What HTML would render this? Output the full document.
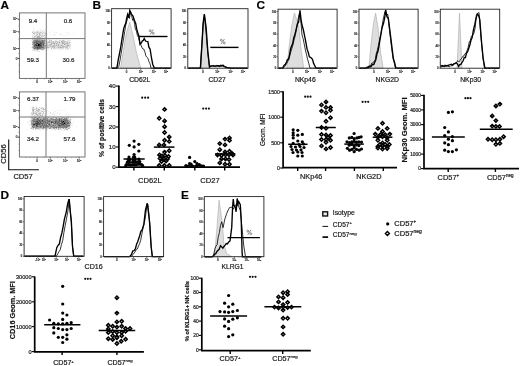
<!DOCTYPE html>
<html><head><meta charset="utf-8"><style>
html,body{margin:0;padding:0;background:#fff;width:520px;height:366px;overflow:hidden}
svg{display:block;font-family:"Liberation Sans", sans-serif;will-change:transform}
text{stroke:#1a1a1a;stroke-width:.2px}
</style></head><body>
<svg width="520" height="366" viewBox="0 0 520 366">
<rect width="520" height="366" fill="#fff"/>
<text x="0.4" y="8.9" font-size="11.8" text-anchor="start" font-weight="bold" fill="#000">A</text>
<text x="92.4" y="8.9" font-size="11.8" text-anchor="start" font-weight="bold" fill="#000">B</text>
<text x="256.6" y="8.9" font-size="11.8" text-anchor="start" font-weight="bold" fill="#000">C</text>
<text x="0.5" y="198.8" font-size="11.8" text-anchor="start" font-weight="bold" fill="#000">D</text>
<text x="181.0" y="198.8" font-size="11.8" text-anchor="start" font-weight="bold" fill="#000">E</text>
<path d="M37 37h.5v.5h-.5zM39 35.5h.5v.5h-.5zM40.5 37h.5v.5h-.5zM36.5 35.5h.5v.5h-.5zM35 35.5h.5v.5h-.5zM37.5 38.5h.5v.5h-.5zM39.5 35h.5v.5h-.5zM40.5 37.5h.5v.5h-.5zM38.5 35.5h.5v.5h-.5zM40 37.5h.5v.5h-.5zM39 39h.5v.5h-.5zM61 44h.5v.5h-.5zM65.5 41h.5v.5h-.5zM67 46h.5v.5h-.5zM44.5 44.5h.5v.5h-.5zM60 45h.5v.5h-.5zM63.5 48h.5v.5h-.5zM47.5 39.5h.5v.5h-.5zM68 43h.5v.5h-.5zM66 44h.5v.5h-.5zM66 44.5h.5v.5h-.5zM49 48h.5v.5h-.5zM60 48.5h.5v.5h-.5zM47 47h.5v.5h-.5zM64 43.5h.5v.5h-.5zM62.5 45.5h.5v.5h-.5zM70.5 47.5h.5v.5h-.5zM66.5 48h.5v.5h-.5zM46 47h.5v.5h-.5zM50.5 47.5h.5v.5h-.5zM59.5 41.5h.5v.5h-.5zM60 40.5h.5v.5h-.5zM63.5 47h.5v.5h-.5zM70 46.5h.5v.5h-.5zM62.5 42.5h.5v.5h-.5zM63 48.5h.5v.5h-.5zM66.5 45h.5v.5h-.5zM58 46.5h.5v.5h-.5zM63.5 44.5h.5v.5h-.5zM64.5 41.5h.5v.5h-.5zM48 44.5h.5v.5h-.5zM53.5 47h.5v.5h-.5zM55.5 41h.5v.5h-.5zM66.5 44h.5v.5h-.5zM56.5 42.5h.5v.5h-.5zM66.5 48.5h.5v.5h-.5zM69.5 42h.5v.5h-.5zM53 40h.5v.5h-.5zM57.5 42.5h.5v.5h-.5zM52 44h.5v.5h-.5zM52 47.5h.5v.5h-.5zM68.5 48h.5v.5h-.5zM47 41.5h.5v.5h-.5zM48.5 39h.5v.5h-.5zM65.5 41.5h.5v.5h-.5zM65.5 48h.5v.5h-.5zM52 40h.5v.5h-.5zM51.5 40h.5v.5h-.5zM68.5 49h.5v.5h-.5zM55.5 41.5h.5v.5h-.5zM56.5 45.5h.5v.5h-.5zM64.5 41h.5v.5h-.5zM59.5 44h.5v.5h-.5zM69 44.5h.5v.5h-.5zM66 45.5h.5v.5h-.5zM56 47h.5v.5h-.5zM56 45.5h.5v.5h-.5zM59 46h.5v.5h-.5zM51.5 40.5h.5v.5h-.5zM47.5 40h.5v.5h-.5zM50.5 48.5h.5v.5h-.5zM65 44h.5v.5h-.5zM45 44.5h.5v.5h-.5zM69.5 46.5h.5v.5h-.5zM63.5 40h.5v.5h-.5zM52.5 48.5h.5v.5h-.5zM68 49.5h.5v.5h-.5zM48.5 45h.5v.5h-.5zM45.5 43h.5v.5h-.5zM56.5 44.5h.5v.5h-.5zM46 48h.5v.5h-.5zM66 42.5h.5v.5h-.5zM61.5 48.5h.5v.5h-.5zM58.5 44.5h.5v.5h-.5zM52 38.5h.5v.5h-.5zM63 45h.5v.5h-.5zM52.5 39.5h.5v.5h-.5zM62 47.5h.5v.5h-.5zM62 48.5h.5v.5h-.5zM63 47h.5v.5h-.5zM57.5 39.5h.5v.5h-.5zM53 43.5h.5v.5h-.5zM57 41h.5v.5h-.5zM66 41.5h.5v.5h-.5zM54.5 46.5h.5v.5h-.5zM51.5 47.5h.5v.5h-.5zM56 48.5h.5v.5h-.5zM47.5 43h.5v.5h-.5zM48 46.5h.5v.5h-.5zM63.5 39.5h.5v.5h-.5zM54 41h.5v.5h-.5zM52.5 41.5h.5v.5h-.5zM69 43h.5v.5h-.5zM67 41h.5v.5h-.5zM58.5 42h.5v.5h-.5zM61.5 40.5h.5v.5h-.5zM66 46.5h.5v.5h-.5zM65 45h.5v.5h-.5zM53.5 48h.5v.5h-.5zM60.5 48.5h.5v.5h-.5zM54 42.5h.5v.5h-.5zM65.5 44.5h.5v.5h-.5zM46.5 43.5h.5v.5h-.5zM49 41.5h.5v.5h-.5zM46.5 45h.5v.5h-.5zM68.5 44h.5v.5h-.5zM68 42.5h.5v.5h-.5zM57 49h.5v.5h-.5zM68 42h.5v.5h-.5zM45.5 40.5h.5v.5h-.5zM57 46h.5v.5h-.5zM57.5 40.5h.5v.5h-.5zM64.5 46h.5v.5h-.5zM67.5 49h.5v.5h-.5zM57 47.5h.5v.5h-.5zM67 47h.5v.5h-.5zM45 44h.5v.5h-.5zM49 47h.5v.5h-.5zM51 48h.5v.5h-.5zM70.5 40.5h.5v.5h-.5zM50 40h.5v.5h-.5zM69 48h.5v.5h-.5zM54.5 42h.5v.5h-.5zM69 46h.5v.5h-.5zM64 41.5h.5v.5h-.5zM51.5 38.5h.5v.5h-.5zM50.5 41h.5v.5h-.5zM66.5 47h.5v.5h-.5zM70.5 42h.5v.5h-.5zM64 45h.5v.5h-.5zM64.5 40.5h.5v.5h-.5zM63.5 40.5h.5v.5h-.5zM57 46.5h.5v.5h-.5zM70 44.5h.5v.5h-.5zM49 40h.5v.5h-.5zM69.5 43h.5v.5h-.5zM52 41h.5v.5h-.5zM54.5 45h.5v.5h-.5zM51 44.5h.5v.5h-.5zM69 44h.5v.5h-.5zM67.5 43h.5v.5h-.5zM61.5 46.5h.5v.5h-.5zM67 43.5h.5v.5h-.5zM65 40.5h.5v.5h-.5zM59.5 39h.5v.5h-.5zM64.5 44h.5v.5h-.5zM54.5 41.5h.5v.5h-.5zM58.5 41h.5v.5h-.5zM69 40h.5v.5h-.5zM61 43h.5v.5h-.5zM66 42h.5v.5h-.5zM56 46.5h.5v.5h-.5zM59.5 43h.5v.5h-.5zM69.5 44.5h.5v.5h-.5zM46 41.5h.5v.5h-.5zM60 46.5h.5v.5h-.5zM59.5 47h.5v.5h-.5zM61 42.5h.5v.5h-.5zM69.5 47h.5v.5h-.5zM66 48.5h.5v.5h-.5zM59.5 46.5h.5v.5h-.5zM50 42.5h.5v.5h-.5zM53.5 42h.5v.5h-.5zM63 43h.5v.5h-.5zM47.5 44.5h.5v.5h-.5zM51 46h.5v.5h-.5zM66 45h.5v.5h-.5zM52 49h.5v.5h-.5zM47.5 46.5h.5v.5h-.5zM60.5 40.5h.5v.5h-.5zM68.5 48.5h.5v.5h-.5zM64 40h.5v.5h-.5zM49 46h.5v.5h-.5zM68 41.5h.5v.5h-.5zM59 48h.5v.5h-.5zM46 44h.5v.5h-.5zM70 46h.5v.5h-.5zM65 49h.5v.5h-.5zM68.5 45h.5v.5h-.5zM52 45.5h.5v.5h-.5zM55 46h.5v.5h-.5zM55.5 46h.5v.5h-.5zM51 45h.5v.5h-.5zM59.5 41h.5v.5h-.5zM57 43.5h.5v.5h-.5zM61 40h.5v.5h-.5zM55.5 47.5h.5v.5h-.5zM52 50h.5v.5h-.5zM70.5 45h.5v.5h-.5zM68 43.5h.5v.5h-.5zM55 47h.5v.5h-.5zM56.5 39.5h.5v.5h-.5zM61 43.5h.5v.5h-.5zM54 47h.5v.5h-.5zM68.5 42.5h.5v.5h-.5zM61.5 44.5h.5v.5h-.5zM60.5 43h.5v.5h-.5zM47 49h.5v.5h-.5zM52.5 47.5h.5v.5h-.5zM56 42h.5v.5h-.5zM49 45h.5v.5h-.5zM63.5 41.5h.5v.5h-.5zM70 44h.5v.5h-.5zM61.5 45.5h.5v.5h-.5zM58 42h.5v.5h-.5zM63 49.5h.5v.5h-.5zM65 47h.5v.5h-.5zM69 46.5h.5v.5h-.5zM65.5 42h.5v.5h-.5zM70.5 43.5h.5v.5h-.5zM60 45.5h.5v.5h-.5zM68.5 46h.5v.5h-.5zM55 40.5h.5v.5h-.5zM55.5 42h.5v.5h-.5zM47 48.5h.5v.5h-.5zM54.5 49h.5v.5h-.5zM47.5 49h.5v.5h-.5zM71 41.5h.5v.5h-.5zM49.5 43.5h.5v.5h-.5zM48 45h.5v.5h-.5zM65.5 39.5h.5v.5h-.5zM49.5 46.5h.5v.5h-.5zM62.5 49h.5v.5h-.5zM45 42h.5v.5h-.5zM60.5 42h.5v.5h-.5zM54 39.5h.5v.5h-.5zM60.5 40h.5v.5h-.5zM62 44.5h.5v.5h-.5zM55 48h.5v.5h-.5zM56.5 43h.5v.5h-.5zM68 46h.5v.5h-.5zM60 44h.5v.5h-.5zM49 43.5h.5v.5h-.5zM55 47.5h.5v.5h-.5zM65 47.5h.5v.5h-.5zM46.5 42h.5v.5h-.5zM51 42h.5v.5h-.5zM69.5 47.5h.5v.5h-.5zM51.5 43h.5v.5h-.5zM65 41.5h.5v.5h-.5zM58.5 41.5h.5v.5h-.5zM65.5 49h.5v.5h-.5zM66 39.5h.5v.5h-.5zM47.5 38.5h.5v.5h-.5zM50 44h.5v.5h-.5zM57.5 44h.5v.5h-.5zM64 40.5h.5v.5h-.5zM58.5 43.5h.5v.5h-.5zM68 40h.5v.5h-.5zM57 44h.5v.5h-.5zM64 48h.5v.5h-.5zM68.5 40.5h.5v.5h-.5zM57.5 45.5h.5v.5h-.5zM57 42h.5v.5h-.5zM46.5 44h.5v.5h-.5zM61.5 46h.5v.5h-.5zM68 47.5h.5v.5h-.5zM50 46h.5v.5h-.5zM51 42.5h.5v.5h-.5zM66 48h.5v.5h-.5zM49.5 43h.5v.5h-.5zM58 46h.5v.5h-.5zM54 49h.5v.5h-.5zM63 41.5h.5v.5h-.5zM60 40h.5v.5h-.5zM60 42h.5v.5h-.5zM65 48h.5v.5h-.5zM61 46.5h.5v.5h-.5zM68 48.5h.5v.5h-.5zM69.5 46h.5v.5h-.5zM47 43h.5v.5h-.5zM65 48.5h.5v.5h-.5zM65 46h.5v.5h-.5zM55 42h.5v.5h-.5zM60.5 49.5h.5v.5h-.5zM58 49h.5v.5h-.5zM47.5 46h.5v.5h-.5zM55.5 49h.5v.5h-.5zM69.5 41h.5v.5h-.5zM53 45.5h.5v.5h-.5zM56 44.5h.5v.5h-.5zM65.5 46h.5v.5h-.5zM49 40.5h.5v.5h-.5zM66.5 42.5h.5v.5h-.5zM66.5 44.5h.5v.5h-.5zM69 47h.5v.5h-.5zM59.5 43.5h.5v.5h-.5zM54 44.5h.5v.5h-.5zM50.5 43h.5v.5h-.5zM69.5 45.5h.5v.5h-.5zM49.5 47h.5v.5h-.5zM48.5 43.5h.5v.5h-.5zM55 43h.5v.5h-.5zM50 39.5h.5v.5h-.5zM64.5 45.5h.5v.5h-.5zM55.5 45.5h.5v.5h-.5zM62 49h.5v.5h-.5zM59.5 40.5h.5v.5h-.5zM59.5 44.5h.5v.5h-.5zM54.5 41h.5v.5h-.5zM66.5 47.5h.5v.5h-.5zM50 45h.5v.5h-.5zM67.5 49.5h.5v.5h-.5zM68.5 42h.5v.5h-.5zM46.5 48.5h.5v.5h-.5zM56.5 42h.5v.5h-.5zM50 46.5h.5v.5h-.5zM52.5 45h.5v.5h-.5zM57 44.5h.5v.5h-.5zM45 42.5h.5v.5h-.5zM55.5 45h.5v.5h-.5zM66.5 45.5h.5v.5h-.5zM60.5 42.5h.5v.5h-.5zM60 49h.5v.5h-.5zM53 48h.5v.5h-.5zM56 49h.5v.5h-.5zM51 48.5h.5v.5h-.5zM53 42h.5v.5h-.5zM49.5 41h.5v.5h-.5zM57.5 49.5h.5v.5h-.5zM70 45h.5v.5h-.5zM50 40.5h.5v.5h-.5zM63 42h.5v.5h-.5zM56.5 48.5h.5v.5h-.5zM57 43h.5v.5h-.5zM69 45h.5v.5h-.5zM61 46h.5v.5h-.5zM64 47.5h.5v.5h-.5zM64 42h.5v.5h-.5zM64 38.5h.5v.5h-.5zM69.5 41.5h.5v.5h-.5zM57 48.5h.5v.5h-.5zM61.5 42h.5v.5h-.5zM59 43h.5v.5h-.5zM49 44h.5v.5h-.5zM60 46h.5v.5h-.5zM49 49h.5v.5h-.5zM47 40h.5v.5h-.5zM61 42h.5v.5h-.5zM39 31.5h.5v.5h-.5zM45.5 39h.5v.5h-.5zM41.5 32h.5v.5h-.5zM42.5 31h.5v.5h-.5zM40 36h.5v.5h-.5zM34.5 38h.5v.5h-.5zM36 34h.5v.5h-.5zM40 31.5h.5v.5h-.5zM42.5 32h.5v.5h-.5zM40 30.5h.5v.5h-.5zM40.5 29.5h.5v.5h-.5zM37 30.5h.5v.5h-.5zM45.5 34h.5v.5h-.5zM39 32h.5v.5h-.5zM34 31.5h.5v.5h-.5zM45 37.5h.5v.5h-.5zM45.5 30.5h.5v.5h-.5zM41.5 39.5h.5v.5h-.5zM40.5 30h.5v.5h-.5zM41 30.5h.5v.5h-.5zM34 33h.5v.5h-.5zM43 35h.5v.5h-.5zM32.5 33h.5v.5h-.5zM42.5 35h.5v.5h-.5zM43.5 30.5h.5v.5h-.5zM35 32.5h.5v.5h-.5zM33 31.5h.5v.5h-.5zM37 35.5h.5v.5h-.5zM44.5 30h.5v.5h-.5zM35.5 32h.5v.5h-.5zM33.5 31h.5v.5h-.5zM45 36.5h.5v.5h-.5zM43.5 31.5h.5v.5h-.5zM33.5 32.5h.5v.5h-.5zM41 37h.5v.5h-.5zM42 37h.5v.5h-.5zM36 38h.5v.5h-.5zM44 34h.5v.5h-.5zM43.5 33.5h.5v.5h-.5zM38 32.5h.5v.5h-.5zM44.5 36h.5v.5h-.5zM34 34.5h.5v.5h-.5zM39.5 32.5h.5v.5h-.5zM36 31h.5v.5h-.5zM40 33h.5v.5h-.5zM41 32h.5v.5h-.5zM41.5 35h.5v.5h-.5zM34 38h.5v.5h-.5zM35 36.5h.5v.5h-.5zM40 35.5h.5v.5h-.5zM30.5 31.5h.5v.5h-.5zM45.5 35h.5v.5h-.5zM45.5 34.5h.5v.5h-.5zM36 39h.5v.5h-.5zM34 39h.5v.5h-.5zM38 35h.5v.5h-.5zM40.5 38.5h.5v.5h-.5zM46 31h.5v.5h-.5zM46.5 31h.5v.5h-.5zM32 36.5h.5v.5h-.5zM32.5 30.5h.5v.5h-.5zM46 33h.5v.5h-.5zM46.5 32h.5v.5h-.5zM42 38.5h.5v.5h-.5zM37.5 31.5h.5v.5h-.5zM33.5 35h.5v.5h-.5zM43.5 37.5h.5v.5h-.5zM43 30.5h.5v.5h-.5zM33.5 37.5h.5v.5h-.5zM35 31.5h.5v.5h-.5zM37.5 31h.5v.5h-.5zM31 32.5h.5v.5h-.5zM37 32.5h.5v.5h-.5zM39.5 37h.5v.5h-.5zM35 36h.5v.5h-.5zM33 32h.5v.5h-.5zM41 35.5h.5v.5h-.5zM35 31h.5v.5h-.5zM42 31.5h.5v.5h-.5zM33 39h.5v.5h-.5zM36 37h.5v.5h-.5zM42 31h.5v.5h-.5zM34 29h.5v.5h-.5zM44.5 34h.5v.5h-.5zM45.5 32.5h.5v.5h-.5zM41 34.5h.5v.5h-.5zM33.5 32h.5v.5h-.5zM38 36h.5v.5h-.5zM32 34h.5v.5h-.5zM37.5 35h.5v.5h-.5zM32.5 36h.5v.5h-.5zM34.5 36h.5v.5h-.5zM40 32h.5v.5h-.5zM33 28h.5v.5h-.5zM38 33h.5v.5h-.5zM46.5 35.5h.5v.5h-.5zM43 33.5h.5v.5h-.5zM45 34.5h.5v.5h-.5zM39 38.5h.5v.5h-.5zM41.5 29h.5v.5h-.5zM33 36h.5v.5h-.5zM42.5 32.5h.5v.5h-.5zM40.5 30.5h.5v.5h-.5zM43 36h.5v.5h-.5zM43 34.5h.5v.5h-.5zM35.5 35h.5v.5h-.5zM33 32.5h.5v.5h-.5zM33 35h.5v.5h-.5zM44 32h.5v.5h-.5zM36 33.5h.5v.5h-.5zM36.5 38.5h.5v.5h-.5zM44.5 33.5h.5v.5h-.5zM45.5 37h.5v.5h-.5zM41 36h.5v.5h-.5zM44.5 35h.5v.5h-.5zM36.5 30h.5v.5h-.5zM32 31h.5v.5h-.5zM41.5 32.5h.5v.5h-.5zM39.5 35.5h.5v.5h-.5zM40 33.5h.5v.5h-.5zM45 33.5h.5v.5h-.5zM40 34.5h.5v.5h-.5zM39 32.5h.5v.5h-.5zM34 32.5h.5v.5h-.5zM36.5 39h.5v.5h-.5zM45.5 29.5h.5v.5h-.5zM38.5 32.5h.5v.5h-.5zM40.5 36h.5v.5h-.5zM43 29h.5v.5h-.5zM38.5 33h.5v.5h-.5zM44.5 36.5h.5v.5h-.5zM39.5 34h.5v.5h-.5zM42 36.5h.5v.5h-.5zM35 37h.5v.5h-.5zM33 37.5h.5v.5h-.5zM33 33.5h.5v.5h-.5zM36 37.5h.5v.5h-.5zM38.5 29h.5v.5h-.5zM42.5 39h.5v.5h-.5zM34.5 32h.5v.5h-.5zM38 31h.5v.5h-.5zM40.5 35h.5v.5h-.5zM45 30.5h.5v.5h-.5zM37 32h.5v.5h-.5zM40.5 34.5h.5v.5h-.5zM44 37.5h.5v.5h-.5zM39 29h.5v.5h-.5zM46.5 31.5h.5v.5h-.5zM45 37h.5v.5h-.5zM40.5 33h.5v.5h-.5zM40 31h.5v.5h-.5zM32 38.5h.5v.5h-.5zM36.5 33.5h.5v.5h-.5zM33 36.5h.5v.5h-.5zM42.5 38.5h.5v.5h-.5zM42 30.5h.5v.5h-.5zM34 36h.5v.5h-.5zM32.5 37.5h.5v.5h-.5zM45.5 33h.5v.5h-.5zM42.5 28h.5v.5h-.5zM45.5 36.5h.5v.5h-.5zM44.5 31h.5v.5h-.5zM34 35.5h.5v.5h-.5zM38.5 35h.5v.5h-.5zM37.5 30.5h.5v.5h-.5zM44 31.5h.5v.5h-.5zM34.5 38.5h.5v.5h-.5zM39.5 31h.5v.5h-.5zM36 32.5h.5v.5h-.5zM43 37.5h.5v.5h-.5zM59 33.5h.5v.5h-.5zM62.5 33h.5v.5h-.5zM61.5 34h.5v.5h-.5zM56.5 32h.5v.5h-.5zM73 32.5h.5v.5h-.5zM53.5 34.5h.5v.5h-.5zM49 34.5h.5v.5h-.5zM68 33h.5v.5h-.5zM63 35.5h.5v.5h-.5zM55 34.5h.5v.5h-.5zM54 34.5h.5v.5h-.5zM69.5 34h.5v.5h-.5zM54.5 32.5h.5v.5h-.5zM65.5 34h.5v.5h-.5zM46.5 33.5h.5v.5h-.5zM50 32.5h.5v.5h-.5zM69.5 32.5h.5v.5h-.5zM67 34h.5v.5h-.5zM66 35h.5v.5h-.5zM56.5 32.5h.5v.5h-.5zM50.5 35.5h.5v.5h-.5zM63 35h.5v.5h-.5zM65.5 35.5h.5v.5h-.5zM59.5 34.5h.5v.5h-.5zM53 32.5h.5v.5h-.5zM73 33.5h.5v.5h-.5zM51 31.5h.5v.5h-.5zM66.5 31.5h.5v.5h-.5zM67.5 34.5h.5v.5h-.5zM64 32.5h.5v.5h-.5zM52 35.5h.5v.5h-.5zM53 31h.5v.5h-.5zM67.5 32h.5v.5h-.5zM47.5 34h.5v.5h-.5zM70.5 34h.5v.5h-.5zM55.5 32.5h.5v.5h-.5zM68.5 32.5h.5v.5h-.5zM49.5 36h.5v.5h-.5zM54.5 34.5h.5v.5h-.5zM60 34h.5v.5h-.5zM54 35.5h.5v.5h-.5zM66.5 32.5h.5v.5h-.5zM61 34h.5v.5h-.5zM61 34.5h.5v.5h-.5zM57.5 33h.5v.5h-.5zM55.5 35h.5v.5h-.5zM60.5 32h.5v.5h-.5zM73 35h.5v.5h-.5zM49 32.5h.5v.5h-.5zM60.5 34.5h.5v.5h-.5zM47.5 33.5h.5v.5h-.5zM51 34.5h.5v.5h-.5z" fill="#000" fill-opacity="0.14"/>
<path d="M46 43h.5v.5h-.5zM38 39h.5v.5h-.5zM38.5 50h.5v.5h-.5zM37 50.5h.5v.5h-.5zM33.5 39h.5v.5h-.5zM39 51h.5v.5h-.5zM45 38.5h.5v.5h-.5zM43.5 39h.5v.5h-.5zM32 49h.5v.5h-.5zM38.5 38.5h.5v.5h-.5zM42 41.5h.5v.5h-.5zM41.5 38h.5v.5h-.5zM33.5 48.5h.5v.5h-.5zM33 48.5h.5v.5h-.5zM40.5 38h.5v.5h-.5zM33.5 42h.5v.5h-.5zM45 40h.5v.5h-.5zM39 40h.5v.5h-.5zM32 39.5h.5v.5h-.5zM45 50h.5v.5h-.5zM32.5 42h.5v.5h-.5zM31 40.5h.5v.5h-.5zM42.5 48.5h.5v.5h-.5zM32 47h.5v.5h-.5zM38 49.5h.5v.5h-.5zM39 49h.5v.5h-.5zM33 45.5h.5v.5h-.5zM32.5 46.5h.5v.5h-.5zM45 46h.5v.5h-.5zM32.5 47h.5v.5h-.5zM42 39h.5v.5h-.5zM32.5 39h.5v.5h-.5zM33 46h.5v.5h-.5zM43 46.5h.5v.5h-.5zM44.5 44h.5v.5h-.5zM45 39h.5v.5h-.5zM35 49.5h.5v.5h-.5zM43.5 38.5h.5v.5h-.5zM41.5 39h.5v.5h-.5zM35 48.5h.5v.5h-.5zM44 47h.5v.5h-.5zM42 49.5h.5v.5h-.5zM43 39.5h.5v.5h-.5zM41.5 37.5h.5v.5h-.5zM32.5 39.5h.5v.5h-.5zM37 49.5h.5v.5h-.5zM43 46h.5v.5h-.5zM34.5 50h.5v.5h-.5zM33.5 45h.5v.5h-.5zM35.5 49.5h.5v.5h-.5zM43.5 50.5h.5v.5h-.5zM43 38h.5v.5h-.5zM44 39h.5v.5h-.5zM33.5 44.5h.5v.5h-.5zM36 49.5h.5v.5h-.5zM32.5 43h.5v.5h-.5zM40 39h.5v.5h-.5zM33.5 38.5h.5v.5h-.5zM36 39.5h.5v.5h-.5zM42.5 46h.5v.5h-.5zM38.5 49h.5v.5h-.5zM45 43h.5v.5h-.5zM43 38.5h.5v.5h-.5zM33.5 39.5h.5v.5h-.5zM44 44.5h.5v.5h-.5zM33 40h.5v.5h-.5zM33.5 50h.5v.5h-.5zM32 46h.5v.5h-.5zM37 39h.5v.5h-.5zM34 39.5h.5v.5h-.5zM36 50h.5v.5h-.5zM40.5 40h.5v.5h-.5zM44 49.5h.5v.5h-.5zM35.5 41h.5v.5h-.5zM43.5 40.5h.5v.5h-.5zM45.5 44.5h.5v.5h-.5zM36.5 49h.5v.5h-.5zM35.5 41.5h.5v.5h-.5zM42 43h.5v.5h-.5zM36 41h.5v.5h-.5zM44.5 47.5h.5v.5h-.5zM36.5 51.5h.5v.5h-.5zM32.5 41.5h.5v.5h-.5zM38.5 40.5h.5v.5h-.5zM42 48h.5v.5h-.5zM42 48.5h.5v.5h-.5zM36.5 49.5h.5v.5h-.5zM31 47h.5v.5h-.5zM43.5 49h.5v.5h-.5zM38.5 47.5h.5v.5h-.5zM39.5 40h.5v.5h-.5zM42.5 49h.5v.5h-.5zM42 47.5h.5v.5h-.5zM41.5 49h.5v.5h-.5zM35.5 38.5h.5v.5h-.5zM46.5 46.5h.5v.5h-.5zM42.5 48h.5v.5h-.5zM42 50h.5v.5h-.5zM33.5 49.5h.5v.5h-.5zM37.5 51h.5v.5h-.5zM32.5 48.5h.5v.5h-.5zM40.5 39h.5v.5h-.5zM37.5 44h.5v.5h-.5zM34.5 39h.5v.5h-.5zM42 46h.5v.5h-.5zM43 49.5h.5v.5h-.5zM34 49h.5v.5h-.5zM32 45.5h.5v.5h-.5zM46 47.5h.5v.5h-.5zM33.5 41h.5v.5h-.5zM39.5 39h.5v.5h-.5zM42 39.5h.5v.5h-.5zM45 47.5h.5v.5h-.5zM42 44h.5v.5h-.5zM42.5 45h.5v.5h-.5zM35 50.5h.5v.5h-.5zM34.5 44.5h.5v.5h-.5zM36 47.5h.5v.5h-.5zM32.5 50h.5v.5h-.5zM32 47.5h.5v.5h-.5zM38 48.5h.5v.5h-.5zM45 45h.5v.5h-.5zM32.5 45h.5v.5h-.5zM39.5 38h.5v.5h-.5zM39 37.5h.5v.5h-.5zM36 36.5h.5v.5h-.5zM40 38h.5v.5h-.5zM36.5 38h.5v.5h-.5zM36 36h.5v.5h-.5zM49 45.5h.5v.5h-.5zM69 45.5h.5v.5h-.5zM46 43.5h.5v.5h-.5zM49.5 39.5h.5v.5h-.5zM54 41.5h.5v.5h-.5zM48 47h.5v.5h-.5zM52.5 42.5h.5v.5h-.5zM52.5 46.5h.5v.5h-.5zM65.5 45.5h.5v.5h-.5zM63 47.5h.5v.5h-.5zM58 44h.5v.5h-.5zM49.5 46h.5v.5h-.5zM60 41.5h.5v.5h-.5zM57.5 42h.5v.5h-.5zM60.5 49h.5v.5h-.5zM55 45.5h.5v.5h-.5zM61.5 47.5h.5v.5h-.5zM62 46.5h.5v.5h-.5zM63.5 43.5h.5v.5h-.5zM46.5 48h.5v.5h-.5zM55.5 42.5h.5v.5h-.5zM54.5 48h.5v.5h-.5zM48.5 42h.5v.5h-.5zM60.5 44h.5v.5h-.5zM46 45h.5v.5h-.5zM62 48h.5v.5h-.5zM51.5 45.5h.5v.5h-.5zM49 46.5h.5v.5h-.5zM67.5 44.5h.5v.5h-.5zM65 45.5h.5v.5h-.5zM60.5 44.5h.5v.5h-.5zM60.5 48h.5v.5h-.5zM52 47h.5v.5h-.5zM51.5 42.5h.5v.5h-.5zM67 45.5h.5v.5h-.5zM46.5 41h.5v.5h-.5zM67 41.5h.5v.5h-.5zM62.5 43.5h.5v.5h-.5zM46.5 40.5h.5v.5h-.5zM67 49h.5v.5h-.5zM48 42h.5v.5h-.5zM57.5 43.5h.5v.5h-.5zM68.5 43h.5v.5h-.5zM64.5 46.5h.5v.5h-.5zM48 47.5h.5v.5h-.5zM69 47.5h.5v.5h-.5zM67 47.5h.5v.5h-.5zM69 42.5h.5v.5h-.5zM62 43h.5v.5h-.5zM65.5 44h.5v.5h-.5zM48 43.5h.5v.5h-.5zM59 41h.5v.5h-.5zM69.5 45h.5v.5h-.5zM49 42h.5v.5h-.5zM50 44.5h.5v.5h-.5zM62 47h.5v.5h-.5zM49.5 45h.5v.5h-.5zM47.5 48h.5v.5h-.5zM47.5 42h.5v.5h-.5zM63 42.5h.5v.5h-.5zM61 47h.5v.5h-.5zM66.5 46.5h.5v.5h-.5zM58.5 44h.5v.5h-.5zM53 43h.5v.5h-.5zM61 45h.5v.5h-.5zM59 47.5h.5v.5h-.5zM57.5 46h.5v.5h-.5zM69 41h.5v.5h-.5zM55 44.5h.5v.5h-.5zM57.5 44.5h.5v.5h-.5zM46 45.5h.5v.5h-.5zM47.5 41.5h.5v.5h-.5zM55 41h.5v.5h-.5zM65 46.5h.5v.5h-.5zM62 45h.5v.5h-.5zM55 46.5h.5v.5h-.5zM59 42h.5v.5h-.5zM47 42h.5v.5h-.5zM48.5 46.5h.5v.5h-.5zM48.5 48h.5v.5h-.5zM50.5 46h.5v.5h-.5zM64.5 43h.5v.5h-.5zM61.5 42.5h.5v.5h-.5zM58.5 48h.5v.5h-.5zM68 45h.5v.5h-.5zM59 46.5h.5v.5h-.5zM63.5 45h.5v.5h-.5zM70 45.5h.5v.5h-.5zM47 46h.5v.5h-.5zM49.5 47.5h.5v.5h-.5zM51.5 44h.5v.5h-.5zM53.5 45h.5v.5h-.5zM54 46h.5v.5h-.5zM56.5 44h.5v.5h-.5zM57.5 48h.5v.5h-.5zM48.5 44.5h.5v.5h-.5zM68.5 39.5h.5v.5h-.5zM60 42.5h.5v.5h-.5zM46.5 47.5h.5v.5h-.5zM46.5 49h.5v.5h-.5zM54 43.5h.5v.5h-.5zM57.5 47h.5v.5h-.5zM46.5 46h.5v.5h-.5zM58 41h.5v.5h-.5zM62 41.5h.5v.5h-.5zM48.5 47.5h.5v.5h-.5zM69.5 43.5h.5v.5h-.5zM46.5 42.5h.5v.5h-.5zM63 48h.5v.5h-.5zM58 43h.5v.5h-.5zM56 40h.5v.5h-.5zM67 40.5h.5v.5h-.5zM61 47.5h.5v.5h-.5zM55 42.5h.5v.5h-.5zM59 45.5h.5v.5h-.5zM53.5 45.5h.5v.5h-.5zM59 44h.5v.5h-.5zM61.5 48h.5v.5h-.5zM47.5 47h.5v.5h-.5zM63 46h.5v.5h-.5zM53 46.5h.5v.5h-.5zM47 44.5h.5v.5h-.5zM65.5 42.5h.5v.5h-.5zM60.5 46h.5v.5h-.5zM47.5 44h.5v.5h-.5zM65 44.5h.5v.5h-.5zM64 44.5h.5v.5h-.5zM63 40h.5v.5h-.5zM67.5 48h.5v.5h-.5zM67.5 41h.5v.5h-.5zM64.5 47.5h.5v.5h-.5zM50 43.5h.5v.5h-.5zM54 46.5h.5v.5h-.5zM58 45.5h.5v.5h-.5zM50.5 42h.5v.5h-.5zM69.5 42.5h.5v.5h-.5zM56.5 46.5h.5v.5h-.5zM56 41.5h.5v.5h-.5zM55.5 44.5h.5v.5h-.5zM64 46h.5v.5h-.5zM61.5 47h.5v.5h-.5zM65 43h.5v.5h-.5zM52.5 47h.5v.5h-.5zM48 42.5h.5v.5h-.5zM49.5 45.5h.5v.5h-.5zM62.5 42h.5v.5h-.5zM62.5 43h.5v.5h-.5zM45.5 46h.5v.5h-.5zM53 47h.5v.5h-.5zM50.5 47h.5v.5h-.5zM60.5 46.5h.5v.5h-.5zM62.5 45h.5v.5h-.5zM65.5 47.5h.5v.5h-.5zM51.5 48h.5v.5h-.5zM61 41.5h.5v.5h-.5zM60.5 45h.5v.5h-.5zM49.5 40h.5v.5h-.5zM56.5 45h.5v.5h-.5zM68.5 44.5h.5v.5h-.5zM67.5 45h.5v.5h-.5zM53 41h.5v.5h-.5zM56.5 41.5h.5v.5h-.5zM68.5 40h.5v.5h-.5zM63.5 45.5h.5v.5h-.5zM57.5 45h.5v.5h-.5zM55 41.5h.5v.5h-.5zM49 42.5h.5v.5h-.5zM62 46h.5v.5h-.5zM58 48h.5v.5h-.5zM65 43.5h.5v.5h-.5zM63.5 41h.5v.5h-.5zM61.5 41h.5v.5h-.5zM66.5 42h.5v.5h-.5zM51.5 44.5h.5v.5h-.5zM52 43.5h.5v.5h-.5zM54.5 42.5h.5v.5h-.5zM45.5 42h.5v.5h-.5zM66 46h.5v.5h-.5zM48 39h.5v.5h-.5zM53.5 44.5h.5v.5h-.5zM69 40.5h.5v.5h-.5zM54 48.5h.5v.5h-.5zM61.5 43h.5v.5h-.5zM66 47h.5v.5h-.5zM46 42.5h.5v.5h-.5zM54.5 46h.5v.5h-.5zM59.5 48h.5v.5h-.5zM45 33h.5v.5h-.5zM35 35h.5v.5h-.5zM41 35h.5v.5h-.5zM33.5 33h.5v.5h-.5zM42 33.5h.5v.5h-.5zM36 34.5h.5v.5h-.5zM39 34h.5v.5h-.5zM37.5 32h.5v.5h-.5zM42 36h.5v.5h-.5zM44.5 32h.5v.5h-.5zM39.5 33.5h.5v.5h-.5zM40.5 32.5h.5v.5h-.5zM43 35.5h.5v.5h-.5zM40 34h.5v.5h-.5zM41 33h.5v.5h-.5zM37.5 37.5h.5v.5h-.5zM32.5 37h.5v.5h-.5zM37.5 34h.5v.5h-.5zM41 36.5h.5v.5h-.5zM34 36.5h.5v.5h-.5zM42 37.5h.5v.5h-.5zM41.5 37h.5v.5h-.5zM42.5 36h.5v.5h-.5zM41 32.5h.5v.5h-.5zM34 33.5h.5v.5h-.5zM37 34.5h.5v.5h-.5zM37.5 34.5h.5v.5h-.5zM45 32h.5v.5h-.5zM44 37h.5v.5h-.5zM42.5 31.5h.5v.5h-.5zM34.5 36.5h.5v.5h-.5zM44.5 33h.5v.5h-.5zM37.5 33.5h.5v.5h-.5zM40.5 35.5h.5v.5h-.5zM33.5 31.5h.5v.5h-.5zM35 32h.5v.5h-.5zM46 35h.5v.5h-.5zM38.5 36.5h.5v.5h-.5zM33 33h.5v.5h-.5zM37 34h.5v.5h-.5zM36.5 32.5h.5v.5h-.5zM46.5 36.5h.5v.5h-.5zM44 38h.5v.5h-.5zM40.5 32h.5v.5h-.5zM38.5 32h.5v.5h-.5zM42 34h.5v.5h-.5zM43.5 32h.5v.5h-.5zM33 35.5h.5v.5h-.5zM44.5 37h.5v.5h-.5zM45.5 33.5h.5v.5h-.5zM33.5 30.5h.5v.5h-.5zM36.5 34.5h.5v.5h-.5zM33 37h.5v.5h-.5zM35.5 37h.5v.5h-.5zM38 32h.5v.5h-.5zM35 33.5h.5v.5h-.5zM38.5 34h.5v.5h-.5zM38.5 31.5h.5v.5h-.5zM36 31.5h.5v.5h-.5zM39.5 36h.5v.5h-.5zM32.5 35h.5v.5h-.5zM37 31h.5v.5h-.5zM42.5 35.5h.5v.5h-.5zM35 33h.5v.5h-.5zM42.5 33h.5v.5h-.5zM38.5 33.5h.5v.5h-.5zM34.5 34.5h.5v.5h-.5zM32.5 36.5h.5v.5h-.5zM37 33h.5v.5h-.5zM45.5 37.5h.5v.5h-.5zM34.5 32.5h.5v.5h-.5z" fill="#000" fill-opacity="0.29"/>
<path d="M33 48h.5v.5h-.5zM43 43h.5v.5h-.5zM39.5 43.5h.5v.5h-.5zM41.5 49.5h.5v.5h-.5zM36 49h.5v.5h-.5zM33 45h.5v.5h-.5zM36 48h.5v.5h-.5zM33 46.5h.5v.5h-.5zM43.5 48h.5v.5h-.5zM34 40h.5v.5h-.5zM41 47.5h.5v.5h-.5zM34 40.5h.5v.5h-.5zM45 47h.5v.5h-.5zM35 43.5h.5v.5h-.5zM39.5 38.5h.5v.5h-.5zM33.5 47.5h.5v.5h-.5zM32.5 40.5h.5v.5h-.5zM32 42.5h.5v.5h-.5zM37 42h.5v.5h-.5zM36 40h.5v.5h-.5zM37 39.5h.5v.5h-.5zM45.5 43.5h.5v.5h-.5zM44 48h.5v.5h-.5zM32.5 44h.5v.5h-.5zM42.5 39.5h.5v.5h-.5zM44.5 46h.5v.5h-.5zM32.5 42.5h.5v.5h-.5zM43.5 41.5h.5v.5h-.5zM34.5 49.5h.5v.5h-.5zM32.5 41h.5v.5h-.5zM43 49h.5v.5h-.5zM37.5 40.5h.5v.5h-.5zM37 40.5h.5v.5h-.5zM44 41.5h.5v.5h-.5zM32.5 47.5h.5v.5h-.5zM44.5 42.5h.5v.5h-.5zM34 50h.5v.5h-.5zM40.5 45.5h.5v.5h-.5zM45 41h.5v.5h-.5zM41.5 40.5h.5v.5h-.5zM35 43h.5v.5h-.5zM44.5 42h.5v.5h-.5zM41 44h.5v.5h-.5zM33 47h.5v.5h-.5zM43.5 47h.5v.5h-.5zM43.5 46.5h.5v.5h-.5zM42.5 45.5h.5v.5h-.5zM39.5 49h.5v.5h-.5zM41.5 44.5h.5v.5h-.5zM41.5 41h.5v.5h-.5zM41.5 42h.5v.5h-.5zM35.5 40.5h.5v.5h-.5zM40 47.5h.5v.5h-.5zM39.5 51h.5v.5h-.5zM39 41.5h.5v.5h-.5zM35.5 40h.5v.5h-.5zM41.5 40h.5v.5h-.5zM40 41h.5v.5h-.5zM32 44.5h.5v.5h-.5zM40 48h.5v.5h-.5zM44.5 43h.5v.5h-.5zM32.5 44.5h.5v.5h-.5zM44 39.5h.5v.5h-.5zM44.5 39.5h.5v.5h-.5zM43 48.5h.5v.5h-.5zM43.5 44h.5v.5h-.5zM38 42.5h.5v.5h-.5zM41 42h.5v.5h-.5zM38.5 40h.5v.5h-.5zM45.5 45h.5v.5h-.5zM34 45h.5v.5h-.5zM44 48.5h.5v.5h-.5zM45.5 47h.5v.5h-.5zM42.5 40h.5v.5h-.5zM39.5 39.5h.5v.5h-.5zM44.5 47h.5v.5h-.5zM38.5 39.5h.5v.5h-.5zM34.5 40h.5v.5h-.5zM43.5 40h.5v.5h-.5zM34 41h.5v.5h-.5zM46 44.5h.5v.5h-.5zM44.5 48h.5v.5h-.5zM44 45.5h.5v.5h-.5zM45.5 48.5h.5v.5h-.5zM38.5 42h.5v.5h-.5zM38.5 49.5h.5v.5h-.5zM45 40.5h.5v.5h-.5zM45 41.5h.5v.5h-.5zM33.5 49h.5v.5h-.5zM44 46.5h.5v.5h-.5zM39.5 42.5h.5v.5h-.5zM33.5 41.5h.5v.5h-.5zM44 47.5h.5v.5h-.5zM43 41.5h.5v.5h-.5zM43.5 41h.5v.5h-.5zM32 42h.5v.5h-.5zM33.5 40h.5v.5h-.5zM40 49.5h.5v.5h-.5zM42 49h.5v.5h-.5zM33 41.5h.5v.5h-.5zM43.5 43.5h.5v.5h-.5zM41 40h.5v.5h-.5zM41.5 38.5h.5v.5h-.5zM45.5 45.5h.5v.5h-.5zM35.5 43.5h.5v.5h-.5zM44.5 41h.5v.5h-.5zM44.5 40h.5v.5h-.5zM33 43h.5v.5h-.5zM37 50h.5v.5h-.5zM37 46h.5v.5h-.5zM36.5 48h.5v.5h-.5zM33 44.5h.5v.5h-.5zM34.5 43.5h.5v.5h-.5zM37.5 49.5h.5v.5h-.5zM38.5 37.5h.5v.5h-.5zM39.5 36.5h.5v.5h-.5zM37 36h.5v.5h-.5zM37.5 37h.5v.5h-.5zM37.5 38h.5v.5h-.5zM38 36.5h.5v.5h-.5zM37.5 36.5h.5v.5h-.5zM36.5 37.5h.5v.5h-.5zM39.5 37.5h.5v.5h-.5zM39 36h.5v.5h-.5zM38 38.5h.5v.5h-.5zM38.5 38h.5v.5h-.5zM35.5 36.5h.5v.5h-.5zM55.5 46.5h.5v.5h-.5zM67.5 42.5h.5v.5h-.5zM58.5 42.5h.5v.5h-.5zM51 43h.5v.5h-.5zM48 41h.5v.5h-.5zM53.5 47.5h.5v.5h-.5zM64 46.5h.5v.5h-.5zM51 41.5h.5v.5h-.5zM69 42h.5v.5h-.5zM55 48.5h.5v.5h-.5zM58.5 47h.5v.5h-.5zM52 42h.5v.5h-.5zM52.5 45.5h.5v.5h-.5zM51 41h.5v.5h-.5zM47 43.5h.5v.5h-.5zM46 42h.5v.5h-.5zM50.5 44h.5v.5h-.5zM62.5 40h.5v.5h-.5zM51.5 46h.5v.5h-.5zM52 46.5h.5v.5h-.5zM62 44h.5v.5h-.5zM59.5 45.5h.5v.5h-.5zM53.5 48.5h.5v.5h-.5zM59 43.5h.5v.5h-.5zM68 44.5h.5v.5h-.5zM55.5 43.5h.5v.5h-.5zM63 41h.5v.5h-.5zM49.5 42.5h.5v.5h-.5zM62.5 47.5h.5v.5h-.5zM61.5 45h.5v.5h-.5zM46.5 44.5h.5v.5h-.5zM67 48h.5v.5h-.5zM64.5 42h.5v.5h-.5zM67.5 46.5h.5v.5h-.5zM58 47.5h.5v.5h-.5zM51.5 46.5h.5v.5h-.5zM51 43.5h.5v.5h-.5zM50 41.5h.5v.5h-.5zM48 41.5h.5v.5h-.5zM58 44.5h.5v.5h-.5zM57 42.5h.5v.5h-.5zM63.5 47.5h.5v.5h-.5zM70 42h.5v.5h-.5zM64 42.5h.5v.5h-.5zM67.5 45.5h.5v.5h-.5zM47 46.5h.5v.5h-.5zM62.5 41h.5v.5h-.5zM47 42.5h.5v.5h-.5zM65 41h.5v.5h-.5zM57.5 43h.5v.5h-.5zM51 49h.5v.5h-.5zM67 43h.5v.5h-.5zM63 40.5h.5v.5h-.5zM51.5 47h.5v.5h-.5zM64 43h.5v.5h-.5zM54.5 47.5h.5v.5h-.5zM58.5 47.5h.5v.5h-.5zM63.5 43h.5v.5h-.5zM62.5 41.5h.5v.5h-.5zM60.5 47h.5v.5h-.5zM51.5 48.5h.5v.5h-.5zM53 42.5h.5v.5h-.5zM47 47.5h.5v.5h-.5zM52.5 46h.5v.5h-.5zM47.5 45.5h.5v.5h-.5zM58.5 46.5h.5v.5h-.5zM63.5 46.5h.5v.5h-.5zM49 41h.5v.5h-.5zM52 41.5h.5v.5h-.5zM54 44h.5v.5h-.5zM60.5 47.5h.5v.5h-.5zM66 43.5h.5v.5h-.5zM68 45.5h.5v.5h-.5zM50.5 42.5h.5v.5h-.5zM48.5 47h.5v.5h-.5zM70 48h.5v.5h-.5zM55.5 40h.5v.5h-.5zM53.5 43.5h.5v.5h-.5zM68.5 45.5h.5v.5h-.5zM54.5 45.5h.5v.5h-.5zM50.5 44.5h.5v.5h-.5zM56 43.5h.5v.5h-.5zM52.5 44.5h.5v.5h-.5zM54 45h.5v.5h-.5zM50.5 40.5h.5v.5h-.5zM66.5 46h.5v.5h-.5zM53.5 46.5h.5v.5h-.5zM56 44h.5v.5h-.5zM66 47.5h.5v.5h-.5zM46.5 45.5h.5v.5h-.5zM47.5 47.5h.5v.5h-.5zM62 42h.5v.5h-.5zM44.5 35.5h.5v.5h-.5zM42 35.5h.5v.5h-.5zM43.5 34.5h.5v.5h-.5zM39 34.5h.5v.5h-.5zM32.5 32.5h.5v.5h-.5zM39 35h.5v.5h-.5zM34.5 33h.5v.5h-.5zM39 33h.5v.5h-.5zM44 35.5h.5v.5h-.5zM41.5 36.5h.5v.5h-.5zM37.5 36h.5v.5h-.5zM40.5 34h.5v.5h-.5zM33.5 33.5h.5v.5h-.5zM36 35.5h.5v.5h-.5zM45 35.5h.5v.5h-.5zM39.5 34.5h.5v.5h-.5zM32.5 32h.5v.5h-.5zM42.5 33.5h.5v.5h-.5zM43 36.5h.5v.5h-.5zM34.5 37.5h.5v.5h-.5zM36 32h.5v.5h-.5zM43.5 32.5h.5v.5h-.5zM34.5 37h.5v.5h-.5zM40 32.5h.5v.5h-.5zM34.5 34h.5v.5h-.5zM37.5 32.5h.5v.5h-.5z" fill="#000" fill-opacity="0.43"/>
<path d="M33.5 40.5h.5v.5h-.5zM33 43.5h.5v.5h-.5zM38 49h.5v.5h-.5zM37.5 43.5h.5v.5h-.5zM35.5 47h.5v.5h-.5zM39 39.5h.5v.5h-.5zM34.5 41.5h.5v.5h-.5zM34 48h.5v.5h-.5zM34.5 40.5h.5v.5h-.5zM40.5 49h.5v.5h-.5zM33.5 46.5h.5v.5h-.5zM39.5 40.5h.5v.5h-.5zM35.5 46h.5v.5h-.5zM34 42h.5v.5h-.5zM34.5 39.5h.5v.5h-.5zM34 43.5h.5v.5h-.5zM34.5 47h.5v.5h-.5zM33 41h.5v.5h-.5zM43 48h.5v.5h-.5zM43.5 42h.5v.5h-.5zM43 40.5h.5v.5h-.5zM42.5 44.5h.5v.5h-.5zM41 39.5h.5v.5h-.5zM33 42h.5v.5h-.5zM35.5 43h.5v.5h-.5zM33 40.5h.5v.5h-.5zM36 46h.5v.5h-.5zM43 42h.5v.5h-.5zM37 41.5h.5v.5h-.5zM34.5 45.5h.5v.5h-.5zM40.5 48.5h.5v.5h-.5zM44.5 45.5h.5v.5h-.5zM34 47.5h.5v.5h-.5zM42.5 41h.5v.5h-.5zM36.5 42.5h.5v.5h-.5zM37 40h.5v.5h-.5zM44 46h.5v.5h-.5zM41 48h.5v.5h-.5zM41 49h.5v.5h-.5zM38 46h.5v.5h-.5zM35 49h.5v.5h-.5zM38 40h.5v.5h-.5zM39.5 42h.5v.5h-.5zM39.5 48h.5v.5h-.5zM35 48h.5v.5h-.5zM41.5 48.5h.5v.5h-.5zM37.5 42h.5v.5h-.5zM34.5 42.5h.5v.5h-.5zM41 41.5h.5v.5h-.5zM37.5 39h.5v.5h-.5zM33.5 42.5h.5v.5h-.5zM38.5 41.5h.5v.5h-.5zM34.5 43h.5v.5h-.5zM42.5 43.5h.5v.5h-.5zM43.5 47.5h.5v.5h-.5zM45.5 46.5h.5v.5h-.5zM40 44h.5v.5h-.5zM35 39.5h.5v.5h-.5zM43.5 48.5h.5v.5h-.5zM44.5 48.5h.5v.5h-.5zM36.5 44h.5v.5h-.5zM39 47.5h.5v.5h-.5zM44 42h.5v.5h-.5zM36 47h.5v.5h-.5zM44 42.5h.5v.5h-.5zM40 40.5h.5v.5h-.5zM42.5 49.5h.5v.5h-.5zM32.5 43.5h.5v.5h-.5zM41 46h.5v.5h-.5zM45 45.5h.5v.5h-.5zM40 40h.5v.5h-.5zM42 45h.5v.5h-.5zM41.5 41.5h.5v.5h-.5zM36.5 40h.5v.5h-.5zM33.5 48h.5v.5h-.5zM33 47.5h.5v.5h-.5zM33.5 47h.5v.5h-.5zM40.5 42h.5v.5h-.5zM38 39.5h.5v.5h-.5zM40.5 47h.5v.5h-.5zM33.5 43h.5v.5h-.5zM33.5 46h.5v.5h-.5zM37 49h.5v.5h-.5zM44.5 40.5h.5v.5h-.5zM37 37.5h.5v.5h-.5zM36 35h.5v.5h-.5zM40 38.5h.5v.5h-.5zM40 37h.5v.5h-.5zM39 37h.5v.5h-.5zM38 37h.5v.5h-.5zM67.5 43.5h.5v.5h-.5zM56.5 41h.5v.5h-.5zM54.5 43h.5v.5h-.5zM48 45.5h.5v.5h-.5zM66.5 43.5h.5v.5h-.5zM67.5 46h.5v.5h-.5zM58 45h.5v.5h-.5zM59.5 47.5h.5v.5h-.5zM53.5 43h.5v.5h-.5zM65.5 43h.5v.5h-.5zM49.5 42h.5v.5h-.5zM51.5 42h.5v.5h-.5zM67 44h.5v.5h-.5zM54.5 47h.5v.5h-.5zM54.5 44.5h.5v.5h-.5zM53.5 46h.5v.5h-.5zM59.5 42.5h.5v.5h-.5zM67 45h.5v.5h-.5zM63 43.5h.5v.5h-.5zM65.5 47h.5v.5h-.5zM62 42.5h.5v.5h-.5zM62.5 44h.5v.5h-.5zM64 44h.5v.5h-.5zM52.5 43.5h.5v.5h-.5zM57 41.5h.5v.5h-.5zM67.5 47h.5v.5h-.5zM66.5 41h.5v.5h-.5zM53 45h.5v.5h-.5zM57.5 46.5h.5v.5h-.5zM53.5 42.5h.5v.5h-.5zM62.5 46.5h.5v.5h-.5zM64.5 44.5h.5v.5h-.5zM58.5 45h.5v.5h-.5zM54 43h.5v.5h-.5zM53.5 41.5h.5v.5h-.5zM49.5 40.5h.5v.5h-.5zM63 46.5h.5v.5h-.5zM56.5 47h.5v.5h-.5zM59 42.5h.5v.5h-.5zM50.5 46.5h.5v.5h-.5zM63.5 42.5h.5v.5h-.5zM62.5 40.5h.5v.5h-.5zM64 41h.5v.5h-.5zM39.5 33h.5v.5h-.5z" fill="#000" fill-opacity="0.57"/>
<path d="M37.5 41.5h.5v.5h-.5zM41.5 43h.5v.5h-.5zM42.5 46.5h.5v.5h-.5zM38.5 46h.5v.5h-.5zM34.5 48.5h.5v.5h-.5zM37 41h.5v.5h-.5zM35 40h.5v.5h-.5zM39 41h.5v.5h-.5zM36.5 39.5h.5v.5h-.5zM43 47h.5v.5h-.5zM36 45.5h.5v.5h-.5zM40 41.5h.5v.5h-.5zM33.5 43.5h.5v.5h-.5zM42.5 40.5h.5v.5h-.5zM39.5 48.5h.5v.5h-.5zM42.5 42h.5v.5h-.5zM37.5 49h.5v.5h-.5zM36 48.5h.5v.5h-.5zM42 42.5h.5v.5h-.5zM41 41h.5v.5h-.5zM44 44h.5v.5h-.5zM44 43.5h.5v.5h-.5zM40 44.5h.5v.5h-.5zM35.5 48.5h.5v.5h-.5zM37 42.5h.5v.5h-.5zM40.5 48h.5v.5h-.5zM38 42h.5v.5h-.5zM34 41.5h.5v.5h-.5zM35.5 39.5h.5v.5h-.5zM44 40.5h.5v.5h-.5zM34.5 46.5h.5v.5h-.5zM39 42h.5v.5h-.5zM35 40.5h.5v.5h-.5zM43.5 43h.5v.5h-.5zM43.5 45.5h.5v.5h-.5zM41.5 47.5h.5v.5h-.5zM42.5 44h.5v.5h-.5zM33 42.5h.5v.5h-.5zM43 42.5h.5v.5h-.5zM34.5 41h.5v.5h-.5zM38 47h.5v.5h-.5zM36.5 47.5h.5v.5h-.5zM42 45.5h.5v.5h-.5zM37.5 48h.5v.5h-.5zM40.5 41.5h.5v.5h-.5zM40 46.5h.5v.5h-.5zM34 44h.5v.5h-.5zM40.5 46.5h.5v.5h-.5zM41 45.5h.5v.5h-.5zM35 46h.5v.5h-.5zM37.5 39.5h.5v.5h-.5zM44.5 41.5h.5v.5h-.5zM43 40h.5v.5h-.5zM42 40h.5v.5h-.5zM36 40.5h.5v.5h-.5zM38.5 48.5h.5v.5h-.5zM36.5 43.5h.5v.5h-.5zM33.5 45.5h.5v.5h-.5zM40 39.5h.5v.5h-.5zM39.5 43h.5v.5h-.5zM34.5 46h.5v.5h-.5zM37.5 44.5h.5v.5h-.5zM41.5 46h.5v.5h-.5zM37.5 46.5h.5v.5h-.5zM34 44.5h.5v.5h-.5zM40 42.5h.5v.5h-.5zM38.5 43.5h.5v.5h-.5zM43 45h.5v.5h-.5zM43 47.5h.5v.5h-.5zM44 43h.5v.5h-.5zM41.5 46.5h.5v.5h-.5zM38.5 43h.5v.5h-.5zM36.5 48.5h.5v.5h-.5zM38.5 36h.5v.5h-.5zM39 38h.5v.5h-.5zM49.5 44.5h.5v.5h-.5zM56.5 43.5h.5v.5h-.5zM51 40.5h.5v.5h-.5zM50.5 45h.5v.5h-.5zM51 44h.5v.5h-.5zM61 45.5h.5v.5h-.5zM59 40.5h.5v.5h-.5zM47.5 45h.5v.5h-.5zM56 45h.5v.5h-.5zM62 43.5h.5v.5h-.5zM61.5 41.5h.5v.5h-.5zM67 42h.5v.5h-.5zM60 47h.5v.5h-.5z" fill="#000" fill-opacity="0.71"/>
<path d="M38 41.5h.5v.5h-.5zM34 42.5h.5v.5h-.5zM35 47h.5v.5h-.5zM35.5 45h.5v.5h-.5zM38 40.5h.5v.5h-.5zM42.5 42.5h.5v.5h-.5zM35.5 45.5h.5v.5h-.5zM43.5 44.5h.5v.5h-.5zM43.5 42.5h.5v.5h-.5zM41 47h.5v.5h-.5zM37.5 41h.5v.5h-.5zM36 43h.5v.5h-.5zM35.5 48h.5v.5h-.5zM39.5 44.5h.5v.5h-.5zM39 46h.5v.5h-.5zM37 48h.5v.5h-.5zM41 40.5h.5v.5h-.5zM34.5 47.5h.5v.5h-.5zM39.5 41h.5v.5h-.5zM35.5 46.5h.5v.5h-.5zM34.5 42h.5v.5h-.5zM36 44h.5v.5h-.5zM39 40.5h.5v.5h-.5zM37.5 45h.5v.5h-.5zM36.5 44.5h.5v.5h-.5zM33.5 44h.5v.5h-.5zM41.5 44h.5v.5h-.5zM35 44.5h.5v.5h-.5zM42 43.5h.5v.5h-.5zM34 43h.5v.5h-.5zM40 43h.5v.5h-.5zM34.5 48h.5v.5h-.5zM36.5 40.5h.5v.5h-.5zM39.5 46.5h.5v.5h-.5zM44 40h.5v.5h-.5zM38 46.5h.5v.5h-.5zM42 40.5h.5v.5h-.5zM43 43.5h.5v.5h-.5zM41 43h.5v.5h-.5zM43 45.5h.5v.5h-.5zM36.5 46.5h.5v.5h-.5zM42.5 41.5h.5v.5h-.5zM35.5 42h.5v.5h-.5zM42 44.5h.5v.5h-.5zM41.5 42.5h.5v.5h-.5zM42 47h.5v.5h-.5zM41.5 48h.5v.5h-.5zM42 46.5h.5v.5h-.5zM34.5 44h.5v.5h-.5zM41.5 45.5h.5v.5h-.5zM39 48.5h.5v.5h-.5zM35 41.5h.5v.5h-.5zM34.5 45h.5v.5h-.5zM42 41h.5v.5h-.5zM39.5 47h.5v.5h-.5zM38 41h.5v.5h-.5zM42.5 47.5h.5v.5h-.5zM36.5 42h.5v.5h-.5zM36 41.5h.5v.5h-.5zM40.5 43h.5v.5h-.5zM41.5 43.5h.5v.5h-.5zM35 41h.5v.5h-.5zM36.5 46h.5v.5h-.5zM40.5 46h.5v.5h-.5zM40 47h.5v.5h-.5zM35 44h.5v.5h-.5zM39.5 47.5h.5v.5h-.5zM40.5 47.5h.5v.5h-.5zM37 48.5h.5v.5h-.5zM38.5 42.5h.5v.5h-.5zM41 44.5h.5v.5h-.5zM34 45.5h.5v.5h-.5zM37 44.5h.5v.5h-.5zM44.5 45h.5v.5h-.5zM35 42h.5v.5h-.5zM38 48h.5v.5h-.5zM34 46.5h.5v.5h-.5zM43.5 46h.5v.5h-.5zM40 48.5h.5v.5h-.5zM39 45h.5v.5h-.5zM40 42h.5v.5h-.5zM38 43h.5v.5h-.5zM39 43.5h.5v.5h-.5zM37 45h.5v.5h-.5zM37.5 46h.5v.5h-.5zM41.5 45h.5v.5h-.5zM36.5 41.5h.5v.5h-.5zM41 43.5h.5v.5h-.5zM37 47.5h.5v.5h-.5z" fill="#000" fill-opacity="0.86"/>
<path d="M39 44.5h.5v.5h-.5zM35.5 47.5h.5v.5h-.5zM39.5 41.5h.5v.5h-.5zM40 45.5h.5v.5h-.5zM37.5 47.5h.5v.5h-.5zM40.5 43.5h.5v.5h-.5zM38 43.5h.5v.5h-.5zM42 42h.5v.5h-.5zM35 45h.5v.5h-.5zM43.5 45h.5v.5h-.5zM37 45.5h.5v.5h-.5zM37 43h.5v.5h-.5zM39 44h.5v.5h-.5zM40.5 44h.5v.5h-.5zM39 43h.5v.5h-.5zM35.5 44h.5v.5h-.5zM38 44h.5v.5h-.5zM34 48.5h.5v.5h-.5zM36.5 43h.5v.5h-.5zM38 44.5h.5v.5h-.5zM38 45.5h.5v.5h-.5zM39.5 45.5h.5v.5h-.5zM41 45h.5v.5h-.5zM42.5 43h.5v.5h-.5zM41 42.5h.5v.5h-.5zM40.5 45h.5v.5h-.5zM36 45h.5v.5h-.5zM40 46h.5v.5h-.5zM35 47.5h.5v.5h-.5zM36 42.5h.5v.5h-.5zM38.5 41h.5v.5h-.5zM37.5 42.5h.5v.5h-.5zM37.5 40h.5v.5h-.5zM34 46h.5v.5h-.5zM35.5 42.5h.5v.5h-.5zM40 43.5h.5v.5h-.5zM37.5 45.5h.5v.5h-.5zM36 42h.5v.5h-.5zM39.5 46h.5v.5h-.5zM37 46.5h.5v.5h-.5zM35 45.5h.5v.5h-.5zM41 46.5h.5v.5h-.5zM38.5 47h.5v.5h-.5zM38.5 45h.5v.5h-.5zM39.5 44h.5v.5h-.5zM43 41h.5v.5h-.5zM37.5 43h.5v.5h-.5zM41.5 47h.5v.5h-.5zM36 44.5h.5v.5h-.5zM37.5 47h.5v.5h-.5zM40.5 41h.5v.5h-.5zM40 45h.5v.5h-.5zM38.5 45.5h.5v.5h-.5zM37 47h.5v.5h-.5zM36.5 45.5h.5v.5h-.5zM40.5 44.5h.5v.5h-.5zM36.5 45h.5v.5h-.5zM39 46.5h.5v.5h-.5zM39 42.5h.5v.5h-.5zM36.5 47h.5v.5h-.5zM42.5 47h.5v.5h-.5zM38 47.5h.5v.5h-.5zM35.5 44.5h.5v.5h-.5zM40.5 42.5h.5v.5h-.5zM43 44h.5v.5h-.5zM39 45.5h.5v.5h-.5zM37 43.5h.5v.5h-.5zM38.5 44h.5v.5h-.5zM38 45h.5v.5h-.5zM39.5 45h.5v.5h-.5zM37.5 48.5h.5v.5h-.5zM43 44.5h.5v.5h-.5zM38.5 48h.5v.5h-.5zM37 44h.5v.5h-.5zM36.5 41h.5v.5h-.5zM36 43.5h.5v.5h-.5zM39 47h.5v.5h-.5zM36 46.5h.5v.5h-.5zM39 48h.5v.5h-.5zM38.5 44.5h.5v.5h-.5zM38.5 46.5h.5v.5h-.5z" fill="#000" fill-opacity="1.00"/>
<rect x="19.4" y="12.9" width="65.6" height="65.5" fill="none" stroke="#666" stroke-width="0.9"/>
<line x1="46.3" y1="12.9" x2="46.3" y2="78.4" stroke="#777" stroke-width="1.0"/>
<line x1="19.4" y1="38.6" x2="85" y2="38.6" stroke="#777" stroke-width="1.0"/>
<text x="33" y="22.7" font-size="6.2" text-anchor="middle" font-weight="normal" fill="#2a2a2a">9.4</text>
<text x="68" y="22.7" font-size="6.2" text-anchor="middle" font-weight="normal" fill="#2a2a2a">0.6</text>
<text x="33" y="62" font-size="6.2" text-anchor="middle" font-weight="normal" fill="#2a2a2a">59.3</text>
<text x="68.5" y="62" font-size="6.2" text-anchor="middle" font-weight="normal" fill="#2a2a2a">30.6</text>
<line x1="17.9" y1="19.253500000000003" x2="19.4" y2="19.253500000000003" stroke="#222" stroke-width="0.9"/>
<text x="17.4" y="20.353500000000004" font-size="3" text-anchor="end" font-weight="normal" fill="#777">10<tspan font-size="2" dy="-1">5</tspan></text>
<line x1="17.9" y1="31.894999999999996" x2="19.4" y2="31.894999999999996" stroke="#222" stroke-width="0.9"/>
<text x="17.4" y="32.995" font-size="3" text-anchor="end" font-weight="normal" fill="#777">10<tspan font-size="2" dy="-1">4</tspan></text>
<line x1="17.9" y1="48.597500000000004" x2="19.4" y2="48.597500000000004" stroke="#222" stroke-width="0.9"/>
<text x="17.4" y="49.697500000000005" font-size="3" text-anchor="end" font-weight="normal" fill="#777">10<tspan font-size="2" dy="-1">3</tspan></text>
<line x1="17.9" y1="58.42249999999999" x2="19.4" y2="58.42249999999999" stroke="#222" stroke-width="0.9"/>
<text x="17.4" y="59.522499999999994" font-size="3" text-anchor="end" font-weight="normal" fill="#777">0</text>
<line x1="18.4" y1="26.0" x2="19.4" y2="26.0" stroke="#666" stroke-width="0.5"/>
<line x1="18.4" y1="39.1" x2="19.4" y2="39.1" stroke="#666" stroke-width="0.5"/>
<line x1="18.4" y1="53.51" x2="19.4" y2="53.51" stroke="#666" stroke-width="0.5"/>
<line x1="18.4" y1="65.30000000000001" x2="19.4" y2="65.30000000000001" stroke="#666" stroke-width="0.5"/>
<line x1="18.4" y1="71.85000000000001" x2="19.4" y2="71.85000000000001" stroke="#666" stroke-width="0.5"/>
<line x1="37.111999999999995" y1="78.4" x2="37.111999999999995" y2="79.9" stroke="#333" stroke-width="0.8"/>
<text x="37.111999999999995" y="83.4" font-size="3" text-anchor="middle" font-weight="normal" fill="#666">0</text>
<line x1="50.232" y1="78.4" x2="50.232" y2="79.9" stroke="#333" stroke-width="0.8"/>
<text x="50.232" y="83.4" font-size="3" text-anchor="middle" font-weight="normal" fill="#666">10<tspan font-size="2" dy="-1">3</tspan></text>
<line x1="65.32" y1="78.4" x2="65.32" y2="79.9" stroke="#333" stroke-width="0.8"/>
<text x="65.32" y="83.4" font-size="3" text-anchor="middle" font-weight="normal" fill="#666">10<tspan font-size="2" dy="-1">4</tspan></text>
<line x1="79.096" y1="78.4" x2="79.096" y2="79.9" stroke="#333" stroke-width="0.8"/>
<text x="79.096" y="83.4" font-size="3" text-anchor="middle" font-weight="normal" fill="#666">10<tspan font-size="2" dy="-1">5</tspan></text>
<line x1="25.959999999999997" y1="78.4" x2="25.959999999999997" y2="79.4" stroke="#666" stroke-width="0.5"/>
<line x1="30.552" y1="78.4" x2="30.552" y2="79.4" stroke="#666" stroke-width="0.5"/>
<line x1="33.831999999999994" y1="78.4" x2="33.831999999999994" y2="79.4" stroke="#666" stroke-width="0.5"/>
<line x1="44.327999999999996" y1="78.4" x2="44.327999999999996" y2="79.4" stroke="#666" stroke-width="0.5"/>
<line x1="57.44799999999999" y1="78.4" x2="57.44799999999999" y2="79.4" stroke="#666" stroke-width="0.5"/>
<line x1="61.38399999999999" y1="78.4" x2="61.38399999999999" y2="79.4" stroke="#666" stroke-width="0.5"/>
<line x1="71.88" y1="78.4" x2="71.88" y2="79.4" stroke="#666" stroke-width="0.5"/>
<line x1="75.816" y1="78.4" x2="75.816" y2="79.4" stroke="#666" stroke-width="0.5"/>
<path d="M30 108.5h.5v.5h-.5zM33.5 117h.5v.5h-.5zM33.5 115h.5v.5h-.5zM35.5 109h.5v.5h-.5zM37 110h.5v.5h-.5zM43.5 111.5h.5v.5h-.5zM41.5 115.5h.5v.5h-.5zM40 116.5h.5v.5h-.5zM43 115.5h.5v.5h-.5zM37 113.5h.5v.5h-.5zM44 116.5h.5v.5h-.5zM31 113h.5v.5h-.5zM32 107.5h.5v.5h-.5zM40 107h.5v.5h-.5zM37.5 109.5h.5v.5h-.5zM41 114h.5v.5h-.5zM33 112h.5v.5h-.5zM43 113.5h.5v.5h-.5zM42.5 113.5h.5v.5h-.5zM36.5 113.5h.5v.5h-.5zM38.5 117.5h.5v.5h-.5zM37.5 115.5h.5v.5h-.5zM30.5 113.5h.5v.5h-.5zM40 112.5h.5v.5h-.5zM31.5 115h.5v.5h-.5zM31.5 116.5h.5v.5h-.5zM32 105.5h.5v.5h-.5zM31 112.5h.5v.5h-.5zM38 115.5h.5v.5h-.5zM36.5 114h.5v.5h-.5zM40.5 112h.5v.5h-.5zM44 111h.5v.5h-.5zM45 116h.5v.5h-.5zM33 114h.5v.5h-.5zM39 109.5h.5v.5h-.5zM43.5 112h.5v.5h-.5zM42.5 113h.5v.5h-.5zM37 116h.5v.5h-.5zM31.5 107h.5v.5h-.5zM40 111h.5v.5h-.5zM39 110.5h.5v.5h-.5zM44.5 115h.5v.5h-.5zM36.5 115.5h.5v.5h-.5zM42.5 110h.5v.5h-.5zM42.5 117h.5v.5h-.5zM39.5 112h.5v.5h-.5zM38.5 106.5h.5v.5h-.5zM41 115.5h.5v.5h-.5zM34 109h.5v.5h-.5zM37 109.5h.5v.5h-.5zM31.5 115.5h.5v.5h-.5zM42 111h.5v.5h-.5zM39.5 113h.5v.5h-.5zM39.5 114.5h.5v.5h-.5zM32 107h.5v.5h-.5zM39.5 108.5h.5v.5h-.5zM38.5 117h.5v.5h-.5zM40 116h.5v.5h-.5zM43 117h.5v.5h-.5zM40.5 114h.5v.5h-.5zM43 107.5h.5v.5h-.5zM32.5 115.5h.5v.5h-.5zM35 110.5h.5v.5h-.5zM38 116.5h.5v.5h-.5zM39 111h.5v.5h-.5zM32.5 108.5h.5v.5h-.5zM29.5 115h.5v.5h-.5zM40 115h.5v.5h-.5zM35 105h.5v.5h-.5zM33.5 114.5h.5v.5h-.5zM38.5 110h.5v.5h-.5zM36.5 107.5h.5v.5h-.5zM32.5 109.5h.5v.5h-.5zM32.5 111.5h.5v.5h-.5zM36 114.5h.5v.5h-.5zM37.5 110h.5v.5h-.5zM40.5 108h.5v.5h-.5zM41 108h.5v.5h-.5zM31 107.5h.5v.5h-.5zM41.5 111.5h.5v.5h-.5zM38.5 108.5h.5v.5h-.5zM36 115.5h.5v.5h-.5zM39.5 111h.5v.5h-.5zM41.5 109.5h.5v.5h-.5zM40.5 110.5h.5v.5h-.5zM38 107.5h.5v.5h-.5zM42.5 114.5h.5v.5h-.5zM36 109.5h.5v.5h-.5zM35.5 114.5h.5v.5h-.5zM44 114h.5v.5h-.5zM39 110h.5v.5h-.5zM33.5 114h.5v.5h-.5zM33.5 110h.5v.5h-.5zM41.5 115h.5v.5h-.5zM37.5 107h.5v.5h-.5zM44.5 114h.5v.5h-.5zM41.5 117.5h.5v.5h-.5zM39.5 109.5h.5v.5h-.5zM36.5 112h.5v.5h-.5zM42 113h.5v.5h-.5zM43 115h.5v.5h-.5zM44.5 113h.5v.5h-.5zM43.5 114.5h.5v.5h-.5zM36.5 108.5h.5v.5h-.5zM35.5 111.5h.5v.5h-.5zM41.5 107h.5v.5h-.5zM35 111.5h.5v.5h-.5zM34.5 115.5h.5v.5h-.5zM30.5 110h.5v.5h-.5zM37 116.5h.5v.5h-.5zM38 108h.5v.5h-.5zM35.5 112.5h.5v.5h-.5zM33 109h.5v.5h-.5zM40 117h.5v.5h-.5zM30.5 108.5h.5v.5h-.5zM35 113.5h.5v.5h-.5zM34.5 108h.5v.5h-.5zM37.5 113.5h.5v.5h-.5zM36 111h.5v.5h-.5zM44 114.5h.5v.5h-.5zM40.5 114.5h.5v.5h-.5zM35 109.5h.5v.5h-.5zM38 115h.5v.5h-.5zM40 108h.5v.5h-.5zM40.5 116h.5v.5h-.5zM40 109h.5v.5h-.5zM45.5 109h.5v.5h-.5zM39 115h.5v.5h-.5zM35.5 108h.5v.5h-.5zM29.5 116.5h.5v.5h-.5zM45 110h.5v.5h-.5zM39.5 115.5h.5v.5h-.5zM38.5 112.5h.5v.5h-.5zM34.5 113h.5v.5h-.5zM32 108.5h.5v.5h-.5zM38.5 108h.5v.5h-.5zM31 117h.5v.5h-.5zM44 115.5h.5v.5h-.5zM37.5 115h.5v.5h-.5zM44.5 108h.5v.5h-.5zM31 116h.5v.5h-.5zM33 113.5h.5v.5h-.5zM38.5 114.5h.5v.5h-.5zM37 117.5h.5v.5h-.5zM39 109h.5v.5h-.5zM33.5 106.5h.5v.5h-.5zM45.5 115.5h.5v.5h-.5zM42.5 111h.5v.5h-.5zM40 114.5h.5v.5h-.5zM34.5 114h.5v.5h-.5zM34.5 115h.5v.5h-.5zM42 109.5h.5v.5h-.5zM41 107h.5v.5h-.5zM33.5 108.5h.5v.5h-.5zM33 108.5h.5v.5h-.5zM40.5 111h.5v.5h-.5zM34.5 111.5h.5v.5h-.5zM31 117.5h.5v.5h-.5zM36.5 109.5h.5v.5h-.5zM41 115h.5v.5h-.5zM34 109.5h.5v.5h-.5zM41.5 116h.5v.5h-.5zM43 111.5h.5v.5h-.5zM40.5 115.5h.5v.5h-.5zM38 113h.5v.5h-.5zM43 107h.5v.5h-.5zM34.5 110h.5v.5h-.5zM34.5 113.5h.5v.5h-.5zM42.5 114h.5v.5h-.5zM41.5 117h.5v.5h-.5zM35 111h.5v.5h-.5zM34.5 117h.5v.5h-.5zM31.5 118.5h.5v.5h-.5zM42 115h.5v.5h-.5zM32 106h.5v.5h-.5zM35 118h.5v.5h-.5zM41.5 108h.5v.5h-.5zM34.5 114.5h.5v.5h-.5zM38.5 116.5h.5v.5h-.5zM40.5 109h.5v.5h-.5zM41 117h.5v.5h-.5zM39.5 107.5h.5v.5h-.5zM35 106h.5v.5h-.5zM30.5 115h.5v.5h-.5zM34 112h.5v.5h-.5zM39 111.5h.5v.5h-.5zM38.5 111.5h.5v.5h-.5zM40.5 113.5h.5v.5h-.5zM37.5 114.5h.5v.5h-.5zM41 113.5h.5v.5h-.5zM32.5 112h.5v.5h-.5zM34.5 108.5h.5v.5h-.5zM43.5 113.5h.5v.5h-.5zM39 115.5h.5v.5h-.5zM37.5 112h.5v.5h-.5zM39.5 117h.5v.5h-.5zM38 110.5h.5v.5h-.5zM42 115.5h.5v.5h-.5zM38.5 115.5h.5v.5h-.5zM45 113h.5v.5h-.5zM32 108h.5v.5h-.5zM42.5 108.5h.5v.5h-.5zM36.5 112.5h.5v.5h-.5zM42.5 115.5h.5v.5h-.5zM44.5 110h.5v.5h-.5zM34.5 110.5h.5v.5h-.5zM42.5 108h.5v.5h-.5zM40.5 107h.5v.5h-.5zM43.5 107h.5v.5h-.5zM35 115.5h.5v.5h-.5zM43 111h.5v.5h-.5zM36 117h.5v.5h-.5zM30.5 116.5h.5v.5h-.5zM36 105h.5v.5h-.5zM41.5 111h.5v.5h-.5zM61 110.5h.5v.5h-.5zM47 116h.5v.5h-.5zM66 113h.5v.5h-.5zM60.5 113h.5v.5h-.5zM67 114.5h.5v.5h-.5zM69 114h.5v.5h-.5zM67 112.5h.5v.5h-.5zM66 112.5h.5v.5h-.5zM64.5 109.5h.5v.5h-.5zM57 110h.5v.5h-.5zM59.5 110h.5v.5h-.5zM68.5 116.5h.5v.5h-.5zM49.5 113.5h.5v.5h-.5zM52.5 113.5h.5v.5h-.5zM49.5 115.5h.5v.5h-.5zM48.5 111.5h.5v.5h-.5zM54 108.5h.5v.5h-.5zM49.5 112h.5v.5h-.5zM53 113h.5v.5h-.5zM52.5 114.5h.5v.5h-.5zM62.5 111.5h.5v.5h-.5zM66.5 115.5h.5v.5h-.5zM49.5 111.5h.5v.5h-.5zM49.5 115h.5v.5h-.5zM47.5 113h.5v.5h-.5zM67.5 115h.5v.5h-.5zM54 112.5h.5v.5h-.5zM59 110.5h.5v.5h-.5zM58.5 113h.5v.5h-.5zM55.5 114.5h.5v.5h-.5zM51.5 115h.5v.5h-.5zM53.5 110.5h.5v.5h-.5zM66.5 111h.5v.5h-.5zM69.5 114h.5v.5h-.5zM54 114.5h.5v.5h-.5zM67.5 117h.5v.5h-.5zM52.5 114h.5v.5h-.5zM64.5 114h.5v.5h-.5zM50 112h.5v.5h-.5zM52 115.5h.5v.5h-.5zM51 110.5h.5v.5h-.5zM59.5 110.5h.5v.5h-.5zM50 112.5h.5v.5h-.5zM46.5 111.5h.5v.5h-.5zM57.5 112.5h.5v.5h-.5zM53 112.5h.5v.5h-.5zM59.5 113.5h.5v.5h-.5zM58 112h.5v.5h-.5zM53.5 112h.5v.5h-.5zM46 117h.5v.5h-.5zM54 115.5h.5v.5h-.5zM61.5 114.5h.5v.5h-.5zM56 110.5h.5v.5h-.5zM54.5 114h.5v.5h-.5zM52 114.5h.5v.5h-.5zM47.5 110.5h.5v.5h-.5zM57.5 113.5h.5v.5h-.5zM55 113h.5v.5h-.5zM66 114h.5v.5h-.5zM52.5 113h.5v.5h-.5zM50.5 112.5h.5v.5h-.5zM60.5 112h.5v.5h-.5zM50.5 113h.5v.5h-.5zM52 116.5h.5v.5h-.5zM53.5 114.5h.5v.5h-.5zM48 115h.5v.5h-.5zM64.5 111.5h.5v.5h-.5zM47 110.5h.5v.5h-.5zM56.5 115.5h.5v.5h-.5z" fill="#000" fill-opacity="0.14"/>
<path d="M65 115.5h.5v.5h-.5zM52 123.5h.5v.5h-.5zM44 128h.5v.5h-.5zM44 122h.5v.5h-.5zM57 126.5h.5v.5h-.5zM53 117.5h.5v.5h-.5zM54.5 124.5h.5v.5h-.5zM57 117h.5v.5h-.5zM41.5 127.5h.5v.5h-.5zM38.5 127.5h.5v.5h-.5zM48 120.5h.5v.5h-.5zM48.5 125h.5v.5h-.5zM62 125h.5v.5h-.5zM67 130.5h.5v.5h-.5zM41.5 122h.5v.5h-.5zM63.5 118.5h.5v.5h-.5zM48.5 119h.5v.5h-.5zM36.5 128.5h.5v.5h-.5zM39.5 129h.5v.5h-.5zM35.5 128.5h.5v.5h-.5zM47.5 128h.5v.5h-.5zM56 120h.5v.5h-.5zM39.5 125.5h.5v.5h-.5zM31.5 119.5h.5v.5h-.5zM52.5 128h.5v.5h-.5zM58 124.5h.5v.5h-.5zM36.5 117h.5v.5h-.5zM40.5 128h.5v.5h-.5zM37 127h.5v.5h-.5zM46.5 119.5h.5v.5h-.5zM57 121.5h.5v.5h-.5zM38.5 129h.5v.5h-.5zM57 120.5h.5v.5h-.5zM67 117.5h.5v.5h-.5zM67 117h.5v.5h-.5zM67.5 129.5h.5v.5h-.5zM47 128.5h.5v.5h-.5zM54 128h.5v.5h-.5zM35.5 129h.5v.5h-.5zM50 122.5h.5v.5h-.5zM31 127h.5v.5h-.5zM41.5 126.5h.5v.5h-.5zM50 121h.5v.5h-.5zM54 119.5h.5v.5h-.5zM51.5 125h.5v.5h-.5zM34 123h.5v.5h-.5zM39 127.5h.5v.5h-.5zM52 126.5h.5v.5h-.5zM56.5 129.5h.5v.5h-.5zM65.5 129h.5v.5h-.5zM50 119.5h.5v.5h-.5zM48 119.5h.5v.5h-.5zM61.5 124.5h.5v.5h-.5zM57.5 128.5h.5v.5h-.5zM46.5 120h.5v.5h-.5zM61 122h.5v.5h-.5zM31 124h.5v.5h-.5zM42.5 127.5h.5v.5h-.5zM53 120.5h.5v.5h-.5zM55.5 117h.5v.5h-.5zM42.5 122.5h.5v.5h-.5zM44 119.5h.5v.5h-.5zM60.5 129.5h.5v.5h-.5zM50 128.5h.5v.5h-.5zM59.5 128h.5v.5h-.5zM41 124h.5v.5h-.5zM49.5 123.5h.5v.5h-.5zM66 119.5h.5v.5h-.5zM70.5 127h.5v.5h-.5zM37.5 129.5h.5v.5h-.5zM70 125h.5v.5h-.5zM63 116.5h.5v.5h-.5zM58 116.5h.5v.5h-.5zM60.5 127.5h.5v.5h-.5zM44.5 124h.5v.5h-.5zM63 126.5h.5v.5h-.5zM34.5 127.5h.5v.5h-.5zM70 126h.5v.5h-.5zM47.5 124h.5v.5h-.5zM44.5 118.5h.5v.5h-.5zM42.5 124.5h.5v.5h-.5zM65 128.5h.5v.5h-.5zM50 118h.5v.5h-.5zM69 119.5h.5v.5h-.5zM68.5 120h.5v.5h-.5zM36 118h.5v.5h-.5zM65 126h.5v.5h-.5zM46.5 130h.5v.5h-.5zM66.5 128h.5v.5h-.5zM67.5 116.5h.5v.5h-.5zM33.5 119h.5v.5h-.5zM45 120h.5v.5h-.5zM43 119h.5v.5h-.5zM61 116.5h.5v.5h-.5zM46 120.5h.5v.5h-.5zM57.5 122h.5v.5h-.5zM34 116.5h.5v.5h-.5zM53.5 126.5h.5v.5h-.5zM49.5 119h.5v.5h-.5zM30.5 128.5h.5v.5h-.5zM41.5 120h.5v.5h-.5zM42 117.5h.5v.5h-.5zM52.5 117.5h.5v.5h-.5zM38 128h.5v.5h-.5zM57.5 119.5h.5v.5h-.5zM57.5 118.5h.5v.5h-.5zM56 117.5h.5v.5h-.5zM37 127.5h.5v.5h-.5zM53 129h.5v.5h-.5zM70.5 127.5h.5v.5h-.5zM53 119.5h.5v.5h-.5zM67.5 118.5h.5v.5h-.5zM52.5 129.5h.5v.5h-.5zM31 121h.5v.5h-.5zM34.5 118.5h.5v.5h-.5zM46.5 122.5h.5v.5h-.5zM34 125h.5v.5h-.5zM65.5 127.5h.5v.5h-.5zM32 129h.5v.5h-.5zM55.5 118h.5v.5h-.5zM43.5 128.5h.5v.5h-.5zM39.5 126h.5v.5h-.5zM43 120.5h.5v.5h-.5zM31.5 125.5h.5v.5h-.5zM65.5 118.5h.5v.5h-.5zM53.5 124.5h.5v.5h-.5zM66 125.5h.5v.5h-.5zM46.5 127h.5v.5h-.5zM33 118.5h.5v.5h-.5zM69 120h.5v.5h-.5zM49.5 126.5h.5v.5h-.5zM44 128.5h.5v.5h-.5zM48 117.5h.5v.5h-.5zM69.5 121.5h.5v.5h-.5zM36.5 116.5h.5v.5h-.5zM62.5 126.5h.5v.5h-.5zM52.5 119h.5v.5h-.5zM50 123.5h.5v.5h-.5zM66 126h.5v.5h-.5zM60 124.5h.5v.5h-.5zM70 124h.5v.5h-.5zM50 121.5h.5v.5h-.5zM55.5 129.5h.5v.5h-.5zM50.5 125h.5v.5h-.5zM56.5 126.5h.5v.5h-.5zM36.5 120h.5v.5h-.5zM31 122h.5v.5h-.5zM34 118h.5v.5h-.5zM68 126h.5v.5h-.5zM34 122.5h.5v.5h-.5zM47.5 129h.5v.5h-.5zM58 117h.5v.5h-.5zM69.5 116h.5v.5h-.5zM53 124h.5v.5h-.5zM62 120h.5v.5h-.5zM45.5 117h.5v.5h-.5zM62.5 128h.5v.5h-.5zM64 128.5h.5v.5h-.5zM56.5 122.5h.5v.5h-.5zM52.5 126h.5v.5h-.5zM50.5 118h.5v.5h-.5zM52 125.5h.5v.5h-.5zM54 122.5h.5v.5h-.5zM47.5 121.5h.5v.5h-.5zM64 130h.5v.5h-.5zM50.5 117h.5v.5h-.5zM43 116.5h.5v.5h-.5zM61.5 127.5h.5v.5h-.5zM66 129h.5v.5h-.5zM41.5 119.5h.5v.5h-.5zM51 125h.5v.5h-.5zM68 127h.5v.5h-.5zM60 129h.5v.5h-.5zM47 116.5h.5v.5h-.5zM49 127.5h.5v.5h-.5zM31.5 118h.5v.5h-.5zM58 129.5h.5v.5h-.5zM42.5 128h.5v.5h-.5zM60 127.5h.5v.5h-.5zM32 122.5h.5v.5h-.5zM67.5 125h.5v.5h-.5zM68 128h.5v.5h-.5zM33.5 129.5h.5v.5h-.5zM67 118.5h.5v.5h-.5zM70.5 120.5h.5v.5h-.5zM44 129h.5v.5h-.5zM51.5 129h.5v.5h-.5zM67.5 118h.5v.5h-.5zM67.5 127h.5v.5h-.5zM51.5 119.5h.5v.5h-.5zM36.5 118h.5v.5h-.5zM37.5 127h.5v.5h-.5zM53 126h.5v.5h-.5zM54 129.5h.5v.5h-.5zM52.5 122h.5v.5h-.5zM67 128h.5v.5h-.5zM68.5 121.5h.5v.5h-.5zM70 121h.5v.5h-.5zM50 124h.5v.5h-.5zM67.5 121h.5v.5h-.5zM58 128.5h.5v.5h-.5zM41.5 121.5h.5v.5h-.5zM62.5 119h.5v.5h-.5zM59.5 131h.5v.5h-.5zM31.5 121h.5v.5h-.5zM39 127h.5v.5h-.5zM41.5 116.5h.5v.5h-.5zM32.5 121h.5v.5h-.5zM45.5 118.5h.5v.5h-.5zM50 122h.5v.5h-.5zM58.5 123h.5v.5h-.5zM39 128.5h.5v.5h-.5zM61.5 127h.5v.5h-.5zM64 117.5h.5v.5h-.5zM59 118.5h.5v.5h-.5zM37 128.5h.5v.5h-.5zM32 128h.5v.5h-.5zM54 116.5h.5v.5h-.5zM70.5 121.5h.5v.5h-.5zM68.5 126.5h.5v.5h-.5zM31.5 117h.5v.5h-.5zM40.5 117.5h.5v.5h-.5zM64 129h.5v.5h-.5zM48.5 126.5h.5v.5h-.5zM32 127h.5v.5h-.5zM36.5 127.5h.5v.5h-.5zM53 118h.5v.5h-.5zM66 129.5h.5v.5h-.5zM32.5 124h.5v.5h-.5zM39.5 122.5h.5v.5h-.5zM55.5 125.5h.5v.5h-.5zM46.5 121.5h.5v.5h-.5zM58 119.5h.5v.5h-.5zM40 127.5h.5v.5h-.5zM44.5 121.5h.5v.5h-.5zM31 125.5h.5v.5h-.5zM61 130h.5v.5h-.5zM59.5 126h.5v.5h-.5zM45 119h.5v.5h-.5zM34 128.5h.5v.5h-.5zM38 128.5h.5v.5h-.5zM39 128h.5v.5h-.5zM44.5 120h.5v.5h-.5zM55.5 123h.5v.5h-.5zM51 124.5h.5v.5h-.5zM31.5 123h.5v.5h-.5zM52 124.5h.5v.5h-.5zM43 126.5h.5v.5h-.5zM57 124.5h.5v.5h-.5zM31 120.5h.5v.5h-.5zM49.5 122.5h.5v.5h-.5zM40.5 129h.5v.5h-.5zM38.5 119h.5v.5h-.5zM67.5 123.5h.5v.5h-.5zM45.5 122.5h.5v.5h-.5zM44.5 127h.5v.5h-.5zM41 118.5h.5v.5h-.5zM35.5 129.5h.5v.5h-.5zM33 126h.5v.5h-.5zM31.5 127h.5v.5h-.5zM42.5 118.5h.5v.5h-.5zM34 126.5h.5v.5h-.5zM65.5 119.5h.5v.5h-.5zM47 129.5h.5v.5h-.5zM49 128.5h.5v.5h-.5zM66 123h.5v.5h-.5zM34 127h.5v.5h-.5zM61 129.5h.5v.5h-.5zM51 119.5h.5v.5h-.5zM54.5 119h.5v.5h-.5zM46 122.5h.5v.5h-.5zM52 118h.5v.5h-.5zM51 118.5h.5v.5h-.5zM34 117h.5v.5h-.5zM51 123h.5v.5h-.5zM35 128h.5v.5h-.5zM61.5 123.5h.5v.5h-.5zM64.5 119.5h.5v.5h-.5zM56 125.5h.5v.5h-.5zM32 117.5h.5v.5h-.5zM55.5 124h.5v.5h-.5zM57.5 127h.5v.5h-.5zM48.5 125.5h.5v.5h-.5zM53 119h.5v.5h-.5zM51 127.5h.5v.5h-.5zM46.5 118.5h.5v.5h-.5zM69 128.5h.5v.5h-.5zM59.5 129h.5v.5h-.5zM51.5 125.5h.5v.5h-.5zM43 125h.5v.5h-.5zM47.5 117.5h.5v.5h-.5zM50.5 124.5h.5v.5h-.5zM58.5 129.5h.5v.5h-.5zM32 123.5h.5v.5h-.5zM68.5 124h.5v.5h-.5zM48 125h.5v.5h-.5zM39 118h.5v.5h-.5zM42.5 126.5h.5v.5h-.5zM49.5 122h.5v.5h-.5zM61 119h.5v.5h-.5zM56 126.5h.5v.5h-.5zM50 117.5h.5v.5h-.5zM35 128.5h.5v.5h-.5zM64.5 127.5h.5v.5h-.5zM46.5 127.5h.5v.5h-.5zM49.5 119.5h.5v.5h-.5zM47 126.5h.5v.5h-.5zM45 116.5h.5v.5h-.5zM39.5 128.5h.5v.5h-.5zM70 118.5h.5v.5h-.5zM35.5 124.5h.5v.5h-.5zM42.5 126h.5v.5h-.5zM60.5 128h.5v.5h-.5zM52 121h.5v.5h-.5zM52.5 118h.5v.5h-.5zM67.5 124h.5v.5h-.5zM32 121.5h.5v.5h-.5zM32.5 128.5h.5v.5h-.5zM53 126.5h.5v.5h-.5zM46 128h.5v.5h-.5zM47 118h.5v.5h-.5zM50 123h.5v.5h-.5zM66 117.5h.5v.5h-.5zM64 127h.5v.5h-.5zM47.5 127.5h.5v.5h-.5zM53.5 117.5h.5v.5h-.5zM39 129h.5v.5h-.5zM70.5 122h.5v.5h-.5zM43.5 128h.5v.5h-.5zM48.5 127.5h.5v.5h-.5zM46.5 128.5h.5v.5h-.5zM55.5 126.5h.5v.5h-.5zM44.5 117h.5v.5h-.5zM54 117h.5v.5h-.5zM64 129.5h.5v.5h-.5zM54.5 126h.5v.5h-.5zM55 120h.5v.5h-.5zM35.5 122h.5v.5h-.5zM32 122h.5v.5h-.5zM50 120h.5v.5h-.5zM50.5 123h.5v.5h-.5zM61 129h.5v.5h-.5zM46.5 128h.5v.5h-.5zM41.5 118h.5v.5h-.5zM50 118.5h.5v.5h-.5zM45.5 126.5h.5v.5h-.5zM59.5 123h.5v.5h-.5zM45.5 127.5h.5v.5h-.5zM69 121h.5v.5h-.5zM46 121h.5v.5h-.5zM64.5 129h.5v.5h-.5zM62.5 127h.5v.5h-.5zM67 129h.5v.5h-.5zM53 121.5h.5v.5h-.5zM48.5 120.5h.5v.5h-.5zM46.5 129h.5v.5h-.5zM42 126h.5v.5h-.5zM68 119h.5v.5h-.5zM46 123.5h.5v.5h-.5zM51.5 123.5h.5v.5h-.5zM54 117.5h.5v.5h-.5zM59.5 116h.5v.5h-.5zM34 125.5h.5v.5h-.5zM33 125h.5v.5h-.5zM44 127.5h.5v.5h-.5zM33.5 128.5h.5v.5h-.5zM43.5 129h.5v.5h-.5zM48.5 119.5h.5v.5h-.5zM31 121.5h.5v.5h-.5zM54 122h.5v.5h-.5zM50.5 123.5h.5v.5h-.5zM38 118h.5v.5h-.5zM63 120.5h.5v.5h-.5zM32.5 119h.5v.5h-.5zM41 125.5h.5v.5h-.5zM53.5 117h.5v.5h-.5zM60 116.5h.5v.5h-.5zM67.5 122.5h.5v.5h-.5zM50 126.5h.5v.5h-.5zM49 121.5h.5v.5h-.5zM64 117h.5v.5h-.5zM60.5 118h.5v.5h-.5zM34 120h.5v.5h-.5zM31.5 124h.5v.5h-.5zM68.5 127.5h.5v.5h-.5zM43.5 117.5h.5v.5h-.5zM53.5 120h.5v.5h-.5zM58.5 121.5h.5v.5h-.5zM67.5 128h.5v.5h-.5zM66 120.5h.5v.5h-.5zM43.5 120.5h.5v.5h-.5zM36 126h.5v.5h-.5zM35 119.5h.5v.5h-.5zM31 124.5h.5v.5h-.5zM67 127h.5v.5h-.5zM60 118h.5v.5h-.5zM49 123.5h.5v.5h-.5zM50 126h.5v.5h-.5zM58.5 118.5h.5v.5h-.5zM38 117.5h.5v.5h-.5zM36 117.5h.5v.5h-.5zM58 118h.5v.5h-.5zM61.5 128h.5v.5h-.5zM51 126h.5v.5h-.5zM55.5 129h.5v.5h-.5zM31 118.5h.5v.5h-.5zM49.5 126h.5v.5h-.5zM54 118.5h.5v.5h-.5zM56 119h.5v.5h-.5zM63 128.5h.5v.5h-.5zM47 118.5h.5v.5h-.5zM70 117.5h.5v.5h-.5zM66.5 122.5h.5v.5h-.5zM49 119h.5v.5h-.5zM39 119.5h.5v.5h-.5zM66.5 117h.5v.5h-.5zM68.5 119h.5v.5h-.5zM63.5 127h.5v.5h-.5zM58.5 124h.5v.5h-.5zM53.5 124h.5v.5h-.5zM49.5 127.5h.5v.5h-.5zM36 119h.5v.5h-.5zM45.5 117.5h.5v.5h-.5zM31 125h.5v.5h-.5zM55.5 118.5h.5v.5h-.5zM55 127h.5v.5h-.5zM47 117h.5v.5h-.5zM53 118.5h.5v.5h-.5zM52.5 127.5h.5v.5h-.5zM52 128h.5v.5h-.5zM60.5 116.5h.5v.5h-.5zM50.5 119h.5v.5h-.5zM33 117.5h.5v.5h-.5zM39.5 121.5h.5v.5h-.5zM42 122h.5v.5h-.5zM45 122.5h.5v.5h-.5zM41.5 124h.5v.5h-.5zM30 119h.5v.5h-.5zM29 126h.5v.5h-.5zM39.5 118.5h.5v.5h-.5zM31.5 127.5h.5v.5h-.5zM34 120.5h.5v.5h-.5zM39 126h.5v.5h-.5zM38.5 120h.5v.5h-.5zM40.5 124h.5v.5h-.5zM33.5 120.5h.5v.5h-.5zM42 125.5h.5v.5h-.5zM31.5 120.5h.5v.5h-.5zM33.5 118h.5v.5h-.5zM34.5 123h.5v.5h-.5zM43 123.5h.5v.5h-.5zM32.5 120.5h.5v.5h-.5zM30.5 123h.5v.5h-.5zM38 126h.5v.5h-.5zM32 119.5h.5v.5h-.5zM42 120h.5v.5h-.5zM38.5 124h.5v.5h-.5zM26.5 129.5h.5v.5h-.5zM32 121h.5v.5h-.5zM44 125h.5v.5h-.5zM30 125h.5v.5h-.5zM27.5 122h.5v.5h-.5zM31 119h.5v.5h-.5zM42 119h.5v.5h-.5zM41 128.5h.5v.5h-.5zM30.5 114.5h.5v.5h-.5zM30.5 124h.5v.5h-.5zM45 120.5h.5v.5h-.5zM30.5 120.5h.5v.5h-.5zM28.5 122.5h.5v.5h-.5zM39.5 116.5h.5v.5h-.5zM30 121.5h.5v.5h-.5zM36.5 129h.5v.5h-.5zM30 120.5h.5v.5h-.5zM29.5 124h.5v.5h-.5zM40.5 130.5h.5v.5h-.5zM41 118h.5v.5h-.5zM45.5 123.5h.5v.5h-.5zM34 121h.5v.5h-.5zM30.5 118h.5v.5h-.5zM33 116.5h.5v.5h-.5zM43 124h.5v.5h-.5zM29 122.5h.5v.5h-.5zM61 117h.5v.5h-.5zM68 121.5h.5v.5h-.5zM69 121.5h.5v.5h-.5zM60 126.5h.5v.5h-.5zM63.5 125.5h.5v.5h-.5zM71 125h.5v.5h-.5zM61 118h.5v.5h-.5zM61.5 118h.5v.5h-.5zM55 124.5h.5v.5h-.5zM67 119h.5v.5h-.5zM62.5 116.5h.5v.5h-.5zM55.5 130h.5v.5h-.5zM60.5 121.5h.5v.5h-.5zM70 119h.5v.5h-.5zM58.5 128.5h.5v.5h-.5zM65.5 117.5h.5v.5h-.5zM59 114.5h.5v.5h-.5zM61.5 117h.5v.5h-.5zM64.5 124h.5v.5h-.5zM71.5 119h.5v.5h-.5zM62.5 117.5h.5v.5h-.5zM70 116.5h.5v.5h-.5zM76.5 126.5h.5v.5h-.5zM68 120.5h.5v.5h-.5zM73 118h.5v.5h-.5zM64 122.5h.5v.5h-.5zM63.5 130h.5v.5h-.5zM70.5 130h.5v.5h-.5zM69.5 123h.5v.5h-.5zM70 123.5h.5v.5h-.5zM72 123.5h.5v.5h-.5zM65 127h.5v.5h-.5zM70 125.5h.5v.5h-.5zM60 128h.5v.5h-.5zM70 118h.5v.5h-.5zM69 120.5h.5v.5h-.5zM73.5 121.5h.5v.5h-.5zM67 118h.5v.5h-.5zM72.5 125.5h.5v.5h-.5zM68 114.5h.5v.5h-.5zM55 111h.5v.5h-.5zM50 113.5h.5v.5h-.5zM54.5 111h.5v.5h-.5z" fill="#000" fill-opacity="0.29"/>
<path d="M68 117h.5v.5h-.5zM68 116h.5v.5h-.5zM39 107h.5v.5h-.5zM44 109h.5v.5h-.5zM39.5 114h.5v.5h-.5zM40 113.5h.5v.5h-.5zM40 112h.5v.5h-.5zM32 112.5h.5v.5h-.5zM33 107.5h.5v.5h-.5zM32 114.5h.5v.5h-.5zM42 114h.5v.5h-.5zM43 113h.5v.5h-.5zM33.5 116h.5v.5h-.5zM35.5 111h.5v.5h-.5zM36 109h.5v.5h-.5zM37.5 116.5h.5v.5h-.5zM34 112.5h.5v.5h-.5zM41 108.5h.5v.5h-.5zM37 114.5h.5v.5h-.5zM33.5 113h.5v.5h-.5zM36.5 115h.5v.5h-.5zM32.5 110.5h.5v.5h-.5zM42 116.5h.5v.5h-.5zM31.5 113h.5v.5h-.5zM32 109.5h.5v.5h-.5zM45 115.5h.5v.5h-.5zM36 107h.5v.5h-.5zM39.5 110.5h.5v.5h-.5zM32 113h.5v.5h-.5zM33.5 110.5h.5v.5h-.5zM36.5 110.5h.5v.5h-.5zM36 112.5h.5v.5h-.5zM42 107.5h.5v.5h-.5zM35 109h.5v.5h-.5zM36.5 107h.5v.5h-.5zM38.5 109h.5v.5h-.5zM33 113h.5v.5h-.5zM36.5 114.5h.5v.5h-.5zM44.5 109.5h.5v.5h-.5zM43.5 112.5h.5v.5h-.5zM43 110h.5v.5h-.5zM37.5 112.5h.5v.5h-.5zM37 110.5h.5v.5h-.5zM44 111.5h.5v.5h-.5zM34.5 116h.5v.5h-.5zM38 114.5h.5v.5h-.5zM33 107h.5v.5h-.5zM34.5 109.5h.5v.5h-.5zM38 110h.5v.5h-.5zM33 110h.5v.5h-.5zM35 113h.5v.5h-.5zM34 115h.5v.5h-.5zM39 114h.5v.5h-.5zM42.5 109.5h.5v.5h-.5zM36 108h.5v.5h-.5zM36.5 111h.5v.5h-.5zM33.5 111h.5v.5h-.5zM43 112h.5v.5h-.5zM42.5 115h.5v.5h-.5zM43.5 108h.5v.5h-.5zM35 112.5h.5v.5h-.5zM36 114h.5v.5h-.5zM36 113.5h.5v.5h-.5zM33 110.5h.5v.5h-.5zM36.5 108h.5v.5h-.5zM33 108h.5v.5h-.5zM38.5 109.5h.5v.5h-.5zM40 113h.5v.5h-.5zM42 114.5h.5v.5h-.5zM41.5 110.5h.5v.5h-.5zM37.5 110.5h.5v.5h-.5zM41 112.5h.5v.5h-.5zM37 114h.5v.5h-.5zM39.5 116h.5v.5h-.5zM35.5 113.5h.5v.5h-.5zM34 107.5h.5v.5h-.5zM37 108h.5v.5h-.5zM31 114h.5v.5h-.5zM32 115h.5v.5h-.5zM34 113.5h.5v.5h-.5zM41.5 113h.5v.5h-.5zM31.5 112h.5v.5h-.5zM38.5 113h.5v.5h-.5zM35 114.5h.5v.5h-.5zM32 110.5h.5v.5h-.5zM38 117h.5v.5h-.5z" fill="#000" fill-opacity="0.43"/>
<path d="M35.5 126h.5v.5h-.5zM52.5 125.5h.5v.5h-.5zM51.5 126h.5v.5h-.5zM65.5 128h.5v.5h-.5zM56.5 118.5h.5v.5h-.5zM36 122h.5v.5h-.5zM64 124.5h.5v.5h-.5zM41 123h.5v.5h-.5zM62 119.5h.5v.5h-.5zM64.5 124.5h.5v.5h-.5zM64 121.5h.5v.5h-.5zM54 125h.5v.5h-.5zM33 120.5h.5v.5h-.5zM44.5 122.5h.5v.5h-.5zM62 125.5h.5v.5h-.5zM62.5 125h.5v.5h-.5zM53 123.5h.5v.5h-.5zM43.5 119h.5v.5h-.5zM64 120.5h.5v.5h-.5zM46.5 118h.5v.5h-.5zM31.5 124.5h.5v.5h-.5zM55 126h.5v.5h-.5zM47 122.5h.5v.5h-.5zM35 125.5h.5v.5h-.5zM35.5 127h.5v.5h-.5zM36 128.5h.5v.5h-.5zM46 125h.5v.5h-.5zM46.5 126.5h.5v.5h-.5zM60 118.5h.5v.5h-.5zM67.5 126h.5v.5h-.5zM48 126.5h.5v.5h-.5zM38 125.5h.5v.5h-.5zM46 124h.5v.5h-.5zM36 127h.5v.5h-.5zM64.5 125.5h.5v.5h-.5zM36 125.5h.5v.5h-.5zM38 121h.5v.5h-.5zM54 127.5h.5v.5h-.5zM61.5 126.5h.5v.5h-.5zM69.5 125.5h.5v.5h-.5zM47.5 122h.5v.5h-.5zM67.5 127.5h.5v.5h-.5zM55.5 120.5h.5v.5h-.5zM48.5 127h.5v.5h-.5zM33 122h.5v.5h-.5zM69.5 123.5h.5v.5h-.5zM51 123.5h.5v.5h-.5zM44 124h.5v.5h-.5zM39.5 118h.5v.5h-.5zM43.5 125.5h.5v.5h-.5zM44 120h.5v.5h-.5zM37.5 118.5h.5v.5h-.5zM48 122.5h.5v.5h-.5zM42.5 123h.5v.5h-.5zM49.5 128.5h.5v.5h-.5zM65 128h.5v.5h-.5zM59 118h.5v.5h-.5zM53 120h.5v.5h-.5zM44.5 120.5h.5v.5h-.5zM58.5 127.5h.5v.5h-.5zM64.5 126h.5v.5h-.5zM45.5 119.5h.5v.5h-.5zM62.5 127.5h.5v.5h-.5zM60 125h.5v.5h-.5zM43 119.5h.5v.5h-.5zM40.5 121h.5v.5h-.5zM53.5 125.5h.5v.5h-.5zM59.5 122.5h.5v.5h-.5zM63 122.5h.5v.5h-.5zM56 122h.5v.5h-.5zM54.5 126.5h.5v.5h-.5zM43.5 124h.5v.5h-.5zM53.5 128h.5v.5h-.5zM48.5 118.5h.5v.5h-.5zM50 125h.5v.5h-.5zM70 122.5h.5v.5h-.5zM63 127.5h.5v.5h-.5zM39 119h.5v.5h-.5zM50.5 121.5h.5v.5h-.5zM51 125.5h.5v.5h-.5zM31.5 121.5h.5v.5h-.5zM48.5 124h.5v.5h-.5zM41 124.5h.5v.5h-.5zM47.5 118h.5v.5h-.5zM54 120.5h.5v.5h-.5zM59.5 118.5h.5v.5h-.5zM35 119h.5v.5h-.5zM68 123h.5v.5h-.5zM66 128h.5v.5h-.5zM43.5 123h.5v.5h-.5zM66 120h.5v.5h-.5zM57.5 119h.5v.5h-.5zM32 126.5h.5v.5h-.5zM43 117.5h.5v.5h-.5zM43.5 121h.5v.5h-.5zM45 127.5h.5v.5h-.5zM51.5 120h.5v.5h-.5zM60.5 121h.5v.5h-.5zM56.5 121.5h.5v.5h-.5zM55 125.5h.5v.5h-.5zM41 117.5h.5v.5h-.5zM56.5 117.5h.5v.5h-.5zM52 126h.5v.5h-.5zM67.5 129h.5v.5h-.5zM33 121.5h.5v.5h-.5zM43 122h.5v.5h-.5zM48 128h.5v.5h-.5zM34 127.5h.5v.5h-.5zM70 120.5h.5v.5h-.5zM66.5 125h.5v.5h-.5zM57.5 123h.5v.5h-.5zM63.5 128h.5v.5h-.5zM66.5 120.5h.5v.5h-.5zM65.5 126h.5v.5h-.5zM36 118.5h.5v.5h-.5zM57.5 120.5h.5v.5h-.5zM66 126.5h.5v.5h-.5zM34.5 122h.5v.5h-.5zM56 118.5h.5v.5h-.5zM69 122.5h.5v.5h-.5zM55 118.5h.5v.5h-.5zM69 128h.5v.5h-.5zM59 122h.5v.5h-.5zM39.5 127.5h.5v.5h-.5zM52 124h.5v.5h-.5zM68 128.5h.5v.5h-.5zM62 127.5h.5v.5h-.5zM56 118h.5v.5h-.5zM37 126.5h.5v.5h-.5zM57.5 125h.5v.5h-.5zM38 123h.5v.5h-.5zM32.5 123.5h.5v.5h-.5zM46 126.5h.5v.5h-.5zM36.5 126h.5v.5h-.5zM54.5 124h.5v.5h-.5zM61 126.5h.5v.5h-.5zM47 125.5h.5v.5h-.5zM50.5 120h.5v.5h-.5zM50.5 128h.5v.5h-.5zM57 126h.5v.5h-.5zM45 128h.5v.5h-.5zM50.5 126h.5v.5h-.5zM33.5 122.5h.5v.5h-.5zM41 126h.5v.5h-.5zM59.5 121h.5v.5h-.5zM71 123.5h.5v.5h-.5zM55.5 128h.5v.5h-.5zM49.5 120h.5v.5h-.5zM50.5 122.5h.5v.5h-.5zM59 127.5h.5v.5h-.5zM65.5 121.5h.5v.5h-.5zM60 126h.5v.5h-.5zM66.5 126.5h.5v.5h-.5zM38.5 125h.5v.5h-.5zM60.5 118.5h.5v.5h-.5zM57 127h.5v.5h-.5zM70 124.5h.5v.5h-.5zM64 127.5h.5v.5h-.5zM34.5 125.5h.5v.5h-.5zM33.5 118.5h.5v.5h-.5zM35.5 128h.5v.5h-.5zM53 125.5h.5v.5h-.5zM57.5 129h.5v.5h-.5zM53.5 118.5h.5v.5h-.5zM64 118h.5v.5h-.5zM47.5 126h.5v.5h-.5zM40.5 124.5h.5v.5h-.5zM66.5 118h.5v.5h-.5zM58.5 129h.5v.5h-.5zM63.5 128.5h.5v.5h-.5zM69.5 120.5h.5v.5h-.5zM31 128h.5v.5h-.5zM68.5 128h.5v.5h-.5zM68 120h.5v.5h-.5zM61.5 126h.5v.5h-.5zM62.5 128.5h.5v.5h-.5zM45.5 123h.5v.5h-.5zM54.5 127h.5v.5h-.5zM53 122.5h.5v.5h-.5zM47 127h.5v.5h-.5zM33 126.5h.5v.5h-.5zM33 120h.5v.5h-.5zM43 124.5h.5v.5h-.5zM67 126.5h.5v.5h-.5zM50 127h.5v.5h-.5zM58.5 123.5h.5v.5h-.5zM45 118.5h.5v.5h-.5zM34.5 118h.5v.5h-.5zM32.5 127.5h.5v.5h-.5zM43 123h.5v.5h-.5zM43 128h.5v.5h-.5zM63.5 120h.5v.5h-.5zM33.5 121.5h.5v.5h-.5zM65 119h.5v.5h-.5zM45.5 119h.5v.5h-.5zM39 125.5h.5v.5h-.5zM44.5 126.5h.5v.5h-.5zM53 121h.5v.5h-.5zM57.5 125.5h.5v.5h-.5zM70.5 123h.5v.5h-.5zM56.5 127.5h.5v.5h-.5zM32 123h.5v.5h-.5zM44 124.5h.5v.5h-.5zM70 121.5h.5v.5h-.5zM32 124.5h.5v.5h-.5zM66.5 119h.5v.5h-.5zM63.5 126.5h.5v.5h-.5zM58 119h.5v.5h-.5zM32 126h.5v.5h-.5zM42 124.5h.5v.5h-.5zM66.5 117.5h.5v.5h-.5zM45.5 127h.5v.5h-.5zM33 122.5h.5v.5h-.5zM61 124.5h.5v.5h-.5zM64 118.5h.5v.5h-.5zM56.5 119h.5v.5h-.5zM40.5 119h.5v.5h-.5zM33 119h.5v.5h-.5zM35 126.5h.5v.5h-.5zM66 118.5h.5v.5h-.5zM55 117.5h.5v.5h-.5zM53.5 126h.5v.5h-.5zM58 121h.5v.5h-.5zM66.5 127h.5v.5h-.5zM38.5 126.5h.5v.5h-.5zM50 119h.5v.5h-.5zM50 128h.5v.5h-.5zM36.5 126.5h.5v.5h-.5zM34.5 127h.5v.5h-.5zM48 121h.5v.5h-.5zM64.5 121h.5v.5h-.5zM52.5 124.5h.5v.5h-.5zM62 120.5h.5v.5h-.5zM64.5 120h.5v.5h-.5zM46.5 123.5h.5v.5h-.5zM42.5 125.5h.5v.5h-.5zM70 122h.5v.5h-.5zM36 119.5h.5v.5h-.5zM65 121.5h.5v.5h-.5zM59.5 123.5h.5v.5h-.5zM62.5 117h.5v.5h-.5zM45.5 125h.5v.5h-.5zM55.5 127.5h.5v.5h-.5zM32 118h.5v.5h-.5zM48.5 124.5h.5v.5h-.5zM66.5 121h.5v.5h-.5zM60.5 125.5h.5v.5h-.5zM47.5 118.5h.5v.5h-.5zM67.5 120.5h.5v.5h-.5zM40 128h.5v.5h-.5zM45.5 121h.5v.5h-.5zM37 128h.5v.5h-.5zM60.5 119.5h.5v.5h-.5zM48.5 117.5h.5v.5h-.5zM60.5 124h.5v.5h-.5zM68 124.5h.5v.5h-.5zM60 125.5h.5v.5h-.5zM45 125.5h.5v.5h-.5zM31.5 122h.5v.5h-.5zM58.5 119.5h.5v.5h-.5zM64 126h.5v.5h-.5zM43 118.5h.5v.5h-.5zM43 120h.5v.5h-.5zM49 122.5h.5v.5h-.5zM36 120.5h.5v.5h-.5zM52 123h.5v.5h-.5zM46 124.5h.5v.5h-.5zM44 117h.5v.5h-.5zM35.5 117h.5v.5h-.5zM54 123h.5v.5h-.5zM47.5 126.5h.5v.5h-.5zM48 123.5h.5v.5h-.5zM69.5 124.5h.5v.5h-.5zM58 127.5h.5v.5h-.5zM48 120h.5v.5h-.5zM34 117.5h.5v.5h-.5zM35.5 125.5h.5v.5h-.5zM49 120h.5v.5h-.5zM35 126h.5v.5h-.5zM59.5 118h.5v.5h-.5zM56.5 124h.5v.5h-.5zM44.5 122h.5v.5h-.5zM43.5 118.5h.5v.5h-.5zM64.5 119h.5v.5h-.5zM59 128.5h.5v.5h-.5zM50 127.5h.5v.5h-.5zM47.5 123.5h.5v.5h-.5zM40.5 127.5h.5v.5h-.5zM65 125.5h.5v.5h-.5zM54 124.5h.5v.5h-.5zM42 128h.5v.5h-.5zM41.5 126h.5v.5h-.5zM47 121.5h.5v.5h-.5zM35.5 120.5h.5v.5h-.5zM36 122.5h.5v.5h-.5zM69.5 125h.5v.5h-.5zM37.5 128.5h.5v.5h-.5zM61 127h.5v.5h-.5zM42 122.5h.5v.5h-.5zM65.5 123h.5v.5h-.5zM65.5 123.5h.5v.5h-.5zM46 126h.5v.5h-.5zM44.5 119h.5v.5h-.5zM48 123h.5v.5h-.5zM47 124h.5v.5h-.5zM52 127.5h.5v.5h-.5zM65 118.5h.5v.5h-.5zM42 118h.5v.5h-.5zM57 119h.5v.5h-.5zM49 125.5h.5v.5h-.5zM41 128h.5v.5h-.5zM49.5 120.5h.5v.5h-.5zM49.5 128h.5v.5h-.5zM49.5 125.5h.5v.5h-.5zM68.5 123h.5v.5h-.5zM56.5 121h.5v.5h-.5zM40 124.5h.5v.5h-.5zM65.5 120.5h.5v.5h-.5zM43 127.5h.5v.5h-.5zM35 121.5h.5v.5h-.5zM57 118.5h.5v.5h-.5zM63 120h.5v.5h-.5zM55.5 119.5h.5v.5h-.5zM69.5 122h.5v.5h-.5zM69.5 126h.5v.5h-.5zM40.5 125.5h.5v.5h-.5zM65 124.5h.5v.5h-.5zM50.5 126.5h.5v.5h-.5zM48 117h.5v.5h-.5zM40 126.5h.5v.5h-.5zM50 120.5h.5v.5h-.5zM62.5 119.5h.5v.5h-.5zM41 120h.5v.5h-.5zM40 118h.5v.5h-.5zM56 122.5h.5v.5h-.5zM58.5 126.5h.5v.5h-.5zM70.5 122.5h.5v.5h-.5zM66.5 122h.5v.5h-.5zM58 120h.5v.5h-.5zM55 124h.5v.5h-.5zM32.5 117.5h.5v.5h-.5zM44.5 123.5h.5v.5h-.5zM42 126.5h.5v.5h-.5zM64.5 126.5h.5v.5h-.5zM31.5 117.5h.5v.5h-.5zM34.5 119.5h.5v.5h-.5zM33 129h.5v.5h-.5zM52 119.5h.5v.5h-.5zM45 126.5h.5v.5h-.5zM32.5 118h.5v.5h-.5zM43.5 125h.5v.5h-.5zM42.5 122h.5v.5h-.5zM64 125.5h.5v.5h-.5zM46 122h.5v.5h-.5zM67 120.5h.5v.5h-.5zM65.5 122h.5v.5h-.5zM38 127.5h.5v.5h-.5zM38.5 126h.5v.5h-.5zM51 127h.5v.5h-.5zM68 126.5h.5v.5h-.5zM49 119.5h.5v.5h-.5zM46 125.5h.5v.5h-.5zM60 128.5h.5v.5h-.5zM62 117.5h.5v.5h-.5zM42 129h.5v.5h-.5zM44 122.5h.5v.5h-.5zM48 126h.5v.5h-.5zM54.5 125.5h.5v.5h-.5zM36 128h.5v.5h-.5zM42.5 128.5h.5v.5h-.5zM39 117.5h.5v.5h-.5zM34.5 121.5h.5v.5h-.5zM36 120h.5v.5h-.5zM63 118h.5v.5h-.5zM34.5 117.5h.5v.5h-.5zM57 121h.5v.5h-.5zM47.5 122.5h.5v.5h-.5zM32.5 123h.5v.5h-.5zM42 121h.5v.5h-.5zM62 126h.5v.5h-.5zM54.5 121h.5v.5h-.5zM67.5 125.5h.5v.5h-.5zM46 123h.5v.5h-.5zM51.5 119h.5v.5h-.5zM41.5 124.5h.5v.5h-.5zM61 125h.5v.5h-.5zM41 119.5h.5v.5h-.5zM35.5 124h.5v.5h-.5zM57.5 121h.5v.5h-.5zM68.5 120.5h.5v.5h-.5zM58 118.5h.5v.5h-.5zM66.5 124.5h.5v.5h-.5zM64.5 118.5h.5v.5h-.5zM40.5 122h.5v.5h-.5zM31.5 126h.5v.5h-.5zM59.5 120h.5v.5h-.5zM54.5 122h.5v.5h-.5zM64.5 117.5h.5v.5h-.5zM56.5 123.5h.5v.5h-.5zM32 124h.5v.5h-.5zM62 118h.5v.5h-.5zM58.5 119h.5v.5h-.5zM32.5 127h.5v.5h-.5zM53.5 120.5h.5v.5h-.5zM67 119.5h.5v.5h-.5zM47 120.5h.5v.5h-.5zM62 123.5h.5v.5h-.5zM35 117.5h.5v.5h-.5zM41.5 118.5h.5v.5h-.5zM42 127h.5v.5h-.5zM40.5 118h.5v.5h-.5zM34.5 126h.5v.5h-.5zM63.5 126h.5v.5h-.5zM35.5 119.5h.5v.5h-.5zM60 123.5h.5v.5h-.5zM35 122.5h.5v.5h-.5zM40.5 127h.5v.5h-.5zM37.5 119.5h.5v.5h-.5zM39 125h.5v.5h-.5zM30.5 121h.5v.5h-.5zM32.5 114.5h.5v.5h-.5zM31 120h.5v.5h-.5zM39 117h.5v.5h-.5zM56 121h.5v.5h-.5zM70.5 119h.5v.5h-.5zM69 123h.5v.5h-.5zM66 123.5h.5v.5h-.5zM60 122.5h.5v.5h-.5zM63 123.5h.5v.5h-.5zM56.5 126h.5v.5h-.5zM65.5 125h.5v.5h-.5zM61.5 120h.5v.5h-.5zM59 122.5h.5v.5h-.5zM32.5 107.5h.5v.5h-.5zM38 109.5h.5v.5h-.5zM39.5 112.5h.5v.5h-.5zM38.5 115h.5v.5h-.5zM32 111.5h.5v.5h-.5zM42.5 116.5h.5v.5h-.5zM32.5 109h.5v.5h-.5zM37.5 111.5h.5v.5h-.5zM43.5 109h.5v.5h-.5zM36.5 113h.5v.5h-.5zM41.5 108.5h.5v.5h-.5zM38 113.5h.5v.5h-.5zM41 111.5h.5v.5h-.5zM43.5 108.5h.5v.5h-.5zM33 111h.5v.5h-.5zM40 115.5h.5v.5h-.5zM43 109.5h.5v.5h-.5zM36 110.5h.5v.5h-.5zM32 117h.5v.5h-.5zM33.5 109.5h.5v.5h-.5zM33.5 113.5h.5v.5h-.5zM38.5 110.5h.5v.5h-.5zM37 115.5h.5v.5h-.5zM33.5 109h.5v.5h-.5z" fill="#000" fill-opacity="0.57"/>
<path d="M66 121h.5v.5h-.5zM60.5 124.5h.5v.5h-.5zM64 121h.5v.5h-.5zM51 128h.5v.5h-.5zM40.5 126h.5v.5h-.5zM60.5 125h.5v.5h-.5zM46.5 121h.5v.5h-.5zM46.5 125.5h.5v.5h-.5zM48.5 122.5h.5v.5h-.5zM44 121h.5v.5h-.5zM37 119h.5v.5h-.5zM52 121.5h.5v.5h-.5zM51.5 124h.5v.5h-.5zM32.5 119.5h.5v.5h-.5zM59 127h.5v.5h-.5zM65 127.5h.5v.5h-.5zM57.5 121.5h.5v.5h-.5zM48.5 123h.5v.5h-.5zM61.5 119.5h.5v.5h-.5zM37 118h.5v.5h-.5zM69 125.5h.5v.5h-.5zM36 121h.5v.5h-.5zM33 124.5h.5v.5h-.5zM46.5 120.5h.5v.5h-.5zM52.5 125h.5v.5h-.5zM48 119h.5v.5h-.5zM51.5 121h.5v.5h-.5zM65.5 121h.5v.5h-.5zM39.5 117.5h.5v.5h-.5zM65 126.5h.5v.5h-.5zM68 125h.5v.5h-.5zM51 120.5h.5v.5h-.5zM44.5 127.5h.5v.5h-.5zM47 125h.5v.5h-.5zM43.5 127.5h.5v.5h-.5zM63.5 117h.5v.5h-.5zM55 121h.5v.5h-.5zM47.5 121h.5v.5h-.5zM50.5 127h.5v.5h-.5zM66.5 123h.5v.5h-.5zM47 120h.5v.5h-.5zM44 118h.5v.5h-.5zM68 124h.5v.5h-.5zM68.5 122.5h.5v.5h-.5zM36.5 118.5h.5v.5h-.5zM47 119.5h.5v.5h-.5zM34.5 120.5h.5v.5h-.5zM59.5 127h.5v.5h-.5zM45 121h.5v.5h-.5zM66 122h.5v.5h-.5zM67.5 119h.5v.5h-.5zM50.5 118.5h.5v.5h-.5zM38.5 122.5h.5v.5h-.5zM49.5 121h.5v.5h-.5zM57 125h.5v.5h-.5zM66.5 127.5h.5v.5h-.5zM66 127h.5v.5h-.5zM43 121h.5v.5h-.5zM58 125h.5v.5h-.5zM51.5 121.5h.5v.5h-.5zM69 124h.5v.5h-.5zM39 121.5h.5v.5h-.5zM61.5 122.5h.5v.5h-.5zM56.5 123h.5v.5h-.5zM37.5 119h.5v.5h-.5zM69.5 119.5h.5v.5h-.5zM61.5 125h.5v.5h-.5zM56 127.5h.5v.5h-.5zM54.5 120.5h.5v.5h-.5zM63.5 123h.5v.5h-.5zM46.5 126h.5v.5h-.5zM46.5 119h.5v.5h-.5zM54 128.5h.5v.5h-.5zM47.5 119h.5v.5h-.5zM32.5 126h.5v.5h-.5zM58.5 125h.5v.5h-.5zM43.5 122h.5v.5h-.5zM68 121h.5v.5h-.5zM44.5 119.5h.5v.5h-.5zM41.5 121h.5v.5h-.5zM50.5 122h.5v.5h-.5zM46.5 124.5h.5v.5h-.5zM34.5 126.5h.5v.5h-.5zM65.5 122.5h.5v.5h-.5zM53 127.5h.5v.5h-.5zM33.5 125h.5v.5h-.5zM40.5 120h.5v.5h-.5zM68.5 122h.5v.5h-.5zM31.5 128h.5v.5h-.5zM45 126h.5v.5h-.5zM41.5 123h.5v.5h-.5zM63.5 127.5h.5v.5h-.5zM62.5 126h.5v.5h-.5zM58 123h.5v.5h-.5zM65 121h.5v.5h-.5zM49 128h.5v.5h-.5zM36 124h.5v.5h-.5zM51 122.5h.5v.5h-.5zM59.5 126.5h.5v.5h-.5zM56 124.5h.5v.5h-.5zM49 118.5h.5v.5h-.5zM58 120.5h.5v.5h-.5zM43 126h.5v.5h-.5zM57 127.5h.5v.5h-.5zM38 122h.5v.5h-.5zM45.5 128.5h.5v.5h-.5zM37 124.5h.5v.5h-.5zM48 127.5h.5v.5h-.5zM33 123h.5v.5h-.5zM58.5 127h.5v.5h-.5zM38 120.5h.5v.5h-.5zM54.5 121.5h.5v.5h-.5zM52.5 118.5h.5v.5h-.5zM48 124h.5v.5h-.5zM57 124h.5v.5h-.5zM35.5 118.5h.5v.5h-.5zM54 126.5h.5v.5h-.5zM53.5 122.5h.5v.5h-.5zM54.5 122.5h.5v.5h-.5zM44.5 124.5h.5v.5h-.5zM56.5 118h.5v.5h-.5zM64 124h.5v.5h-.5zM65.5 120h.5v.5h-.5zM66 124.5h.5v.5h-.5zM66 127.5h.5v.5h-.5zM59 125h.5v.5h-.5zM45.5 125.5h.5v.5h-.5zM36.5 122h.5v.5h-.5zM69 126h.5v.5h-.5zM59 121h.5v.5h-.5zM55 123h.5v.5h-.5zM42.5 127h.5v.5h-.5zM55 126.5h.5v.5h-.5zM48.5 121h.5v.5h-.5zM38 125h.5v.5h-.5zM50.5 125.5h.5v.5h-.5zM38.5 121h.5v.5h-.5zM51 126.5h.5v.5h-.5zM37.5 122.5h.5v.5h-.5zM40 119h.5v.5h-.5zM36 127.5h.5v.5h-.5zM39.5 119.5h.5v.5h-.5zM45.5 121.5h.5v.5h-.5zM35.5 123.5h.5v.5h-.5zM57.5 123.5h.5v.5h-.5zM44.5 125h.5v.5h-.5zM49 122h.5v.5h-.5zM38.5 128h.5v.5h-.5zM60 124h.5v.5h-.5zM39.5 127h.5v.5h-.5zM59 119.5h.5v.5h-.5zM38 127h.5v.5h-.5zM55.5 127h.5v.5h-.5zM54.5 123h.5v.5h-.5zM46.5 125h.5v.5h-.5zM35 120.5h.5v.5h-.5zM58 122h.5v.5h-.5zM54 123.5h.5v.5h-.5zM50.5 124h.5v.5h-.5zM40.5 119.5h.5v.5h-.5zM43 128.5h.5v.5h-.5zM33 119.5h.5v.5h-.5zM61 121.5h.5v.5h-.5zM33 118h.5v.5h-.5zM56 128h.5v.5h-.5zM33.5 124.5h.5v.5h-.5zM40 126h.5v.5h-.5zM39 126.5h.5v.5h-.5zM54 120h.5v.5h-.5zM69 125h.5v.5h-.5zM53 128h.5v.5h-.5zM41 119h.5v.5h-.5zM46.5 123h.5v.5h-.5zM44 121.5h.5v.5h-.5zM67 121h.5v.5h-.5zM65.5 119h.5v.5h-.5zM35.5 121.5h.5v.5h-.5zM65.5 118h.5v.5h-.5zM31 123.5h.5v.5h-.5zM55.5 121.5h.5v.5h-.5zM56 120.5h.5v.5h-.5zM37.5 127.5h.5v.5h-.5zM61 125.5h.5v.5h-.5zM62 121.5h.5v.5h-.5zM40.5 120.5h.5v.5h-.5zM36.5 124.5h.5v.5h-.5zM34 123.5h.5v.5h-.5zM33.5 124h.5v.5h-.5zM48 122h.5v.5h-.5zM65 124h.5v.5h-.5zM58.5 121h.5v.5h-.5zM45.5 120.5h.5v.5h-.5zM53.5 121.5h.5v.5h-.5zM58 122.5h.5v.5h-.5zM34 126h.5v.5h-.5zM62 126.5h.5v.5h-.5zM46 127.5h.5v.5h-.5zM53.5 127h.5v.5h-.5zM44 120.5h.5v.5h-.5zM31.5 122.5h.5v.5h-.5zM39 120.5h.5v.5h-.5zM38.5 120.5h.5v.5h-.5zM33 128.5h.5v.5h-.5zM35 117h.5v.5h-.5zM36.5 124h.5v.5h-.5zM55.5 120h.5v.5h-.5zM56.5 120h.5v.5h-.5zM59.5 119h.5v.5h-.5zM55 125h.5v.5h-.5zM56 124h.5v.5h-.5zM60.5 127h.5v.5h-.5zM48.5 121.5h.5v.5h-.5zM49 127h.5v.5h-.5zM53.5 123h.5v.5h-.5zM67.5 123h.5v.5h-.5zM50.5 119.5h.5v.5h-.5zM40 120h.5v.5h-.5zM49 124.5h.5v.5h-.5zM54 126h.5v.5h-.5zM43.5 124.5h.5v.5h-.5zM37.5 126h.5v.5h-.5zM52 120h.5v.5h-.5zM59 126.5h.5v.5h-.5zM44 119h.5v.5h-.5zM33 124h.5v.5h-.5zM43 118h.5v.5h-.5zM43 127h.5v.5h-.5zM56.5 127h.5v.5h-.5zM55.5 123.5h.5v.5h-.5zM67 122h.5v.5h-.5zM57.5 124.5h.5v.5h-.5zM59.5 122h.5v.5h-.5zM54.5 119.5h.5v.5h-.5zM38.5 123h.5v.5h-.5zM52.5 119.5h.5v.5h-.5zM44 126.5h.5v.5h-.5zM38 119.5h.5v.5h-.5zM33.5 127.5h.5v.5h-.5zM42.5 121h.5v.5h-.5zM67 120h.5v.5h-.5zM59 123.5h.5v.5h-.5zM60.5 119h.5v.5h-.5zM32.5 124.5h.5v.5h-.5zM41 127h.5v.5h-.5zM49.5 124h.5v.5h-.5zM62 121h.5v.5h-.5zM63 127h.5v.5h-.5zM57 120h.5v.5h-.5zM43.5 122.5h.5v.5h-.5zM66.5 129h.5v.5h-.5zM52 125h.5v.5h-.5zM68.5 126h.5v.5h-.5zM45 127h.5v.5h-.5zM58 127h.5v.5h-.5zM47.5 125h.5v.5h-.5zM32.5 125.5h.5v.5h-.5zM63.5 120.5h.5v.5h-.5zM36.5 121.5h.5v.5h-.5zM52 120.5h.5v.5h-.5zM56 127h.5v.5h-.5zM50 125.5h.5v.5h-.5zM39.5 125h.5v.5h-.5zM45 117h.5v.5h-.5zM65.5 126.5h.5v.5h-.5zM37.5 123h.5v.5h-.5zM45 118h.5v.5h-.5zM54.5 128h.5v.5h-.5zM62 123h.5v.5h-.5zM65 122.5h.5v.5h-.5zM34 122h.5v.5h-.5zM60 121.5h.5v.5h-.5zM54 121.5h.5v.5h-.5zM35 123.5h.5v.5h-.5zM63.5 122h.5v.5h-.5zM39.5 120h.5v.5h-.5zM44.5 121h.5v.5h-.5zM42.5 119h.5v.5h-.5zM64 126.5h.5v.5h-.5zM62.5 121h.5v.5h-.5zM32.5 121.5h.5v.5h-.5zM46 120h.5v.5h-.5zM36.5 119.5h.5v.5h-.5zM44 118.5h.5v.5h-.5zM63 125.5h.5v.5h-.5zM69 127h.5v.5h-.5zM63 126h.5v.5h-.5zM62 118.5h.5v.5h-.5zM45.5 126h.5v.5h-.5zM41 120.5h.5v.5h-.5zM58 126h.5v.5h-.5zM51.5 127h.5v.5h-.5zM53.5 122h.5v.5h-.5zM60 119.5h.5v.5h-.5zM65.5 124h.5v.5h-.5zM53.5 119.5h.5v.5h-.5zM48 121.5h.5v.5h-.5zM45 123h.5v.5h-.5zM47 122h.5v.5h-.5zM58 124h.5v.5h-.5zM39.5 122h.5v.5h-.5zM40.5 125h.5v.5h-.5zM67 126h.5v.5h-.5zM43.5 118h.5v.5h-.5zM60 120.5h.5v.5h-.5zM35.5 120h.5v.5h-.5zM58 125.5h.5v.5h-.5zM62.5 120h.5v.5h-.5zM45 121.5h.5v.5h-.5zM64 122h.5v.5h-.5zM58 126.5h.5v.5h-.5zM32.5 125h.5v.5h-.5zM66.5 124h.5v.5h-.5zM38.5 119.5h.5v.5h-.5zM57 122.5h.5v.5h-.5zM58.5 122.5h.5v.5h-.5zM44.5 123h.5v.5h-.5zM38 119h.5v.5h-.5zM39.5 124h.5v.5h-.5zM40.5 121.5h.5v.5h-.5zM35.5 116.5h.5v.5h-.5zM59 119h.5v.5h-.5zM61.5 123h.5v.5h-.5zM33.5 112h.5v.5h-.5zM39.5 109h.5v.5h-.5zM39 113.5h.5v.5h-.5zM38 111.5h.5v.5h-.5zM42.5 111.5h.5v.5h-.5zM40.5 115h.5v.5h-.5z" fill="#000" fill-opacity="0.71"/>
<path d="M33.5 123.5h.5v.5h-.5zM67 125h.5v.5h-.5zM37.5 124.5h.5v.5h-.5zM57 123.5h.5v.5h-.5zM68 118.5h.5v.5h-.5zM48 125.5h.5v.5h-.5zM35 124.5h.5v.5h-.5zM49.5 121.5h.5v.5h-.5zM67 124.5h.5v.5h-.5zM49.5 125h.5v.5h-.5zM39.5 126.5h.5v.5h-.5zM62.5 124h.5v.5h-.5zM33 127h.5v.5h-.5zM45 125h.5v.5h-.5zM47.5 127h.5v.5h-.5zM46 127h.5v.5h-.5zM43 121.5h.5v.5h-.5zM32.5 122h.5v.5h-.5zM59.5 119.5h.5v.5h-.5zM34.5 124.5h.5v.5h-.5zM38 120h.5v.5h-.5zM35.5 122.5h.5v.5h-.5zM58 128h.5v.5h-.5zM61.5 121.5h.5v.5h-.5zM42 125h.5v.5h-.5zM56 126h.5v.5h-.5zM45 123.5h.5v.5h-.5zM68 122.5h.5v.5h-.5zM60.5 122h.5v.5h-.5zM67 125.5h.5v.5h-.5zM52 119h.5v.5h-.5zM49 121h.5v.5h-.5zM65 119.5h.5v.5h-.5zM54 125.5h.5v.5h-.5zM51.5 118h.5v.5h-.5zM47 126h.5v.5h-.5zM41.5 123.5h.5v.5h-.5zM63.5 122.5h.5v.5h-.5zM44 127h.5v.5h-.5zM61 127.5h.5v.5h-.5zM52 122.5h.5v.5h-.5zM44 125.5h.5v.5h-.5zM41.5 125h.5v.5h-.5zM57 122h.5v.5h-.5zM43.5 126h.5v.5h-.5zM66 125h.5v.5h-.5zM45.5 120h.5v.5h-.5zM37 125h.5v.5h-.5zM52.5 121.5h.5v.5h-.5zM53 125h.5v.5h-.5zM64 119.5h.5v.5h-.5zM68.5 125.5h.5v.5h-.5zM51.5 123h.5v.5h-.5zM38.5 121.5h.5v.5h-.5zM52.5 126.5h.5v.5h-.5zM36.5 122.5h.5v.5h-.5zM50.5 121h.5v.5h-.5zM55 122.5h.5v.5h-.5zM33.5 126h.5v.5h-.5zM49 120.5h.5v.5h-.5zM65.5 127h.5v.5h-.5zM67.5 126.5h.5v.5h-.5zM66.5 119.5h.5v.5h-.5zM48 124.5h.5v.5h-.5zM41 121h.5v.5h-.5zM58.5 120h.5v.5h-.5zM41.5 120.5h.5v.5h-.5zM60.5 120h.5v.5h-.5zM47.5 125.5h.5v.5h-.5zM35 122h.5v.5h-.5zM38.5 123.5h.5v.5h-.5zM53.5 125h.5v.5h-.5zM67.5 120h.5v.5h-.5zM62.5 120.5h.5v.5h-.5zM36.5 121h.5v.5h-.5zM50.5 120.5h.5v.5h-.5zM69 123.5h.5v.5h-.5zM59 125.5h.5v.5h-.5zM34 119h.5v.5h-.5zM65 120.5h.5v.5h-.5zM34 124h.5v.5h-.5zM36.5 127h.5v.5h-.5zM52.5 127h.5v.5h-.5zM55.5 124.5h.5v.5h-.5zM34 121.5h.5v.5h-.5zM34 124.5h.5v.5h-.5zM62 122.5h.5v.5h-.5zM62 122h.5v.5h-.5zM43.5 123.5h.5v.5h-.5zM66 124h.5v.5h-.5zM40.5 123h.5v.5h-.5zM58.5 122h.5v.5h-.5zM69.5 121h.5v.5h-.5zM62.5 124.5h.5v.5h-.5zM38.5 118h.5v.5h-.5zM67.5 121.5h.5v.5h-.5zM42 123.5h.5v.5h-.5zM51.5 124.5h.5v.5h-.5zM43 125.5h.5v.5h-.5zM51 119h.5v.5h-.5zM37 119.5h.5v.5h-.5zM68.5 125h.5v.5h-.5zM67 121.5h.5v.5h-.5zM38.5 124.5h.5v.5h-.5zM59 120.5h.5v.5h-.5zM56.5 120.5h.5v.5h-.5zM40 123.5h.5v.5h-.5zM35.5 119h.5v.5h-.5zM46.5 122h.5v.5h-.5zM51 121.5h.5v.5h-.5zM37.5 120.5h.5v.5h-.5zM57.5 126.5h.5v.5h-.5zM36.5 120.5h.5v.5h-.5zM64 119h.5v.5h-.5zM43.5 127h.5v.5h-.5zM38 126.5h.5v.5h-.5zM45.5 124h.5v.5h-.5zM66 119h.5v.5h-.5zM39 123.5h.5v.5h-.5zM39 123h.5v.5h-.5zM55.5 121h.5v.5h-.5zM62 127h.5v.5h-.5zM37 121.5h.5v.5h-.5zM60.5 123h.5v.5h-.5zM67.5 122h.5v.5h-.5zM36 124.5h.5v.5h-.5zM58 121.5h.5v.5h-.5zM38.5 118.5h.5v.5h-.5zM64.5 120.5h.5v.5h-.5zM47.5 120.5h.5v.5h-.5zM63.5 124h.5v.5h-.5zM41.5 127h.5v.5h-.5zM53 122h.5v.5h-.5zM57.5 120h.5v.5h-.5zM60 127h.5v.5h-.5zM35 127h.5v.5h-.5zM65 123h.5v.5h-.5zM37.5 122h.5v.5h-.5zM54.5 123.5h.5v.5h-.5zM34.5 124h.5v.5h-.5zM53 124.5h.5v.5h-.5zM61 119.5h.5v.5h-.5zM34 118.5h.5v.5h-.5zM64.5 121.5h.5v.5h-.5zM55 123.5h.5v.5h-.5zM40 122.5h.5v.5h-.5zM65.5 124.5h.5v.5h-.5zM37.5 121.5h.5v.5h-.5zM47.5 119.5h.5v.5h-.5zM61.5 125.5h.5v.5h-.5zM39.5 124.5h.5v.5h-.5zM60.5 126h.5v.5h-.5zM61.5 119h.5v.5h-.5zM37 118.5h.5v.5h-.5zM48.5 120h.5v.5h-.5zM63.5 124.5h.5v.5h-.5zM66.5 126h.5v.5h-.5zM68.5 123.5h.5v.5h-.5zM41 122h.5v.5h-.5zM55.5 125h.5v.5h-.5zM37.5 120h.5v.5h-.5zM31.5 123.5h.5v.5h-.5zM42 123h.5v.5h-.5zM32.5 120h.5v.5h-.5zM39 124h.5v.5h-.5zM64 125h.5v.5h-.5zM55.5 122h.5v.5h-.5zM63 125h.5v.5h-.5zM67 123h.5v.5h-.5zM55.5 122.5h.5v.5h-.5zM55.5 119h.5v.5h-.5zM59.5 121.5h.5v.5h-.5zM59 124h.5v.5h-.5zM34.5 125h.5v.5h-.5zM59 120h.5v.5h-.5zM37 121h.5v.5h-.5zM40 127h.5v.5h-.5zM51 121h.5v.5h-.5zM66.5 121.5h.5v.5h-.5zM63 119.5h.5v.5h-.5zM33.5 121h.5v.5h-.5zM36 123.5h.5v.5h-.5zM56.5 128h.5v.5h-.5zM46.5 124h.5v.5h-.5zM50 124.5h.5v.5h-.5zM53.5 121h.5v.5h-.5zM59.5 124.5h.5v.5h-.5zM35 121h.5v.5h-.5zM62.5 122h.5v.5h-.5zM61.5 121h.5v.5h-.5zM40 121h.5v.5h-.5z" fill="#000" fill-opacity="0.86"/>
<path d="M35.5 125h.5v.5h-.5zM59 121.5h.5v.5h-.5zM45.5 122h.5v.5h-.5zM65 120h.5v.5h-.5zM61 123.5h.5v.5h-.5zM33.5 120h.5v.5h-.5zM42 120.5h.5v.5h-.5zM55 122h.5v.5h-.5zM42.5 123.5h.5v.5h-.5zM56 125h.5v.5h-.5zM52.5 121h.5v.5h-.5zM43.5 126.5h.5v.5h-.5zM48.5 126h.5v.5h-.5zM42 119.5h.5v.5h-.5zM64.5 127h.5v.5h-.5zM36.5 119h.5v.5h-.5zM53.5 119h.5v.5h-.5zM35.5 123h.5v.5h-.5zM39.5 120.5h.5v.5h-.5zM36.5 125h.5v.5h-.5zM57 119.5h.5v.5h-.5zM51.5 118.5h.5v.5h-.5zM63.5 123.5h.5v.5h-.5zM56.5 122h.5v.5h-.5zM33 125.5h.5v.5h-.5zM64.5 125h.5v.5h-.5zM43.5 120h.5v.5h-.5zM42.5 120h.5v.5h-.5zM37 123.5h.5v.5h-.5zM36 123h.5v.5h-.5zM66.5 118.5h.5v.5h-.5zM61 122.5h.5v.5h-.5zM64.5 123h.5v.5h-.5zM32.5 126.5h.5v.5h-.5zM55 121.5h.5v.5h-.5zM43.5 119.5h.5v.5h-.5zM62 124h.5v.5h-.5zM63 124.5h.5v.5h-.5zM63 121h.5v.5h-.5zM66.5 123.5h.5v.5h-.5zM67 124h.5v.5h-.5zM33.5 127h.5v.5h-.5zM49 126h.5v.5h-.5zM58.5 124.5h.5v.5h-.5zM59 126h.5v.5h-.5zM52 122h.5v.5h-.5zM47 123.5h.5v.5h-.5zM52.5 122.5h.5v.5h-.5zM35.5 121h.5v.5h-.5zM49 123h.5v.5h-.5zM56 121.5h.5v.5h-.5zM58.5 125.5h.5v.5h-.5zM66 122.5h.5v.5h-.5zM36 126.5h.5v.5h-.5zM32 120.5h.5v.5h-.5zM37 122h.5v.5h-.5zM53.5 127.5h.5v.5h-.5zM47 123h.5v.5h-.5zM39 121h.5v.5h-.5zM56.5 119.5h.5v.5h-.5zM36.5 125.5h.5v.5h-.5zM60 123h.5v.5h-.5zM61 120h.5v.5h-.5zM38 124h.5v.5h-.5zM54 127h.5v.5h-.5zM58 123.5h.5v.5h-.5zM66.5 120h.5v.5h-.5zM63 124h.5v.5h-.5zM40 125h.5v.5h-.5zM41 126.5h.5v.5h-.5zM63 121.5h.5v.5h-.5zM55 127.5h.5v.5h-.5zM33.5 123h.5v.5h-.5zM49.5 123h.5v.5h-.5zM46 118.5h.5v.5h-.5zM39.5 121h.5v.5h-.5zM40.5 126.5h.5v.5h-.5zM37 120h.5v.5h-.5zM40.5 122.5h.5v.5h-.5zM61.5 122h.5v.5h-.5zM39.5 123h.5v.5h-.5zM34.5 123.5h.5v.5h-.5zM51.5 126.5h.5v.5h-.5zM42 121.5h.5v.5h-.5zM37 124h.5v.5h-.5zM57.5 122.5h.5v.5h-.5zM61.5 124h.5v.5h-.5zM39 120h.5v.5h-.5zM59.5 120.5h.5v.5h-.5zM62.5 123h.5v.5h-.5zM40.5 123.5h.5v.5h-.5zM37 123h.5v.5h-.5zM64 120h.5v.5h-.5zM42.5 121.5h.5v.5h-.5zM67 123.5h.5v.5h-.5zM44.5 125.5h.5v.5h-.5zM64 123.5h.5v.5h-.5zM40 119.5h.5v.5h-.5zM41 123.5h.5v.5h-.5zM62.5 121.5h.5v.5h-.5zM38.5 122h.5v.5h-.5zM33.5 119.5h.5v.5h-.5zM45 122h.5v.5h-.5zM65.5 125.5h.5v.5h-.5zM47.5 120h.5v.5h-.5zM63 123h.5v.5h-.5zM37.5 124h.5v.5h-.5zM53.5 123.5h.5v.5h-.5zM45 124h.5v.5h-.5zM49.5 124.5h.5v.5h-.5zM65 122h.5v.5h-.5zM59.5 125.5h.5v.5h-.5zM49 124h.5v.5h-.5zM63.5 121.5h.5v.5h-.5zM37.5 126.5h.5v.5h-.5zM62.5 122.5h.5v.5h-.5zM38 124.5h.5v.5h-.5zM34.5 121h.5v.5h-.5zM42.5 124h.5v.5h-.5zM63 122h.5v.5h-.5zM63.5 119h.5v.5h-.5zM44 126h.5v.5h-.5zM38 121.5h.5v.5h-.5zM63.5 119.5h.5v.5h-.5zM38 122.5h.5v.5h-.5zM61 124h.5v.5h-.5zM60 120h.5v.5h-.5zM37.5 121h.5v.5h-.5zM61 121h.5v.5h-.5zM33 121h.5v.5h-.5zM59.5 125h.5v.5h-.5zM65 123.5h.5v.5h-.5zM51.5 122.5h.5v.5h-.5zM36.5 123h.5v.5h-.5zM34.5 119h.5v.5h-.5zM64.5 123.5h.5v.5h-.5zM47 121h.5v.5h-.5zM35 124h.5v.5h-.5zM37 122.5h.5v.5h-.5zM39.5 123.5h.5v.5h-.5zM59 123h.5v.5h-.5zM43 122.5h.5v.5h-.5zM42 124h.5v.5h-.5zM68 123.5h.5v.5h-.5zM37.5 123.5h.5v.5h-.5zM45 119.5h.5v.5h-.5zM41.5 122.5h.5v.5h-.5zM41 121.5h.5v.5h-.5zM61 123h.5v.5h-.5zM63.5 121h.5v.5h-.5zM60 121h.5v.5h-.5zM40 124h.5v.5h-.5zM51.5 122h.5v.5h-.5zM55 119.5h.5v.5h-.5zM61 118.5h.5v.5h-.5zM38 123.5h.5v.5h-.5zM67 122.5h.5v.5h-.5zM55 120.5h.5v.5h-.5zM36 125h.5v.5h-.5zM37.5 118h.5v.5h-.5zM37.5 125h.5v.5h-.5zM63.5 125h.5v.5h-.5zM57 123h.5v.5h-.5zM36 121.5h.5v.5h-.5zM68 122h.5v.5h-.5zM42.5 125h.5v.5h-.5zM35 123h.5v.5h-.5zM37 126h.5v.5h-.5zM33.5 125.5h.5v.5h-.5zM62.5 125.5h.5v.5h-.5zM34.5 120h.5v.5h-.5zM51 122h.5v.5h-.5zM42.5 120.5h.5v.5h-.5zM39 124.5h.5v.5h-.5zM64 123h.5v.5h-.5zM60.5 126.5h.5v.5h-.5zM44 123h.5v.5h-.5zM37.5 125.5h.5v.5h-.5zM57.5 124h.5v.5h-.5zM40 121.5h.5v.5h-.5zM64.5 122h.5v.5h-.5zM66.5 125.5h.5v.5h-.5zM61.5 120.5h.5v.5h-.5zM41 125h.5v.5h-.5zM59 124.5h.5v.5h-.5zM56 123h.5v.5h-.5zM36.5 123.5h.5v.5h-.5zM62.5 123.5h.5v.5h-.5zM62 124.5h.5v.5h-.5zM39 122h.5v.5h-.5zM54 119h.5v.5h-.5zM60.5 123.5h.5v.5h-.5zM40 122h.5v.5h-.5zM64.5 122.5h.5v.5h-.5z" fill="#000" fill-opacity="1.00"/>
<rect x="19.4" y="91.9" width="65.6" height="65.1" fill="none" stroke="#666" stroke-width="0.9"/>
<line x1="46" y1="91.9" x2="46" y2="157" stroke="#777" stroke-width="1.0"/>
<line x1="19.4" y1="117" x2="85" y2="117" stroke="#777" stroke-width="1.0"/>
<text x="33" y="100.7" font-size="6.2" text-anchor="middle" font-weight="normal" fill="#2a2a2a">6.37</text>
<text x="69.5" y="100.7" font-size="6.2" text-anchor="middle" font-weight="normal" fill="#2a2a2a">1.79</text>
<text x="33" y="141" font-size="6.2" text-anchor="middle" font-weight="normal" fill="#2a2a2a">34.2</text>
<text x="69.5" y="141" font-size="6.2" text-anchor="middle" font-weight="normal" fill="#2a2a2a">57.6</text>
<line x1="17.9" y1="98.21470000000001" x2="19.4" y2="98.21470000000001" stroke="#222" stroke-width="0.9"/>
<text x="17.4" y="99.3147" font-size="3" text-anchor="end" font-weight="normal" fill="#777">10<tspan font-size="2" dy="-1">5</tspan></text>
<line x1="17.9" y1="110.779" x2="19.4" y2="110.779" stroke="#222" stroke-width="0.9"/>
<text x="17.4" y="111.87899999999999" font-size="3" text-anchor="end" font-weight="normal" fill="#777">10<tspan font-size="2" dy="-1">4</tspan></text>
<line x1="17.9" y1="127.37950000000001" x2="19.4" y2="127.37950000000001" stroke="#222" stroke-width="0.9"/>
<text x="17.4" y="128.4795" font-size="3" text-anchor="end" font-weight="normal" fill="#777">10<tspan font-size="2" dy="-1">3</tspan></text>
<line x1="17.9" y1="137.1445" x2="19.4" y2="137.1445" stroke="#222" stroke-width="0.9"/>
<text x="17.4" y="138.2445" font-size="3" text-anchor="end" font-weight="normal" fill="#777">0</text>
<line x1="18.4" y1="104.92" x2="19.4" y2="104.92" stroke="#666" stroke-width="0.5"/>
<line x1="18.4" y1="117.94" x2="19.4" y2="117.94" stroke="#666" stroke-width="0.5"/>
<line x1="18.4" y1="132.262" x2="19.4" y2="132.262" stroke="#666" stroke-width="0.5"/>
<line x1="18.4" y1="143.98000000000002" x2="19.4" y2="143.98000000000002" stroke="#666" stroke-width="0.5"/>
<line x1="18.4" y1="150.49" x2="19.4" y2="150.49" stroke="#666" stroke-width="0.5"/>
<line x1="37.111999999999995" y1="157" x2="37.111999999999995" y2="158.5" stroke="#333" stroke-width="0.8"/>
<text x="37.111999999999995" y="162" font-size="3" text-anchor="middle" font-weight="normal" fill="#666">0</text>
<line x1="50.232" y1="157" x2="50.232" y2="158.5" stroke="#333" stroke-width="0.8"/>
<text x="50.232" y="162" font-size="3" text-anchor="middle" font-weight="normal" fill="#666">10<tspan font-size="2" dy="-1">3</tspan></text>
<line x1="65.32" y1="157" x2="65.32" y2="158.5" stroke="#333" stroke-width="0.8"/>
<text x="65.32" y="162" font-size="3" text-anchor="middle" font-weight="normal" fill="#666">10<tspan font-size="2" dy="-1">4</tspan></text>
<line x1="79.096" y1="157" x2="79.096" y2="158.5" stroke="#333" stroke-width="0.8"/>
<text x="79.096" y="162" font-size="3" text-anchor="middle" font-weight="normal" fill="#666">10<tspan font-size="2" dy="-1">5</tspan></text>
<line x1="25.959999999999997" y1="157" x2="25.959999999999997" y2="158" stroke="#666" stroke-width="0.5"/>
<line x1="30.552" y1="157" x2="30.552" y2="158" stroke="#666" stroke-width="0.5"/>
<line x1="33.831999999999994" y1="157" x2="33.831999999999994" y2="158" stroke="#666" stroke-width="0.5"/>
<line x1="44.327999999999996" y1="157" x2="44.327999999999996" y2="158" stroke="#666" stroke-width="0.5"/>
<line x1="57.44799999999999" y1="157" x2="57.44799999999999" y2="158" stroke="#666" stroke-width="0.5"/>
<line x1="61.38399999999999" y1="157" x2="61.38399999999999" y2="158" stroke="#666" stroke-width="0.5"/>
<line x1="71.88" y1="157" x2="71.88" y2="158" stroke="#666" stroke-width="0.5"/>
<line x1="75.816" y1="157" x2="75.816" y2="158" stroke="#666" stroke-width="0.5"/>
<polyline points="8.7,139.5 8.7,169.8 38.9,169.8" fill="none" stroke="#111" stroke-width="1.1"/>
<text x="6.4" y="163.8" font-size="7.6" text-anchor="start" font-weight="normal" fill="#222" transform="rotate(-90 6.4 163.8)">CD56</text>
<text x="13.4" y="179" font-size="7.6" text-anchor="start" font-weight="normal" fill="#222">CD57</text>
<polygon points="120.52,68.20 123.50,50.35 126.47,32.50 129.81,22.39 133.02,35.48 136.59,53.33 140.75,68.20" fill="#dedede" stroke="#aaa" stroke-width="0.6"/>
<polyline points="112.10,68.20 112.59,68.20 113.58,68.20 114.57,68.20 115.57,68.20 116.56,68.20 117.55,68.20 118.80,66.54 119.97,60.62 121.14,53.76 122.31,46.46 123.50,39.03 124.69,31.43 125.88,24.39 127.07,20.25 128.26,15.06 129.45,18.46 130.58,11.14 131.59,15.25 132.60,20.29 133.62,18.54 134.57,24.28 135.52,29.79 136.47,30.85 137.42,35.64 138.49,37.33 139.56,41.81 140.64,44.41 141.71,47.01 142.75,48.88 143.79,49.09 144.83,51.80 145.87,55.88 146.93,57.30 147.98,58.32 149.04,61.84 150.10,63.85 150.99,68.20 151.90,68.20 152.82,68.20 153.73,68.20 154.65,68.20 155.56,68.20 156.47,68.20 157.39,68.20 158.30,68.20 159.22,68.20 160.13,68.20 161.04,68.20 161.96,68.20 162.87,68.20 163.79,68.20 164.70,68.20 165.62,68.20 166.53,68.20 167.44,68.20 168.36,68.20 169.27,68.20 170.19,68.20 170.60,68.20" fill="none" stroke="#000" stroke-width="0.8"/>
<polyline points="112.10,68.20 112.61,68.20 113.62,68.20 114.63,68.20 115.65,68.20 116.66,68.20 117.07,66.99 118.22,59.78 119.37,54.24 120.52,48.48 121.57,41.77 122.61,35.14 123.65,28.84 124.69,25.61 125.68,23.68 126.67,18.08 127.66,14.23 128.85,17.71 129.81,10.48 131.23,13.97 133.02,16.09 134.36,20.39 135.70,23.35 136.74,29.11 137.78,32.68 138.88,35.96 139.98,44.18 141.35,42.75 142.30,40.93 143.25,40.47 144.21,38.51 145.51,41.04 146.70,41.42 147.84,41.55 148.97,47.37 150.10,49.09 151.41,57.48 152.71,64.18 154.44,68.20 155.37,68.20 156.29,68.20 157.22,68.20 158.14,68.20 159.07,68.20 159.99,68.20 160.92,68.20 161.84,68.20 162.77,68.20 163.70,68.20 164.62,68.20 165.55,68.20 166.47,68.20 167.40,68.20 168.32,68.20 169.25,68.20 170.17,68.20 170.60,68.20" fill="none" stroke="#000" stroke-width="1.35"/>
<rect x="111.6" y="8.7" width="59.5" height="59.5" fill="none" stroke="#222" stroke-width="0.9"/>
<line x1="110.3" y1="68.2" x2="111.6" y2="68.2" stroke="#444" stroke-width="0.7"/>
<text x="109.8" y="69.2" font-size="2.6" text-anchor="end" font-weight="normal" fill="#777">0</text>
<line x1="110.3" y1="56.776" x2="111.6" y2="56.776" stroke="#444" stroke-width="0.7"/>
<text x="109.8" y="57.776" font-size="2.6" text-anchor="end" font-weight="normal" fill="#777">20</text>
<line x1="110.3" y1="45.352000000000004" x2="111.6" y2="45.352000000000004" stroke="#444" stroke-width="0.7"/>
<text x="109.8" y="46.352000000000004" font-size="2.6" text-anchor="end" font-weight="normal" fill="#777">40</text>
<line x1="110.3" y1="33.92800000000001" x2="111.6" y2="33.92800000000001" stroke="#444" stroke-width="0.7"/>
<text x="109.8" y="34.92800000000001" font-size="2.6" text-anchor="end" font-weight="normal" fill="#777">60</text>
<line x1="110.3" y1="22.504000000000005" x2="111.6" y2="22.504000000000005" stroke="#444" stroke-width="0.7"/>
<text x="109.8" y="23.504000000000005" font-size="2.6" text-anchor="end" font-weight="normal" fill="#777">80</text>
<line x1="110.3" y1="11.080000000000005" x2="111.6" y2="11.080000000000005" stroke="#444" stroke-width="0.7"/>
<text x="109.8" y="12.080000000000005" font-size="2.6" text-anchor="end" font-weight="normal" fill="#777">100</text>
<line x1="110.8" y1="62.488" x2="111.6" y2="62.488" stroke="#777" stroke-width="0.4"/>
<line x1="110.8" y1="51.06400000000001" x2="111.6" y2="51.06400000000001" stroke="#777" stroke-width="0.4"/>
<line x1="110.8" y1="39.64" x2="111.6" y2="39.64" stroke="#777" stroke-width="0.4"/>
<line x1="110.8" y1="28.216000000000008" x2="111.6" y2="28.216000000000008" stroke="#777" stroke-width="0.4"/>
<line x1="110.8" y1="16.792" x2="111.6" y2="16.792" stroke="#777" stroke-width="0.4"/>
<line x1="126.475" y1="68.2" x2="126.475" y2="69.7" stroke="#333" stroke-width="0.7"/>
<text x="126.475" y="72.8" font-size="2.8" text-anchor="middle" font-weight="normal" fill="#777">0</text>
<line x1="140.755" y1="68.2" x2="140.755" y2="69.7" stroke="#333" stroke-width="0.7"/>
<text x="140.755" y="72.8" font-size="2.8" text-anchor="middle" font-weight="normal" fill="#777">10<tspan font-size="1.8" dy="-0.8">3</tspan></text>
<line x1="153.845" y1="68.2" x2="153.845" y2="69.7" stroke="#333" stroke-width="0.7"/>
<text x="153.845" y="72.8" font-size="2.8" text-anchor="middle" font-weight="normal" fill="#777">10<tspan font-size="1.8" dy="-0.8">4</tspan></text>
<line x1="166.0425" y1="68.2" x2="166.0425" y2="69.7" stroke="#333" stroke-width="0.7"/>
<text x="166.0425" y="72.8" font-size="2.8" text-anchor="middle" font-weight="normal" fill="#777">10<tspan font-size="1.8" dy="-0.8">5</tspan></text>
<line x1="115.16999999999999" y1="68.2" x2="115.16999999999999" y2="69.2" stroke="#777" stroke-width="0.4"/>
<line x1="118.74" y1="68.2" x2="118.74" y2="69.2" stroke="#777" stroke-width="0.4"/>
<line x1="122.30999999999999" y1="68.2" x2="122.30999999999999" y2="69.2" stroke="#777" stroke-width="0.4"/>
<line x1="124.69" y1="68.2" x2="124.69" y2="69.2" stroke="#777" stroke-width="0.4"/>
<line x1="133.01999999999998" y1="68.2" x2="133.01999999999998" y2="69.2" stroke="#777" stroke-width="0.4"/>
<line x1="136.59" y1="68.2" x2="136.59" y2="69.2" stroke="#777" stroke-width="0.4"/>
<line x1="146.10999999999999" y1="68.2" x2="146.10999999999999" y2="69.2" stroke="#777" stroke-width="0.4"/>
<line x1="149.68" y1="68.2" x2="149.68" y2="69.2" stroke="#777" stroke-width="0.4"/>
<line x1="158.605" y1="68.2" x2="158.605" y2="69.2" stroke="#777" stroke-width="0.4"/>
<line x1="162.17499999999998" y1="68.2" x2="162.17499999999998" y2="69.2" stroke="#777" stroke-width="0.4"/>
<text x="139.8" y="81.8" font-size="6.8" text-anchor="middle" font-weight="normal" fill="#222">CD62L</text>
<line x1="139.1" y1="36.5" x2="167.5" y2="36.5" stroke="#000" stroke-width="1.4"/>
<g fill="none" stroke="#666" stroke-width="0.75"><circle cx="150.20" cy="30.70" r="0.95"/><circle cx="153.20" cy="33.30" r="0.95"/><line x1="153.30" y1="29.50" x2="150.10" y2="34.50"/></g>
<polygon points="200.78,68.20 202.28,43.21 203.47,22.98 204.37,14.65 205.87,31.31 207.67,53.33 209.16,67.01 209.76,68.20" fill="#dedede" stroke="#aaa" stroke-width="0.6"/>
<polyline points="188.30,68.20 189.12,68.20 190.04,68.20 190.96,68.20 191.89,68.20 192.81,68.20 193.73,68.20 194.65,68.20 195.57,68.20 196.49,68.20 197.42,68.20 198.34,68.20 199.26,68.20 200.18,68.20 201.92,43.94 203.17,24.15 204.37,15.11 206.11,32.05 207.79,53.18 209.52,66.97 210.46,66.91 211.40,66.35 212.34,65.33 213.28,66.38 214.22,66.71 215.16,66.15 216.15,65.22 217.15,66.76 218.15,65.49 219.15,66.46 220.15,66.23 221.14,66.60 222.19,66.21 223.24,66.48 224.29,65.91 225.34,67.23 226.30,67.18 227.25,67.73 228.21,67.72 229.17,67.96 230.13,68.20 231.08,68.20 232.02,68.20 232.97,68.20 233.91,68.20 234.86,68.20 235.80,68.20 236.75,68.20 237.70,68.20 238.64,68.20 239.59,68.20 240.53,68.20 241.48,68.20 242.43,68.20 243.37,68.20 244.32,68.20 245.26,68.20 246.21,68.20 247.15,68.20 247.50,68.20" fill="none" stroke="#000" stroke-width="0.8"/>
<polyline points="188.30,68.20 189.14,68.20 190.09,68.20 191.03,68.20 191.98,68.20 192.92,68.20 193.87,68.20 194.81,68.20 195.76,68.20 196.70,68.20 197.65,68.20 198.59,68.20 199.53,68.20 200.48,68.20 201.92,44.46 203.17,22.55 204.37,14.04 206.11,27.32 207.79,50.71 209.52,66.93 210.46,65.95 211.40,66.02 212.34,66.15 213.28,65.73 214.22,65.94 215.16,66.25 216.15,66.10 217.15,65.69 218.15,65.63 219.15,66.45 220.15,65.41 221.14,65.46 222.14,65.38 223.14,65.19 224.14,66.60 225.14,66.86 226.14,67.25 227.13,67.61 228.33,67.80 229.53,68.00 230.73,68.20 231.64,68.20 232.56,68.20 233.47,68.20 234.39,68.20 235.30,68.20 236.21,68.20 237.13,68.20 238.04,68.20 238.96,68.20 239.87,68.20 240.79,68.20 241.70,68.20 242.61,68.20 243.53,68.20 244.44,68.20 245.36,68.20 246.27,68.20 247.19,68.20 247.50,68.20" fill="none" stroke="#000" stroke-width="1.35"/>
<rect x="187.8" y="8.7" width="60.19999999999999" height="59.5" fill="none" stroke="#222" stroke-width="0.9"/>
<line x1="186.5" y1="68.2" x2="187.8" y2="68.2" stroke="#444" stroke-width="0.7"/>
<text x="186.0" y="69.2" font-size="2.6" text-anchor="end" font-weight="normal" fill="#777">0</text>
<line x1="186.5" y1="56.776" x2="187.8" y2="56.776" stroke="#444" stroke-width="0.7"/>
<text x="186.0" y="57.776" font-size="2.6" text-anchor="end" font-weight="normal" fill="#777">20</text>
<line x1="186.5" y1="45.352000000000004" x2="187.8" y2="45.352000000000004" stroke="#444" stroke-width="0.7"/>
<text x="186.0" y="46.352000000000004" font-size="2.6" text-anchor="end" font-weight="normal" fill="#777">40</text>
<line x1="186.5" y1="33.92800000000001" x2="187.8" y2="33.92800000000001" stroke="#444" stroke-width="0.7"/>
<text x="186.0" y="34.92800000000001" font-size="2.6" text-anchor="end" font-weight="normal" fill="#777">60</text>
<line x1="186.5" y1="22.504000000000005" x2="187.8" y2="22.504000000000005" stroke="#444" stroke-width="0.7"/>
<text x="186.0" y="23.504000000000005" font-size="2.6" text-anchor="end" font-weight="normal" fill="#777">80</text>
<line x1="186.5" y1="11.080000000000005" x2="187.8" y2="11.080000000000005" stroke="#444" stroke-width="0.7"/>
<text x="186.0" y="12.080000000000005" font-size="2.6" text-anchor="end" font-weight="normal" fill="#777">100</text>
<line x1="187.0" y1="62.488" x2="187.8" y2="62.488" stroke="#777" stroke-width="0.4"/>
<line x1="187.0" y1="51.06400000000001" x2="187.8" y2="51.06400000000001" stroke="#777" stroke-width="0.4"/>
<line x1="187.0" y1="39.64" x2="187.8" y2="39.64" stroke="#777" stroke-width="0.4"/>
<line x1="187.0" y1="28.216000000000008" x2="187.8" y2="28.216000000000008" stroke="#777" stroke-width="0.4"/>
<line x1="187.0" y1="16.792" x2="187.8" y2="16.792" stroke="#777" stroke-width="0.4"/>
<line x1="202.85000000000002" y1="68.2" x2="202.85000000000002" y2="69.7" stroke="#333" stroke-width="0.7"/>
<text x="202.85000000000002" y="72.8" font-size="2.8" text-anchor="middle" font-weight="normal" fill="#777">0</text>
<line x1="217.298" y1="68.2" x2="217.298" y2="69.7" stroke="#333" stroke-width="0.7"/>
<text x="217.298" y="72.8" font-size="2.8" text-anchor="middle" font-weight="normal" fill="#777">10<tspan font-size="1.8" dy="-0.8">3</tspan></text>
<line x1="230.542" y1="68.2" x2="230.542" y2="69.7" stroke="#333" stroke-width="0.7"/>
<text x="230.542" y="72.8" font-size="2.8" text-anchor="middle" font-weight="normal" fill="#777">10<tspan font-size="1.8" dy="-0.8">4</tspan></text>
<line x1="242.883" y1="68.2" x2="242.883" y2="69.7" stroke="#333" stroke-width="0.7"/>
<text x="242.883" y="72.8" font-size="2.8" text-anchor="middle" font-weight="normal" fill="#777">10<tspan font-size="1.8" dy="-0.8">5</tspan></text>
<line x1="191.412" y1="68.2" x2="191.412" y2="69.2" stroke="#777" stroke-width="0.4"/>
<line x1="195.024" y1="68.2" x2="195.024" y2="69.2" stroke="#777" stroke-width="0.4"/>
<line x1="198.636" y1="68.2" x2="198.636" y2="69.2" stroke="#777" stroke-width="0.4"/>
<line x1="201.044" y1="68.2" x2="201.044" y2="69.2" stroke="#777" stroke-width="0.4"/>
<line x1="209.472" y1="68.2" x2="209.472" y2="69.2" stroke="#777" stroke-width="0.4"/>
<line x1="213.084" y1="68.2" x2="213.084" y2="69.2" stroke="#777" stroke-width="0.4"/>
<line x1="222.716" y1="68.2" x2="222.716" y2="69.2" stroke="#777" stroke-width="0.4"/>
<line x1="226.328" y1="68.2" x2="226.328" y2="69.2" stroke="#777" stroke-width="0.4"/>
<line x1="235.358" y1="68.2" x2="235.358" y2="69.2" stroke="#777" stroke-width="0.4"/>
<line x1="238.97" y1="68.2" x2="238.97" y2="69.2" stroke="#777" stroke-width="0.4"/>
<text x="217.1" y="81.9" font-size="6.8" text-anchor="middle" font-weight="normal" fill="#222">CD27</text>
<line x1="210.3" y1="47.4" x2="238.5" y2="47.4" stroke="#000" stroke-width="1.4"/>
<g fill="none" stroke="#666" stroke-width="0.75"><circle cx="221.30" cy="40.30" r="0.95"/><circle cx="224.30" cy="42.90" r="0.95"/><line x1="224.40" y1="39.10" x2="221.20" y2="44.10"/></g>
<polygon points="286.81,68.20 289.29,45.31 291.89,25.01 294.37,13.09 298.63,25.01 301.23,50.50 303.71,68.20" fill="#dedede" stroke="#aaa" stroke-width="0.6"/>
<polyline points="278.50,68.20 279.06,68.20 280.13,68.20 281.19,68.20 282.26,68.20 283.32,68.20 284.21,67.09 285.16,66.01 286.12,64.50 287.08,62.74 288.04,60.95 288.99,58.98 290.00,54.90 291.00,51.22 292.01,48.02 293.01,44.71 294.17,39.29 295.34,35.48 296.50,28.54 297.50,23.39 298.51,17.00 299.51,13.00 300.75,20.29 301.99,34.95 303.14,38.58 304.28,44.36 305.42,50.05 306.55,54.84 307.67,59.60 308.79,63.42 309.97,68.20 310.88,68.20 311.78,68.20 312.69,68.20 313.59,68.20 314.49,68.20 315.40,68.20 316.30,68.20 317.21,68.20 318.11,68.20 319.02,68.20 319.92,68.20 320.82,68.20 321.73,68.20 322.63,68.20 323.54,68.20 324.44,68.20 325.35,68.20 326.25,68.20 327.15,68.20 328.06,68.20 328.96,68.20 329.87,68.20 330.77,68.20 331.67,68.20 332.58,68.20 333.48,68.20 334.39,68.20 335.29,68.20 336.20,68.20 336.60,68.20" fill="none" stroke="#000" stroke-width="0.8"/>
<polyline points="278.50,68.20 278.95,68.20 279.89,68.20 280.84,68.20 281.78,68.20 282.73,68.20 283.38,66.66 284.41,64.91 285.43,64.20 286.46,62.01 287.49,59.41 288.52,59.24 289.57,54.53 290.62,48.46 291.67,45.86 292.72,43.21 293.84,37.53 294.96,34.16 296.08,29.74 297.50,23.66 298.63,22.21 299.99,10.40 300.99,19.09 301.99,25.02 303.29,29.52 304.60,35.88 305.84,42.14 307.08,49.18 308.20,52.24 309.32,56.66 310.36,57.41 311.39,58.01 312.49,59.41 313.60,63.40 314.70,65.47 316.00,68.20 316.92,68.20 317.84,68.20 318.75,68.20 319.67,68.20 320.59,68.20 321.51,68.20 322.42,68.20 323.34,68.20 324.26,68.20 325.17,68.20 326.09,68.20 327.01,68.20 327.93,68.20 328.84,68.20 329.76,68.20 330.68,68.20 331.60,68.20 332.51,68.20 333.43,68.20 334.35,68.20 335.27,68.20 336.18,68.20 336.60,68.20" fill="none" stroke="#000" stroke-width="1.35"/>
<rect x="278" y="9.2" width="59.10000000000002" height="59.0" fill="none" stroke="#222" stroke-width="0.9"/>
<line x1="276.7" y1="68.2" x2="278" y2="68.2" stroke="#444" stroke-width="0.7"/>
<text x="276.2" y="69.2" font-size="2.6" text-anchor="end" font-weight="normal" fill="#777">0</text>
<line x1="276.7" y1="56.872" x2="278" y2="56.872" stroke="#444" stroke-width="0.7"/>
<text x="276.2" y="57.872" font-size="2.6" text-anchor="end" font-weight="normal" fill="#777">20</text>
<line x1="276.7" y1="45.544000000000004" x2="278" y2="45.544000000000004" stroke="#444" stroke-width="0.7"/>
<text x="276.2" y="46.544000000000004" font-size="2.6" text-anchor="end" font-weight="normal" fill="#777">40</text>
<line x1="276.7" y1="34.21600000000001" x2="278" y2="34.21600000000001" stroke="#444" stroke-width="0.7"/>
<text x="276.2" y="35.21600000000001" font-size="2.6" text-anchor="end" font-weight="normal" fill="#777">60</text>
<line x1="276.7" y1="22.888000000000005" x2="278" y2="22.888000000000005" stroke="#444" stroke-width="0.7"/>
<text x="276.2" y="23.888000000000005" font-size="2.6" text-anchor="end" font-weight="normal" fill="#777">80</text>
<line x1="276.7" y1="11.560000000000002" x2="278" y2="11.560000000000002" stroke="#444" stroke-width="0.7"/>
<text x="276.2" y="12.560000000000002" font-size="2.6" text-anchor="end" font-weight="normal" fill="#777">100</text>
<line x1="277.2" y1="62.536" x2="278" y2="62.536" stroke="#777" stroke-width="0.4"/>
<line x1="277.2" y1="51.208000000000006" x2="278" y2="51.208000000000006" stroke="#777" stroke-width="0.4"/>
<line x1="277.2" y1="39.88" x2="278" y2="39.88" stroke="#777" stroke-width="0.4"/>
<line x1="277.2" y1="28.552000000000007" x2="278" y2="28.552000000000007" stroke="#777" stroke-width="0.4"/>
<line x1="277.2" y1="17.224000000000004" x2="278" y2="17.224000000000004" stroke="#777" stroke-width="0.4"/>
<line x1="292.775" y1="68.2" x2="292.775" y2="69.7" stroke="#333" stroke-width="0.7"/>
<text x="292.775" y="72.8" font-size="2.8" text-anchor="middle" font-weight="normal" fill="#777">0</text>
<line x1="306.959" y1="68.2" x2="306.959" y2="69.7" stroke="#333" stroke-width="0.7"/>
<text x="306.959" y="72.8" font-size="2.8" text-anchor="middle" font-weight="normal" fill="#777">10<tspan font-size="1.8" dy="-0.8">3</tspan></text>
<line x1="319.961" y1="68.2" x2="319.961" y2="69.7" stroke="#333" stroke-width="0.7"/>
<text x="319.961" y="72.8" font-size="2.8" text-anchor="middle" font-weight="normal" fill="#777">10<tspan font-size="1.8" dy="-0.8">4</tspan></text>
<line x1="332.0765" y1="68.2" x2="332.0765" y2="69.7" stroke="#333" stroke-width="0.7"/>
<text x="332.0765" y="72.8" font-size="2.8" text-anchor="middle" font-weight="normal" fill="#777">10<tspan font-size="1.8" dy="-0.8">5</tspan></text>
<line x1="281.546" y1="68.2" x2="281.546" y2="69.2" stroke="#777" stroke-width="0.4"/>
<line x1="285.092" y1="68.2" x2="285.092" y2="69.2" stroke="#777" stroke-width="0.4"/>
<line x1="288.638" y1="68.2" x2="288.638" y2="69.2" stroke="#777" stroke-width="0.4"/>
<line x1="291.002" y1="68.2" x2="291.002" y2="69.2" stroke="#777" stroke-width="0.4"/>
<line x1="299.276" y1="68.2" x2="299.276" y2="69.2" stroke="#777" stroke-width="0.4"/>
<line x1="302.822" y1="68.2" x2="302.822" y2="69.2" stroke="#777" stroke-width="0.4"/>
<line x1="312.278" y1="68.2" x2="312.278" y2="69.2" stroke="#777" stroke-width="0.4"/>
<line x1="315.824" y1="68.2" x2="315.824" y2="69.2" stroke="#777" stroke-width="0.4"/>
<line x1="324.689" y1="68.2" x2="324.689" y2="69.2" stroke="#777" stroke-width="0.4"/>
<line x1="328.235" y1="68.2" x2="328.235" y2="69.2" stroke="#777" stroke-width="0.4"/>
<text x="305.3" y="82.1" font-size="6.8" text-anchor="middle" font-weight="normal" fill="#222">NKp46</text>
<polygon points="368.81,68.20 371.29,41.89 373.48,23.36 375.61,13.09 378.09,28.32 380.57,51.98 383.17,68.20" fill="#dedede" stroke="#aaa" stroke-width="0.6"/>
<polyline points="359.50,68.20 359.99,68.20 360.97,68.20 361.95,68.20 362.94,68.20 363.93,68.20 364.91,68.20 365.97,67.61 366.94,67.01 367.91,66.65 368.88,66.20 369.85,65.48 370.82,65.39 371.81,63.05 372.79,62.82 373.77,62.14 375.25,59.59 376.29,53.37 377.32,50.42 378.36,45.71 379.39,40.39 381.16,32.29 382.94,20.54 383.97,15.83 385.00,11.56 385.93,14.76 386.86,15.02 387.78,14.24 388.69,22.54 389.59,30.79 390.50,38.61 391.74,48.72 392.98,58.22 394.22,62.91 395.46,68.20 396.37,68.20 397.28,68.20 398.18,68.20 399.09,68.20 399.99,68.20 400.90,68.20 401.80,68.20 402.71,68.20 403.61,68.20 404.52,68.20 405.42,68.20 406.33,68.20 407.24,68.20 408.14,68.20 409.05,68.20 409.95,68.20 410.86,68.20 411.76,68.20 412.67,68.20 413.57,68.20 414.48,68.20 415.38,68.20 416.29,68.20 417.19,68.20 417.60,68.20" fill="none" stroke="#000" stroke-width="0.8"/>
<polyline points="359.50,68.20 360.01,68.20 361.03,68.20 362.04,68.20 363.05,68.20 364.07,68.20 365.08,68.20 366.09,68.20 367.10,67.61 368.03,68.01 368.96,66.75 369.89,66.77 370.82,66.76 371.81,65.28 372.79,64.48 373.77,64.49 374.84,61.99 375.90,59.46 376.91,54.05 377.91,51.55 379.09,45.13 380.28,38.13 382.05,27.72 383.59,22.96 384.65,17.80 385.71,9.91 387.01,16.91 388.31,18.19 389.55,28.14 390.80,37.86 392.10,48.56 393.40,58.62 394.64,62.55 395.88,68.20 396.80,68.20 397.73,68.20 398.66,68.20 399.58,68.20 400.51,68.20 401.43,68.20 402.36,68.20 403.29,68.20 404.21,68.20 405.14,68.20 406.06,68.20 406.99,68.20 407.92,68.20 408.84,68.20 409.77,68.20 410.69,68.20 411.62,68.20 412.54,68.20 413.47,68.20 414.40,68.20 415.32,68.20 416.25,68.20 417.17,68.20 417.60,68.20" fill="none" stroke="#000" stroke-width="1.35"/>
<rect x="359" y="9.2" width="59.10000000000002" height="59.0" fill="none" stroke="#222" stroke-width="0.9"/>
<line x1="357.7" y1="68.2" x2="359" y2="68.2" stroke="#444" stroke-width="0.7"/>
<text x="357.2" y="69.2" font-size="2.6" text-anchor="end" font-weight="normal" fill="#777">0</text>
<line x1="357.7" y1="56.872" x2="359" y2="56.872" stroke="#444" stroke-width="0.7"/>
<text x="357.2" y="57.872" font-size="2.6" text-anchor="end" font-weight="normal" fill="#777">20</text>
<line x1="357.7" y1="45.544000000000004" x2="359" y2="45.544000000000004" stroke="#444" stroke-width="0.7"/>
<text x="357.2" y="46.544000000000004" font-size="2.6" text-anchor="end" font-weight="normal" fill="#777">40</text>
<line x1="357.7" y1="34.21600000000001" x2="359" y2="34.21600000000001" stroke="#444" stroke-width="0.7"/>
<text x="357.2" y="35.21600000000001" font-size="2.6" text-anchor="end" font-weight="normal" fill="#777">60</text>
<line x1="357.7" y1="22.888000000000005" x2="359" y2="22.888000000000005" stroke="#444" stroke-width="0.7"/>
<text x="357.2" y="23.888000000000005" font-size="2.6" text-anchor="end" font-weight="normal" fill="#777">80</text>
<line x1="357.7" y1="11.560000000000002" x2="359" y2="11.560000000000002" stroke="#444" stroke-width="0.7"/>
<text x="357.2" y="12.560000000000002" font-size="2.6" text-anchor="end" font-weight="normal" fill="#777">100</text>
<line x1="358.2" y1="62.536" x2="359" y2="62.536" stroke="#777" stroke-width="0.4"/>
<line x1="358.2" y1="51.208000000000006" x2="359" y2="51.208000000000006" stroke="#777" stroke-width="0.4"/>
<line x1="358.2" y1="39.88" x2="359" y2="39.88" stroke="#777" stroke-width="0.4"/>
<line x1="358.2" y1="28.552000000000007" x2="359" y2="28.552000000000007" stroke="#777" stroke-width="0.4"/>
<line x1="358.2" y1="17.224000000000004" x2="359" y2="17.224000000000004" stroke="#777" stroke-width="0.4"/>
<line x1="373.775" y1="68.2" x2="373.775" y2="69.7" stroke="#333" stroke-width="0.7"/>
<text x="373.775" y="72.8" font-size="2.8" text-anchor="middle" font-weight="normal" fill="#777">0</text>
<line x1="387.959" y1="68.2" x2="387.959" y2="69.7" stroke="#333" stroke-width="0.7"/>
<text x="387.959" y="72.8" font-size="2.8" text-anchor="middle" font-weight="normal" fill="#777">10<tspan font-size="1.8" dy="-0.8">3</tspan></text>
<line x1="400.961" y1="68.2" x2="400.961" y2="69.7" stroke="#333" stroke-width="0.7"/>
<text x="400.961" y="72.8" font-size="2.8" text-anchor="middle" font-weight="normal" fill="#777">10<tspan font-size="1.8" dy="-0.8">4</tspan></text>
<line x1="413.0765" y1="68.2" x2="413.0765" y2="69.7" stroke="#333" stroke-width="0.7"/>
<text x="413.0765" y="72.8" font-size="2.8" text-anchor="middle" font-weight="normal" fill="#777">10<tspan font-size="1.8" dy="-0.8">5</tspan></text>
<line x1="362.546" y1="68.2" x2="362.546" y2="69.2" stroke="#777" stroke-width="0.4"/>
<line x1="366.092" y1="68.2" x2="366.092" y2="69.2" stroke="#777" stroke-width="0.4"/>
<line x1="369.638" y1="68.2" x2="369.638" y2="69.2" stroke="#777" stroke-width="0.4"/>
<line x1="372.002" y1="68.2" x2="372.002" y2="69.2" stroke="#777" stroke-width="0.4"/>
<line x1="380.276" y1="68.2" x2="380.276" y2="69.2" stroke="#777" stroke-width="0.4"/>
<line x1="383.822" y1="68.2" x2="383.822" y2="69.2" stroke="#777" stroke-width="0.4"/>
<line x1="393.278" y1="68.2" x2="393.278" y2="69.2" stroke="#777" stroke-width="0.4"/>
<line x1="396.824" y1="68.2" x2="396.824" y2="69.2" stroke="#777" stroke-width="0.4"/>
<line x1="405.689" y1="68.2" x2="405.689" y2="69.2" stroke="#777" stroke-width="0.4"/>
<line x1="409.235" y1="68.2" x2="409.235" y2="69.2" stroke="#777" stroke-width="0.4"/>
<text x="387.3" y="82.1" font-size="6.8" text-anchor="middle" font-weight="normal" fill="#222">NKG2D</text>
<polygon points="457.02,68.20 459.50,13.09 461.99,68.20" fill="#dedede" stroke="#aaa" stroke-width="0.6"/>
<polyline points="440.80,67.10 441.00,66.90 442.00,66.72 442.99,66.27 443.99,66.51 444.98,66.72 445.98,66.00 446.97,66.31 447.98,65.89 448.98,66.93 449.99,66.58 450.99,65.52 452.00,65.97 453.00,65.40 454.01,63.38 455.01,64.13 456.02,63.17 457.02,61.41 458.01,60.73 459.01,61.85 460.00,60.32 460.99,58.99 461.99,57.87 463.01,56.06 464.04,55.81 465.07,53.72 466.10,53.13 467.13,50.22 468.21,47.15 469.28,41.88 470.36,40.25 471.44,36.07 472.68,35.35 473.92,33.22 475.16,27.91 476.41,15.31 477.71,13.21 479.01,12.54 480.01,25.21 481.02,37.79 482.02,48.83 483.02,58.42 484.50,68.20 485.41,68.20 486.33,68.20 487.24,68.20 488.15,68.20 489.06,68.20 489.98,68.20 490.89,68.20 491.80,68.20 492.71,68.20 493.63,68.20 494.54,68.20 495.45,68.20 496.36,68.20 497.28,68.20 498.19,68.20 499.10,68.20" fill="none" stroke="#000" stroke-width="0.8"/>
<polyline points="440.80,66.65 441.00,66.05 442.02,65.52 443.04,65.82 444.06,66.28 445.08,65.30 446.11,65.83 447.14,65.45 448.17,65.56 449.20,64.94 450.22,64.69 451.47,64.23 452.71,65.19 453.83,63.89 454.95,63.36 456.08,62.71 457.35,63.83 458.62,66.31 459.74,64.62 460.86,64.35 461.99,62.33 463.13,60.80 464.27,57.52 465.41,57.56 466.54,53.06 467.66,51.71 468.78,48.33 469.92,44.74 471.07,39.87 472.21,37.41 473.45,29.88 474.69,24.96 475.99,18.38 477.29,14.10 478.53,15.28 479.77,19.42 481.49,41.25 483.20,58.76 484.92,68.20 485.86,68.20 486.81,68.20 487.75,68.20 488.70,68.20 489.64,68.20 490.59,68.20 491.54,68.20 492.48,68.20 493.43,68.20 494.37,68.20 495.32,68.20 496.26,68.20 497.21,68.20 498.15,68.20 499.10,68.20" fill="none" stroke="#000" stroke-width="1.35"/>
<rect x="440.3" y="9.2" width="59.39999999999998" height="59.0" fill="none" stroke="#222" stroke-width="0.9"/>
<line x1="439.0" y1="68.2" x2="440.3" y2="68.2" stroke="#444" stroke-width="0.7"/>
<text x="438.5" y="69.2" font-size="2.6" text-anchor="end" font-weight="normal" fill="#777">0</text>
<line x1="439.0" y1="56.872" x2="440.3" y2="56.872" stroke="#444" stroke-width="0.7"/>
<text x="438.5" y="57.872" font-size="2.6" text-anchor="end" font-weight="normal" fill="#777">20</text>
<line x1="439.0" y1="45.544000000000004" x2="440.3" y2="45.544000000000004" stroke="#444" stroke-width="0.7"/>
<text x="438.5" y="46.544000000000004" font-size="2.6" text-anchor="end" font-weight="normal" fill="#777">40</text>
<line x1="439.0" y1="34.21600000000001" x2="440.3" y2="34.21600000000001" stroke="#444" stroke-width="0.7"/>
<text x="438.5" y="35.21600000000001" font-size="2.6" text-anchor="end" font-weight="normal" fill="#777">60</text>
<line x1="439.0" y1="22.888000000000005" x2="440.3" y2="22.888000000000005" stroke="#444" stroke-width="0.7"/>
<text x="438.5" y="23.888000000000005" font-size="2.6" text-anchor="end" font-weight="normal" fill="#777">80</text>
<line x1="439.0" y1="11.560000000000002" x2="440.3" y2="11.560000000000002" stroke="#444" stroke-width="0.7"/>
<text x="438.5" y="12.560000000000002" font-size="2.6" text-anchor="end" font-weight="normal" fill="#777">100</text>
<line x1="439.5" y1="62.536" x2="440.3" y2="62.536" stroke="#777" stroke-width="0.4"/>
<line x1="439.5" y1="51.208000000000006" x2="440.3" y2="51.208000000000006" stroke="#777" stroke-width="0.4"/>
<line x1="439.5" y1="39.88" x2="440.3" y2="39.88" stroke="#777" stroke-width="0.4"/>
<line x1="439.5" y1="28.552000000000007" x2="440.3" y2="28.552000000000007" stroke="#777" stroke-width="0.4"/>
<line x1="439.5" y1="17.224000000000004" x2="440.3" y2="17.224000000000004" stroke="#777" stroke-width="0.4"/>
<line x1="455.15" y1="68.2" x2="455.15" y2="69.7" stroke="#333" stroke-width="0.7"/>
<text x="455.15" y="72.8" font-size="2.8" text-anchor="middle" font-weight="normal" fill="#777">0</text>
<line x1="469.406" y1="68.2" x2="469.406" y2="69.7" stroke="#333" stroke-width="0.7"/>
<text x="469.406" y="72.8" font-size="2.8" text-anchor="middle" font-weight="normal" fill="#777">10<tspan font-size="1.8" dy="-0.8">3</tspan></text>
<line x1="482.474" y1="68.2" x2="482.474" y2="69.7" stroke="#333" stroke-width="0.7"/>
<text x="482.474" y="72.8" font-size="2.8" text-anchor="middle" font-weight="normal" fill="#777">10<tspan font-size="1.8" dy="-0.8">4</tspan></text>
<line x1="494.651" y1="68.2" x2="494.651" y2="69.7" stroke="#333" stroke-width="0.7"/>
<text x="494.651" y="72.8" font-size="2.8" text-anchor="middle" font-weight="normal" fill="#777">10<tspan font-size="1.8" dy="-0.8">5</tspan></text>
<line x1="443.86400000000003" y1="68.2" x2="443.86400000000003" y2="69.2" stroke="#777" stroke-width="0.4"/>
<line x1="447.428" y1="68.2" x2="447.428" y2="69.2" stroke="#777" stroke-width="0.4"/>
<line x1="450.992" y1="68.2" x2="450.992" y2="69.2" stroke="#777" stroke-width="0.4"/>
<line x1="453.368" y1="68.2" x2="453.368" y2="69.2" stroke="#777" stroke-width="0.4"/>
<line x1="461.684" y1="68.2" x2="461.684" y2="69.2" stroke="#777" stroke-width="0.4"/>
<line x1="465.248" y1="68.2" x2="465.248" y2="69.2" stroke="#777" stroke-width="0.4"/>
<line x1="474.752" y1="68.2" x2="474.752" y2="69.2" stroke="#777" stroke-width="0.4"/>
<line x1="478.316" y1="68.2" x2="478.316" y2="69.2" stroke="#777" stroke-width="0.4"/>
<line x1="487.226" y1="68.2" x2="487.226" y2="69.2" stroke="#777" stroke-width="0.4"/>
<line x1="490.78999999999996" y1="68.2" x2="490.78999999999996" y2="69.2" stroke="#777" stroke-width="0.4"/>
<text x="470.6" y="81.6" font-size="6.8" text-anchor="middle" font-weight="normal" fill="#222">NKp30</text>
<polyline points="24.60,256.30 25.01,256.30 25.92,256.30 26.84,256.30 27.75,256.30 28.66,256.30 29.57,256.30 30.48,256.30 31.39,256.30 32.31,256.30 33.22,256.30 34.13,256.30 35.04,256.30 35.95,256.30 36.87,256.30 37.78,256.30 38.69,256.30 39.60,256.30 40.51,256.30 41.42,256.30 42.34,256.30 43.25,256.30 44.16,256.30 45.07,256.30 45.98,256.30 46.90,256.30 47.81,256.30 48.72,256.30 49.63,256.30 50.54,256.30 51.45,256.30 52.37,256.30 53.28,256.30 54.19,256.30 55.10,256.30 56.01,256.30 56.78,255.70 57.92,253.51 59.07,251.50 60.21,249.87 61.45,244.53 62.69,240.58 63.93,232.53 65.17,225.62 66.45,219.13 67.72,212.02 69.43,199.12 70.38,212.28 71.32,222.14 72.50,247.09 73.74,256.30 74.69,256.30 75.64,256.30 76.58,256.30 77.53,256.30 78.47,256.30 79.42,256.30 80.36,256.30 81.31,256.30 82.25,256.30 83.20,256.30" fill="none" stroke="#000" stroke-width="0.8"/>
<polyline points="24.60,256.30 25.01,256.30 25.93,256.30 26.84,256.30 27.75,256.30 28.67,256.30 29.58,256.30 30.49,256.30 31.41,256.30 32.32,256.30 33.23,256.30 34.15,256.30 35.06,256.30 35.97,256.30 36.89,256.30 37.80,256.30 38.71,256.30 39.63,256.30 40.54,256.30 41.45,256.30 42.37,256.30 43.28,256.30 44.19,256.30 45.11,256.30 46.02,256.30 46.93,256.30 47.85,256.30 48.76,256.30 49.67,256.30 50.59,256.30 51.50,256.30 52.41,256.30 53.33,256.30 54.24,256.30 55.13,255.70 56.78,247.67 58.05,245.32 59.32,244.05 60.62,237.46 61.92,232.93 63.17,226.38 64.41,219.11 66.12,212.55 67.72,203.70 69.02,199.13 70.17,210.65 71.32,220.93 72.50,246.04 73.74,256.30 74.69,256.30 75.64,256.30 76.58,256.30 77.53,256.30 78.47,256.30 79.42,256.30 80.36,256.30 81.31,256.30 82.25,256.30 83.20,256.30" fill="none" stroke="#000" stroke-width="1.35"/>
<rect x="24.1" y="196.5" width="59.99999999999999" height="59.80000000000001" fill="none" stroke="#222" stroke-width="0.9"/>
<line x1="22.8" y1="256.3" x2="24.1" y2="256.3" stroke="#444" stroke-width="0.7"/>
<text x="22.3" y="257.3" font-size="2.6" text-anchor="end" font-weight="normal" fill="#777">0</text>
<line x1="22.8" y1="244.8184" x2="24.1" y2="244.8184" stroke="#444" stroke-width="0.7"/>
<text x="22.3" y="245.8184" font-size="2.6" text-anchor="end" font-weight="normal" fill="#777">20</text>
<line x1="22.8" y1="233.3368" x2="24.1" y2="233.3368" stroke="#444" stroke-width="0.7"/>
<text x="22.3" y="234.3368" font-size="2.6" text-anchor="end" font-weight="normal" fill="#777">40</text>
<line x1="22.8" y1="221.85520000000002" x2="24.1" y2="221.85520000000002" stroke="#444" stroke-width="0.7"/>
<text x="22.3" y="222.85520000000002" font-size="2.6" text-anchor="end" font-weight="normal" fill="#777">60</text>
<line x1="22.8" y1="210.3736" x2="24.1" y2="210.3736" stroke="#444" stroke-width="0.7"/>
<text x="22.3" y="211.3736" font-size="2.6" text-anchor="end" font-weight="normal" fill="#777">80</text>
<line x1="22.8" y1="198.892" x2="24.1" y2="198.892" stroke="#444" stroke-width="0.7"/>
<text x="22.3" y="199.892" font-size="2.6" text-anchor="end" font-weight="normal" fill="#777">100</text>
<line x1="23.3" y1="250.5592" x2="24.1" y2="250.5592" stroke="#777" stroke-width="0.4"/>
<line x1="23.3" y1="239.07760000000002" x2="24.1" y2="239.07760000000002" stroke="#777" stroke-width="0.4"/>
<line x1="23.3" y1="227.596" x2="24.1" y2="227.596" stroke="#777" stroke-width="0.4"/>
<line x1="23.3" y1="216.1144" x2="24.1" y2="216.1144" stroke="#777" stroke-width="0.4"/>
<line x1="23.3" y1="204.6328" x2="24.1" y2="204.6328" stroke="#777" stroke-width="0.4"/>
<line x1="37.72" y1="256.3" x2="37.72" y2="257.8" stroke="#333" stroke-width="0.7"/>
<text x="37.72" y="260.90000000000003" font-size="2.8" text-anchor="middle" font-weight="normal" fill="#777">-10<tspan font-size="1.8" dy="-0.8">2</tspan></text>
<line x1="43.78" y1="256.3" x2="43.78" y2="257.8" stroke="#333" stroke-width="0.7"/>
<text x="43.78" y="260.90000000000003" font-size="2.8" text-anchor="middle" font-weight="normal" fill="#777">10<tspan font-size="1.8" dy="-0.8">2</tspan></text>
<line x1="56.2" y1="256.3" x2="56.2" y2="257.8" stroke="#333" stroke-width="0.7"/>
<text x="56.2" y="260.90000000000003" font-size="2.8" text-anchor="middle" font-weight="normal" fill="#777">10<tspan font-size="1.8" dy="-0.8">3</tspan></text>
<line x1="67.06" y1="256.3" x2="67.06" y2="257.8" stroke="#333" stroke-width="0.7"/>
<text x="67.06" y="260.90000000000003" font-size="2.8" text-anchor="middle" font-weight="normal" fill="#777">10<tspan font-size="1.8" dy="-0.8">4</tspan></text>
<line x1="78.69999999999999" y1="256.3" x2="78.69999999999999" y2="257.8" stroke="#333" stroke-width="0.7"/>
<text x="78.69999999999999" y="260.90000000000003" font-size="2.8" text-anchor="middle" font-weight="normal" fill="#777">10<tspan font-size="1.8" dy="-0.8">5</tspan></text>
<line x1="27.700000000000003" y1="256.3" x2="27.700000000000003" y2="257.3" stroke="#777" stroke-width="0.4"/>
<line x1="31.3" y1="256.3" x2="31.3" y2="257.3" stroke="#777" stroke-width="0.4"/>
<line x1="34.9" y1="256.3" x2="34.9" y2="257.3" stroke="#777" stroke-width="0.4"/>
<line x1="37.3" y1="256.3" x2="37.3" y2="257.3" stroke="#777" stroke-width="0.4"/>
<line x1="45.7" y1="256.3" x2="45.7" y2="257.3" stroke="#777" stroke-width="0.4"/>
<line x1="49.3" y1="256.3" x2="49.3" y2="257.3" stroke="#777" stroke-width="0.4"/>
<line x1="58.89999999999999" y1="256.3" x2="58.89999999999999" y2="257.3" stroke="#777" stroke-width="0.4"/>
<line x1="62.5" y1="256.3" x2="62.5" y2="257.3" stroke="#777" stroke-width="0.4"/>
<line x1="71.5" y1="256.3" x2="71.5" y2="257.3" stroke="#777" stroke-width="0.4"/>
<line x1="75.1" y1="256.3" x2="75.1" y2="257.3" stroke="#777" stroke-width="0.4"/>
<polyline points="104.10,256.60 104.51,256.60 105.42,256.60 106.33,256.60 107.24,256.60 108.15,256.60 109.06,256.60 109.98,256.60 110.89,256.60 111.80,256.60 112.71,256.60 113.62,256.60 114.53,256.60 115.44,256.60 116.35,256.60 117.26,256.60 118.17,256.60 119.08,256.60 119.99,256.60 120.91,256.60 121.82,256.60 122.73,256.60 123.64,256.60 124.55,256.60 125.46,256.60 126.37,256.60 127.28,256.60 128.19,256.60 129.10,256.60 130.01,256.60 130.92,256.60 131.87,256.00 132.96,254.48 134.04,253.14 135.13,251.86 136.21,249.47 137.34,249.02 138.47,246.17 139.60,243.62 140.72,240.22 141.85,234.19 142.98,228.25 144.23,223.55 145.48,216.57 147.20,203.46 147.97,204.41 149.69,222.78 151.12,246.15 152.31,256.60 153.28,256.60 154.25,256.60 155.22,256.60 156.20,256.60 157.17,256.60 158.14,256.60 159.11,256.60 160.08,256.60 161.06,256.60 162.03,256.60 163.00,256.60" fill="none" stroke="#000" stroke-width="0.8"/>
<polyline points="104.10,256.60 104.51,256.60 105.42,256.60 106.34,256.60 107.25,256.60 108.16,256.60 109.07,256.60 109.99,256.60 110.90,256.60 111.81,256.60 112.72,256.60 113.63,256.60 114.55,256.60 115.46,256.60 116.37,256.60 117.28,256.60 118.20,256.60 119.11,256.60 120.02,256.60 120.93,256.60 121.84,256.60 122.76,256.60 123.67,256.60 124.58,256.60 125.49,256.60 126.41,256.60 127.32,256.60 128.23,256.60 129.14,256.60 130.21,256.00 131.52,254.42 132.82,250.90 134.07,250.71 135.32,248.88 136.60,244.22 137.87,241.27 139.60,235.96 140.84,231.41 142.09,229.91 143.81,224.48 145.48,209.96 147.20,203.38 148.45,212.29 149.69,223.40 151.12,246.30 152.31,256.60 153.28,256.60 154.25,256.60 155.22,256.60 156.20,256.60 157.17,256.60 158.14,256.60 159.11,256.60 160.08,256.60 161.06,256.60 162.03,256.60 163.00,256.60" fill="none" stroke="#000" stroke-width="1.35"/>
<rect x="103.6" y="196.6" width="60.0" height="60.00000000000003" fill="none" stroke="#222" stroke-width="0.9"/>
<line x1="102.3" y1="256.6" x2="103.6" y2="256.6" stroke="#444" stroke-width="0.7"/>
<text x="101.8" y="257.6" font-size="2.6" text-anchor="end" font-weight="normal" fill="#777">0</text>
<line x1="102.3" y1="245.08" x2="103.6" y2="245.08" stroke="#444" stroke-width="0.7"/>
<text x="101.8" y="246.08" font-size="2.6" text-anchor="end" font-weight="normal" fill="#777">20</text>
<line x1="102.3" y1="233.56" x2="103.6" y2="233.56" stroke="#444" stroke-width="0.7"/>
<text x="101.8" y="234.56" font-size="2.6" text-anchor="end" font-weight="normal" fill="#777">40</text>
<line x1="102.3" y1="222.04000000000002" x2="103.6" y2="222.04000000000002" stroke="#444" stroke-width="0.7"/>
<text x="101.8" y="223.04000000000002" font-size="2.6" text-anchor="end" font-weight="normal" fill="#777">60</text>
<line x1="102.3" y1="210.51999999999998" x2="103.6" y2="210.51999999999998" stroke="#444" stroke-width="0.7"/>
<text x="101.8" y="211.51999999999998" font-size="2.6" text-anchor="end" font-weight="normal" fill="#777">80</text>
<line x1="102.3" y1="199.0" x2="103.6" y2="199.0" stroke="#444" stroke-width="0.7"/>
<text x="101.8" y="200.0" font-size="2.6" text-anchor="end" font-weight="normal" fill="#777">100</text>
<line x1="102.8" y1="250.84000000000003" x2="103.6" y2="250.84000000000003" stroke="#777" stroke-width="0.4"/>
<line x1="102.8" y1="239.32000000000002" x2="103.6" y2="239.32000000000002" stroke="#777" stroke-width="0.4"/>
<line x1="102.8" y1="227.8" x2="103.6" y2="227.8" stroke="#777" stroke-width="0.4"/>
<line x1="102.8" y1="216.28" x2="103.6" y2="216.28" stroke="#777" stroke-width="0.4"/>
<line x1="102.8" y1="204.76" x2="103.6" y2="204.76" stroke="#777" stroke-width="0.4"/>
<line x1="116.8" y1="256.6" x2="116.8" y2="258.1" stroke="#333" stroke-width="0.7"/>
<text x="116.8" y="261.20000000000005" font-size="2.8" text-anchor="middle" font-weight="normal" fill="#777">0</text>
<line x1="133.6" y1="256.6" x2="133.6" y2="258.1" stroke="#333" stroke-width="0.7"/>
<text x="133.6" y="261.20000000000005" font-size="2.8" text-anchor="middle" font-weight="normal" fill="#777">10<tspan font-size="1.8" dy="-0.8">3</tspan></text>
<line x1="146.79999999999998" y1="256.6" x2="146.79999999999998" y2="258.1" stroke="#333" stroke-width="0.7"/>
<text x="146.79999999999998" y="261.20000000000005" font-size="2.8" text-anchor="middle" font-weight="normal" fill="#777">10<tspan font-size="1.8" dy="-0.8">4</tspan></text>
<line x1="159.7" y1="256.6" x2="159.7" y2="258.1" stroke="#333" stroke-width="0.7"/>
<text x="159.7" y="261.20000000000005" font-size="2.8" text-anchor="middle" font-weight="normal" fill="#777">10<tspan font-size="1.8" dy="-0.8">5</tspan></text>
<line x1="107.19999999999999" y1="256.6" x2="107.19999999999999" y2="257.6" stroke="#777" stroke-width="0.4"/>
<line x1="110.8" y1="256.6" x2="110.8" y2="257.6" stroke="#777" stroke-width="0.4"/>
<line x1="114.39999999999999" y1="256.6" x2="114.39999999999999" y2="257.6" stroke="#777" stroke-width="0.4"/>
<line x1="116.8" y1="256.6" x2="116.8" y2="257.6" stroke="#777" stroke-width="0.4"/>
<line x1="125.19999999999999" y1="256.6" x2="125.19999999999999" y2="257.6" stroke="#777" stroke-width="0.4"/>
<line x1="128.79999999999998" y1="256.6" x2="128.79999999999998" y2="257.6" stroke="#777" stroke-width="0.4"/>
<line x1="138.39999999999998" y1="256.6" x2="138.39999999999998" y2="257.6" stroke="#777" stroke-width="0.4"/>
<line x1="142.0" y1="256.6" x2="142.0" y2="257.6" stroke="#777" stroke-width="0.4"/>
<line x1="151.0" y1="256.6" x2="151.0" y2="257.6" stroke="#777" stroke-width="0.4"/>
<line x1="154.6" y1="256.6" x2="154.6" y2="257.6" stroke="#777" stroke-width="0.4"/>
<text x="93.6" y="268.7" font-size="7.1" text-anchor="middle" font-weight="normal" fill="#222">CD16</text>
<polygon points="214.51,256.70 217.03,226.65 219.09,200.21 222.18,222.44 224.01,244.68 226.58,253.69 230.01,255.50 232.13,256.70" fill="#dedede" stroke="#aaa" stroke-width="0.6"/>
<polyline points="204.80,256.70 205.10,256.70 206.10,256.70 207.10,256.70 208.10,256.70 209.10,256.70 210.11,256.70 211.11,256.70 212.11,256.70 212.79,256.10 213.87,253.97 214.94,248.76 216.01,246.02 217.08,244.81 218.23,237.10 219.37,232.68 220.52,225.35 221.72,221.75 223.09,227.70 224.81,219.19 226.58,213.70 228.30,209.90 229.61,207.51 230.93,207.25 232.05,207.14 233.18,209.18 234.30,207.12 235.46,205.61 236.63,203.46 237.79,203.37 239.05,207.62 240.31,210.47 242.08,228.41 243.80,246.12 245.46,256.70 246.39,256.70 247.32,256.70 248.25,256.70 249.18,256.70 250.12,256.70 251.05,256.70 251.98,256.70 252.91,256.70 253.84,256.70 254.78,256.70 255.71,256.70 256.64,256.70 257.57,256.70 258.50,256.70 259.44,256.70 260.37,256.70 261.30,256.70" fill="none" stroke="#000" stroke-width="0.8"/>
<polyline points="204.80,256.70 205.05,256.70 206.01,256.70 206.96,256.70 207.91,256.70 208.87,256.70 209.82,256.70 210.77,256.70 211.73,256.70 212.68,256.70 213.60,256.10 214.67,254.14 215.74,253.71 216.81,251.66 217.89,250.48 219.20,249.21 220.52,245.67 221.68,246.86 222.84,248.15 224.01,246.44 225.13,245.20 226.26,243.52 227.38,243.85 228.70,242.03 230.01,240.80 231.73,227.40 232.59,207.18 233.27,199.16 233.84,204.92 235.27,207.28 236.13,211.81 237.16,198.45 237.85,203.79 238.71,201.70 240.31,204.77 241.22,219.69 242.08,252.02 242.48,256.70 243.42,256.70 244.36,256.70 245.30,256.70 246.24,256.70 247.19,256.70 248.13,256.70 249.07,256.70 250.01,256.70 250.95,256.70 251.89,256.70 252.83,256.70 253.77,256.70 254.71,256.70 255.65,256.70 256.60,256.70 257.54,256.70 258.48,256.70 259.42,256.70 260.36,256.70 261.30,256.70" fill="none" stroke="#000" stroke-width="1.35"/>
<rect x="204.3" y="196.6" width="59.599999999999966" height="60.099999999999994" fill="none" stroke="#222" stroke-width="0.9"/>
<line x1="203.0" y1="256.7" x2="204.3" y2="256.7" stroke="#444" stroke-width="0.7"/>
<text x="202.5" y="257.7" font-size="2.6" text-anchor="end" font-weight="normal" fill="#777">0</text>
<line x1="203.0" y1="245.1608" x2="204.3" y2="245.1608" stroke="#444" stroke-width="0.7"/>
<text x="202.5" y="246.1608" font-size="2.6" text-anchor="end" font-weight="normal" fill="#777">20</text>
<line x1="203.0" y1="233.6216" x2="204.3" y2="233.6216" stroke="#444" stroke-width="0.7"/>
<text x="202.5" y="234.6216" font-size="2.6" text-anchor="end" font-weight="normal" fill="#777">40</text>
<line x1="203.0" y1="222.0824" x2="204.3" y2="222.0824" stroke="#444" stroke-width="0.7"/>
<text x="202.5" y="223.0824" font-size="2.6" text-anchor="end" font-weight="normal" fill="#777">60</text>
<line x1="203.0" y1="210.54319999999998" x2="204.3" y2="210.54319999999998" stroke="#444" stroke-width="0.7"/>
<text x="202.5" y="211.54319999999998" font-size="2.6" text-anchor="end" font-weight="normal" fill="#777">80</text>
<line x1="203.0" y1="199.004" x2="204.3" y2="199.004" stroke="#444" stroke-width="0.7"/>
<text x="202.5" y="200.004" font-size="2.6" text-anchor="end" font-weight="normal" fill="#777">100</text>
<line x1="203.5" y1="250.9304" x2="204.3" y2="250.9304" stroke="#777" stroke-width="0.4"/>
<line x1="203.5" y1="239.3912" x2="204.3" y2="239.3912" stroke="#777" stroke-width="0.4"/>
<line x1="203.5" y1="227.852" x2="204.3" y2="227.852" stroke="#777" stroke-width="0.4"/>
<line x1="203.5" y1="216.31279999999998" x2="204.3" y2="216.31279999999998" stroke="#777" stroke-width="0.4"/>
<line x1="203.5" y1="204.7736" x2="204.3" y2="204.7736" stroke="#777" stroke-width="0.4"/>
<line x1="217.71" y1="256.7" x2="217.71" y2="258.2" stroke="#333" stroke-width="0.7"/>
<text x="217.71" y="261.3" font-size="2.8" text-anchor="middle" font-weight="normal" fill="#777">0</text>
<line x1="234.2788" y1="256.7" x2="234.2788" y2="258.2" stroke="#333" stroke-width="0.7"/>
<text x="234.2788" y="261.3" font-size="2.8" text-anchor="middle" font-weight="normal" fill="#777">10<tspan font-size="1.8" dy="-0.8">3</tspan></text>
<line x1="246.61599999999999" y1="256.7" x2="246.61599999999999" y2="258.2" stroke="#333" stroke-width="0.7"/>
<text x="246.61599999999999" y="261.3" font-size="2.8" text-anchor="middle" font-weight="normal" fill="#777">10<tspan font-size="1.8" dy="-0.8">4</tspan></text>
<line x1="259.132" y1="256.7" x2="259.132" y2="258.2" stroke="#333" stroke-width="0.7"/>
<text x="259.132" y="261.3" font-size="2.8" text-anchor="middle" font-weight="normal" fill="#777">10<tspan font-size="1.8" dy="-0.8">5</tspan></text>
<line x1="207.876" y1="256.7" x2="207.876" y2="257.7" stroke="#777" stroke-width="0.4"/>
<line x1="211.452" y1="256.7" x2="211.452" y2="257.7" stroke="#777" stroke-width="0.4"/>
<line x1="215.028" y1="256.7" x2="215.028" y2="257.7" stroke="#777" stroke-width="0.4"/>
<line x1="217.412" y1="256.7" x2="217.412" y2="257.7" stroke="#777" stroke-width="0.4"/>
<line x1="225.756" y1="256.7" x2="225.756" y2="257.7" stroke="#777" stroke-width="0.4"/>
<line x1="229.332" y1="256.7" x2="229.332" y2="257.7" stroke="#777" stroke-width="0.4"/>
<line x1="238.868" y1="256.7" x2="238.868" y2="257.7" stroke="#777" stroke-width="0.4"/>
<line x1="242.444" y1="256.7" x2="242.444" y2="257.7" stroke="#777" stroke-width="0.4"/>
<line x1="251.384" y1="256.7" x2="251.384" y2="257.7" stroke="#777" stroke-width="0.4"/>
<line x1="254.95999999999998" y1="256.7" x2="254.95999999999998" y2="257.7" stroke="#777" stroke-width="0.4"/>
<text x="232.5" y="268.8" font-size="6.7" text-anchor="middle" font-weight="normal" fill="#222">KLRG1</text>
<line x1="227.5" y1="237.6" x2="259.9" y2="237.6" stroke="#000" stroke-width="1.4"/>
<g fill="none" stroke="#666" stroke-width="0.75"><circle cx="247.80" cy="231.10" r="0.95"/><circle cx="250.80" cy="233.70" r="0.95"/><line x1="250.90" y1="229.90" x2="247.70" y2="234.90"/></g>
<polyline points="118.9,85.4 118.9,167.2 240,167.2" fill="none" stroke="#000" stroke-width="1.7"/>
<line x1="115.9" y1="86.1" x2="118.9" y2="86.1" stroke="#000" stroke-width="1.1"/>
<text x="115.7" y="88.332" font-size="6.2" text-anchor="end" font-weight="normal" fill="#1a1a1a">40</text>
<line x1="115.9" y1="106.6" x2="118.9" y2="106.6" stroke="#000" stroke-width="1.1"/>
<text x="115.7" y="108.832" font-size="6.2" text-anchor="end" font-weight="normal" fill="#1a1a1a">30</text>
<line x1="115.9" y1="127" x2="118.9" y2="127" stroke="#000" stroke-width="1.1"/>
<text x="115.7" y="129.232" font-size="6.2" text-anchor="end" font-weight="normal" fill="#1a1a1a">20</text>
<line x1="115.9" y1="147" x2="118.9" y2="147" stroke="#000" stroke-width="1.1"/>
<text x="115.7" y="149.232" font-size="6.2" text-anchor="end" font-weight="normal" fill="#1a1a1a">10</text>
<line x1="115.9" y1="167.2" x2="118.9" y2="167.2" stroke="#000" stroke-width="1.1"/>
<text x="115.7" y="169.432" font-size="6.2" text-anchor="end" font-weight="normal" fill="#1a1a1a">0</text>
<line x1="133.9" y1="167.2" x2="133.9" y2="170.5" stroke="#000" stroke-width="1.4"/>
<line x1="164.3" y1="167.2" x2="164.3" y2="170.5" stroke="#000" stroke-width="1.4"/>
<line x1="194.8" y1="167.2" x2="194.8" y2="170.5" stroke="#000" stroke-width="1.4"/>
<line x1="224.7" y1="167.2" x2="224.7" y2="170.5" stroke="#000" stroke-width="1.4"/>
<text x="138.1" y="182.5" font-size="7.6" fill="#1a1a1a">CD62L</text>
<text x="200.2" y="182.5" font-size="7.6" fill="#1a1a1a">CD27</text>
<text x="104.3" y="127.9" font-size="6.7" text-anchor="middle" font-weight="bold" fill="#111" transform="rotate(-90 104.3 127.9)">% of positive cells</text>
<circle cx="142.2" cy="97.7" r="1.1" fill="#111"/><circle cx="145.2" cy="97.7" r="1.1" fill="#111"/><circle cx="148.1" cy="97.7" r="1.1" fill="#111"/>
<circle cx="203.2" cy="108.6" r="1.1" fill="#111"/><circle cx="206.1" cy="108.6" r="1.1" fill="#111"/><circle cx="208.9" cy="108.6" r="1.1" fill="#111"/>
<circle cx="134.1" cy="141.1" r="1.6" fill="#000"/><circle cx="129.3" cy="145.3" r="1.6" fill="#000"/><circle cx="134.1" cy="146.9" r="1.6" fill="#000"/><circle cx="138.8" cy="144.3" r="1.6" fill="#000"/><circle cx="138.8" cy="151" r="1.6" fill="#000"/><circle cx="129" cy="157" r="1.6" fill="#000"/><circle cx="128.2" cy="159.6" r="1.6" fill="#000"/><circle cx="129.8" cy="159.6" r="1.6" fill="#000"/><circle cx="127.4" cy="162.2" r="1.6" fill="#000"/><circle cx="129.4" cy="162.2" r="1.6" fill="#000"/><circle cx="126.4" cy="164.6" r="1.6" fill="#000"/><circle cx="128.4" cy="164.6" r="1.6" fill="#000"/><circle cx="130.2" cy="164.8" r="1.6" fill="#000"/><circle cx="134.1" cy="154.5" r="1.6" fill="#000"/><circle cx="133.5" cy="157.2" r="1.6" fill="#000"/><circle cx="134.7" cy="157.2" r="1.6" fill="#000"/><circle cx="133" cy="159.8" r="1.6" fill="#000"/><circle cx="135.2" cy="159.8" r="1.6" fill="#000"/><circle cx="132.6" cy="162.2" r="1.6" fill="#000"/><circle cx="134.1" cy="162.2" r="1.6" fill="#000"/><circle cx="135.6" cy="162.2" r="1.6" fill="#000"/><circle cx="132.2" cy="164.8" r="1.6" fill="#000"/><circle cx="134.1" cy="164.8" r="1.6" fill="#000"/><circle cx="136" cy="164.8" r="1.6" fill="#000"/><circle cx="138.9" cy="159" r="1.6" fill="#000"/><circle cx="138.4" cy="161.6" r="1.6" fill="#000"/><circle cx="139.8" cy="161.6" r="1.6" fill="#000"/><circle cx="137.9" cy="164.2" r="1.6" fill="#000"/><circle cx="139.8" cy="164.2" r="1.6" fill="#000"/><circle cx="141.6" cy="164.6" r="1.6" fill="#000"/><circle cx="142.6" cy="165.6" r="1.6" fill="#000"/><circle cx="125.8" cy="165.7" r="1.6" fill="#000"/>
<path d="M164.6 107.75L166.25 109.4L164.6 111.05000000000001L162.95 109.4Z" fill="#fff" stroke="#000" stroke-width="1.5"/><path d="M159.2 116.64999999999999L160.85 118.3L159.2 119.95L157.54999999999998 118.3Z" fill="#fff" stroke="#000" stroke-width="1.5"/><path d="M164.6 119.35L166.25 121L164.6 122.65L162.95 121Z" fill="#fff" stroke="#000" stroke-width="1.5"/><path d="M164.6 125.05L166.25 126.7L164.6 128.35L162.95 126.7Z" fill="#fff" stroke="#000" stroke-width="1.5"/><path d="M164.6 130.85L166.25 132.5L164.6 134.15L162.95 132.5Z" fill="#fff" stroke="#000" stroke-width="1.5"/><path d="M169.2 135.35L170.85 137L169.2 138.65L167.54999999999998 137Z" fill="#fff" stroke="#000" stroke-width="1.5"/><path d="M164.6 138.54999999999998L166.25 140.2L164.6 141.85L162.95 140.2Z" fill="#fff" stroke="#000" stroke-width="1.5"/><path d="M169.2 139.75L170.85 141.4L169.2 143.05L167.54999999999998 141.4Z" fill="#fff" stroke="#000" stroke-width="1.5"/><path d="M159.2 143.35L160.85 145L159.2 146.65L157.54999999999998 145Z" fill="#fff" stroke="#000" stroke-width="1.5"/><path d="M163.9 143.35L165.55 145L163.9 146.65L162.25 145Z" fill="#fff" stroke="#000" stroke-width="1.5"/><path d="M169.2 149.15L170.85 150.8L169.2 152.45000000000002L167.54999999999998 150.8Z" fill="#fff" stroke="#000" stroke-width="1.5"/><path d="M164.6 150.45L166.25 152.1L164.6 153.75L162.95 152.1Z" fill="#fff" stroke="#000" stroke-width="1.5"/><path d="M159.5 153.35L161.15 155L159.5 156.65L157.85 155Z" fill="#fff" stroke="#000" stroke-width="1.5"/><path d="M162 154.35L163.65 156L162 157.65L160.35 156Z" fill="#fff" stroke="#000" stroke-width="1.5"/><path d="M165 153.85L166.65 155.5L165 157.15L163.35 155.5Z" fill="#fff" stroke="#000" stroke-width="1.5"/><path d="M168.5 154.85L170.15 156.5L168.5 158.15L166.85 156.5Z" fill="#fff" stroke="#000" stroke-width="1.5"/><path d="M160 156.85L161.65 158.5L160 160.15L158.35 158.5Z" fill="#fff" stroke="#000" stroke-width="1.5"/><path d="M164 157.35L165.65 159L164 160.65L162.35 159Z" fill="#fff" stroke="#000" stroke-width="1.5"/><path d="M167.5 157.35L169.15 159L167.5 160.65L165.85 159Z" fill="#fff" stroke="#000" stroke-width="1.5"/><path d="M161.5 159.85L163.15 161.5L161.5 163.15L159.85 161.5Z" fill="#fff" stroke="#000" stroke-width="1.5"/><path d="M166 159.35L167.65 161L166 162.65L164.35 161Z" fill="#fff" stroke="#000" stroke-width="1.5"/><path d="M159.2 163.75L160.85 165.4L159.2 167.05L157.54999999999998 165.4Z" fill="#fff" stroke="#000" stroke-width="1.5"/><path d="M164.3 163.75L165.95000000000002 165.4L164.3 167.05L162.65 165.4Z" fill="#fff" stroke="#000" stroke-width="1.5"/><path d="M169.2 163.75L170.85 165.4L169.2 167.05L167.54999999999998 165.4Z" fill="#fff" stroke="#000" stroke-width="1.5"/>
<circle cx="189.6" cy="157.4" r="1.6" fill="#000"/><circle cx="194.8" cy="161.6" r="1.6" fill="#000"/><circle cx="189.6" cy="163.6" r="1.6" fill="#000"/><circle cx="199.3" cy="164.6" r="1.6" fill="#000"/><circle cx="186" cy="165.5" r="1.6" fill="#000"/><circle cx="188" cy="166" r="1.6" fill="#000"/><circle cx="192" cy="165.5" r="1.6" fill="#000"/><circle cx="196.5" cy="165.8" r="1.6" fill="#000"/><circle cx="201.5" cy="165.8" r="1.6" fill="#000"/><circle cx="203.5" cy="166" r="1.6" fill="#000"/><circle cx="191" cy="164" r="1.6" fill="#000"/><circle cx="197" cy="163.5" r="1.6" fill="#000"/>
<path d="M225 137.45L226.65 139.1L225 140.75L223.35 139.1Z" fill="#fff" stroke="#000" stroke-width="1.5"/><path d="M229.5 136.25L231.15 137.9L229.5 139.55L227.85 137.9Z" fill="#fff" stroke="#000" stroke-width="1.5"/><path d="M229.5 138.75L231.15 140.4L229.5 142.05L227.85 140.4Z" fill="#fff" stroke="#000" stroke-width="1.5"/><path d="M219.8 141.95L221.45000000000002 143.6L219.8 145.25L218.15 143.6Z" fill="#fff" stroke="#000" stroke-width="1.5"/><path d="M225 143.25L226.65 144.9L225 146.55L223.35 144.9Z" fill="#fff" stroke="#000" stroke-width="1.5"/><path d="M219.8 148.04999999999998L221.45000000000002 149.7L219.8 151.35L218.15 149.7Z" fill="#fff" stroke="#000" stroke-width="1.5"/><path d="M225 150.35L226.65 152L225 153.65L223.35 152Z" fill="#fff" stroke="#000" stroke-width="1.5"/><path d="M229.5 149.65L231.15 151.3L229.5 152.95000000000002L227.85 151.3Z" fill="#fff" stroke="#000" stroke-width="1.5"/><path d="M232 151.85L233.65 153.5L232 155.15L230.35 153.5Z" fill="#fff" stroke="#000" stroke-width="1.5"/><path d="M217.5 153.35L219.15 155L217.5 156.65L215.85 155Z" fill="#fff" stroke="#000" stroke-width="1.5"/><path d="M221.5 153.85L223.15 155.5L221.5 157.15L219.85 155.5Z" fill="#fff" stroke="#000" stroke-width="1.5"/><path d="M225.5 153.15L227.15 154.8L225.5 156.45000000000002L223.85 154.8Z" fill="#fff" stroke="#000" stroke-width="1.5"/><path d="M229 153.15L230.65 154.8L229 156.45000000000002L227.35 154.8Z" fill="#fff" stroke="#000" stroke-width="1.5"/><path d="M233 153.35L234.65 155L233 156.65L231.35 155Z" fill="#fff" stroke="#000" stroke-width="1.5"/><path d="M221.5 157.35L223.15 159L221.5 160.65L219.85 159Z" fill="#fff" stroke="#000" stroke-width="1.5"/><path d="M225.5 157.35L227.15 159L225.5 160.65L223.85 159Z" fill="#fff" stroke="#000" stroke-width="1.5"/><path d="M229 157.85L230.65 159.5L229 161.15L227.35 159.5Z" fill="#fff" stroke="#000" stroke-width="1.5"/><path d="M219.8 161.25L221.45000000000002 162.9L219.8 164.55L218.15 162.9Z" fill="#fff" stroke="#000" stroke-width="1.5"/><path d="M225 162.54999999999998L226.65 164.2L225 165.85L223.35 164.2Z" fill="#fff" stroke="#000" stroke-width="1.5"/><path d="M229.5 162.54999999999998L231.15 164.2L229.5 165.85L227.85 164.2Z" fill="#fff" stroke="#000" stroke-width="1.5"/>
<line x1="123.5" y1="159" x2="144.7" y2="159" stroke="#000" stroke-width="1.5"/>
<line x1="153.9" y1="147.1" x2="174.5" y2="147.1" stroke="#000" stroke-width="1.5"/>
<line x1="184.5" y1="165.9" x2="204.4" y2="165.9" stroke="#000" stroke-width="1.5"/>
<line x1="215" y1="153.9" x2="235.3" y2="153.9" stroke="#000" stroke-width="1.5"/>
<polyline points="283.1,91.3 283.1,167.7 397,167.7" fill="none" stroke="#000" stroke-width="1.7"/>
<line x1="280.1" y1="91.8" x2="283.1" y2="91.8" stroke="#000" stroke-width="1.1"/>
<text x="279.90000000000003" y="93.672" font-size="5.2" text-anchor="end" font-weight="normal" fill="#1a1a1a">1500</text>
<line x1="280.1" y1="117.2" x2="283.1" y2="117.2" stroke="#000" stroke-width="1.1"/>
<text x="279.90000000000003" y="119.072" font-size="5.2" text-anchor="end" font-weight="normal" fill="#1a1a1a">1000</text>
<line x1="280.1" y1="142.8" x2="283.1" y2="142.8" stroke="#000" stroke-width="1.1"/>
<text x="279.90000000000003" y="144.67200000000003" font-size="5.2" text-anchor="end" font-weight="normal" fill="#1a1a1a">500</text>
<line x1="280.1" y1="168" x2="283.1" y2="168" stroke="#000" stroke-width="1.1"/>
<text x="279.90000000000003" y="169.872" font-size="5.2" text-anchor="end" font-weight="normal" fill="#1a1a1a">0</text>
<line x1="297.7" y1="167.7" x2="297.7" y2="171.0" stroke="#000" stroke-width="1.4"/>
<line x1="325.6" y1="167.7" x2="325.6" y2="171.0" stroke="#000" stroke-width="1.4"/>
<line x1="354.4" y1="167.7" x2="354.4" y2="171.0" stroke="#000" stroke-width="1.4"/>
<line x1="383.3" y1="167.7" x2="383.3" y2="171.0" stroke="#000" stroke-width="1.4"/>
<text x="300" y="179" font-size="7.3" fill="#1a1a1a">NKp46</text>
<text x="356.3" y="179" font-size="7.3" fill="#1a1a1a">NKG2D</text>
<text x="265" y="129.8" font-size="6.5" text-anchor="middle" font-weight="normal" fill="#111" transform="rotate(-90 265 129.8)">Geom. MFI</text>
<circle cx="305.2" cy="96.7" r="1.1" fill="#111"/><circle cx="307.8" cy="96.7" r="1.1" fill="#111"/><circle cx="310.5" cy="96.7" r="1.1" fill="#111"/>
<circle cx="362.6" cy="101.8" r="1.1" fill="#111"/><circle cx="365.5" cy="101.8" r="1.1" fill="#111"/><circle cx="368.2" cy="101.8" r="1.1" fill="#111"/>
<circle cx="293.2" cy="129.8" r="1.6" fill="#000"/><circle cx="297.8" cy="130.3" r="1.6" fill="#000"/><circle cx="293.2" cy="132.8" r="1.6" fill="#000"/><circle cx="293.2" cy="135.2" r="1.6" fill="#000"/><circle cx="297.8" cy="135.2" r="1.6" fill="#000"/><circle cx="302.3" cy="134.4" r="1.6" fill="#000"/><circle cx="293.2" cy="138" r="1.6" fill="#000"/><circle cx="297.8" cy="141" r="1.6" fill="#000"/><circle cx="302.3" cy="141.8" r="1.6" fill="#000"/><circle cx="293.2" cy="143.4" r="1.6" fill="#000"/><circle cx="299" cy="144.5" r="1.6" fill="#000"/><circle cx="303.5" cy="144" r="1.6" fill="#000"/><circle cx="291" cy="146.5" r="1.6" fill="#000"/><circle cx="295.5" cy="147" r="1.6" fill="#000"/><circle cx="300" cy="146.5" r="1.6" fill="#000"/><circle cx="304" cy="147.5" r="1.6" fill="#000"/><circle cx="292" cy="149.5" r="1.6" fill="#000"/><circle cx="296.5" cy="150" r="1.6" fill="#000"/><circle cx="301" cy="149.8" r="1.6" fill="#000"/><circle cx="293" cy="152.5" r="1.6" fill="#000"/><circle cx="297.8" cy="152" r="1.6" fill="#000"/><circle cx="302" cy="152.5" r="1.6" fill="#000"/><circle cx="297.8" cy="156" r="1.6" fill="#000"/><circle cx="302.3" cy="156" r="1.6" fill="#000"/>
<path d="M326 100.35L327.65 102L326 103.65L324.35 102Z" fill="#fff" stroke="#000" stroke-width="1.5"/><path d="M321.5 103.25L323.15 104.9L321.5 106.55000000000001L319.85 104.9Z" fill="#fff" stroke="#000" stroke-width="1.5"/><path d="M326 105.75L327.65 107.4L326 109.05000000000001L324.35 107.4Z" fill="#fff" stroke="#000" stroke-width="1.5"/><path d="M330.5 105.75L332.15 107.4L330.5 109.05000000000001L328.85 107.4Z" fill="#fff" stroke="#000" stroke-width="1.5"/><path d="M321.5 109.44999999999999L323.15 111.1L321.5 112.75L319.85 111.1Z" fill="#fff" stroke="#000" stroke-width="1.5"/><path d="M326 111.14999999999999L327.65 112.8L326 114.45L324.35 112.8Z" fill="#fff" stroke="#000" stroke-width="1.5"/><path d="M330.5 108.55L332.15 110.2L330.5 111.85000000000001L328.85 110.2Z" fill="#fff" stroke="#000" stroke-width="1.5"/><path d="M330.5 116.05L332.15 117.7L330.5 119.35000000000001L328.85 117.7Z" fill="#fff" stroke="#000" stroke-width="1.5"/><path d="M326 119.64999999999999L327.65 121.3L326 122.95L324.35 121.3Z" fill="#fff" stroke="#000" stroke-width="1.5"/><path d="M321.5 125.85L323.15 127.5L321.5 129.15L319.85 127.5Z" fill="#fff" stroke="#000" stroke-width="1.5"/><path d="M326 126.54999999999998L327.65 128.2L326 129.85L324.35 128.2Z" fill="#fff" stroke="#000" stroke-width="1.5"/><path d="M321.5 132.75L323.15 134.4L321.5 136.05L319.85 134.4Z" fill="#fff" stroke="#000" stroke-width="1.5"/><path d="M326 133.35L327.65 135L326 136.65L324.35 135Z" fill="#fff" stroke="#000" stroke-width="1.5"/><path d="M330.5 133.85L332.15 135.5L330.5 137.15L328.85 135.5Z" fill="#fff" stroke="#000" stroke-width="1.5"/><path d="M328 135.85L329.65 137.5L328 139.15L326.35 137.5Z" fill="#fff" stroke="#000" stroke-width="1.5"/><path d="M321.5 137.85L323.15 139.5L321.5 141.15L319.85 139.5Z" fill="#fff" stroke="#000" stroke-width="1.5"/><path d="M326 137.85L327.65 139.5L326 141.15L324.35 139.5Z" fill="#fff" stroke="#000" stroke-width="1.5"/><path d="M330.5 138.54999999999998L332.15 140.2L330.5 141.85L328.85 140.2Z" fill="#fff" stroke="#000" stroke-width="1.5"/><path d="M326 140.65L327.65 142.3L326 143.95000000000002L324.35 142.3Z" fill="#fff" stroke="#000" stroke-width="1.5"/><path d="M321.5 144.25L323.15 145.9L321.5 147.55L319.85 145.9Z" fill="#fff" stroke="#000" stroke-width="1.5"/><path d="M326 147.25L327.65 148.9L326 150.55L324.35 148.9Z" fill="#fff" stroke="#000" stroke-width="1.5"/><path d="M330.5 145.85L332.15 147.5L330.5 149.15L328.85 147.5Z" fill="#fff" stroke="#000" stroke-width="1.5"/>
<circle cx="354.1" cy="133.5" r="1.6" fill="#000"/><circle cx="349.3" cy="137.9" r="1.6" fill="#000"/><circle cx="351.8" cy="137.4" r="1.6" fill="#000"/><circle cx="354.2" cy="138.7" r="1.6" fill="#000"/><circle cx="356.9" cy="137.9" r="1.6" fill="#000"/><circle cx="359" cy="137.4" r="1.6" fill="#000"/><circle cx="361.1" cy="136.8" r="1.6" fill="#000"/><circle cx="347" cy="141.8" r="1.6" fill="#000"/><circle cx="349.6" cy="142.5" r="1.6" fill="#000"/><circle cx="351.9" cy="141.9" r="1.6" fill="#000"/><circle cx="354.2" cy="141.4" r="1.6" fill="#000"/><circle cx="356.5" cy="142.1" r="1.6" fill="#000"/><circle cx="358.8" cy="141.8" r="1.6" fill="#000"/><circle cx="361.5" cy="142.1" r="1.6" fill="#000"/><circle cx="349.3" cy="145.2" r="1.6" fill="#000"/><circle cx="351.9" cy="144.4" r="1.6" fill="#000"/><circle cx="354.2" cy="146" r="1.6" fill="#000"/><circle cx="356.5" cy="144.8" r="1.6" fill="#000"/><circle cx="358.8" cy="145.6" r="1.6" fill="#000"/><circle cx="347.4" cy="148.3" r="1.6" fill="#000"/><circle cx="349.6" cy="150.2" r="1.6" fill="#000"/><circle cx="351.9" cy="149.4" r="1.6" fill="#000"/><circle cx="354.2" cy="147.9" r="1.6" fill="#000"/><circle cx="356.5" cy="149.4" r="1.6" fill="#000"/><circle cx="359.2" cy="150.2" r="1.6" fill="#000"/><circle cx="361.5" cy="149" r="1.6" fill="#000"/><circle cx="354.2" cy="151.7" r="1.6" fill="#000"/>
<path d="M382.5 121.55L384.15 123.2L382.5 124.85000000000001L380.85 123.2Z" fill="#fff" stroke="#000" stroke-width="1.5"/><path d="M377.9 126.75L379.54999999999995 128.4L377.9 130.05L376.25 128.4Z" fill="#fff" stroke="#000" stroke-width="1.5"/><path d="M387.2 126.75L388.84999999999997 128.4L387.2 130.05L385.55 128.4Z" fill="#fff" stroke="#000" stroke-width="1.5"/><path d="M382.5 129.85L384.15 131.5L382.5 133.15L380.85 131.5Z" fill="#fff" stroke="#000" stroke-width="1.5"/><path d="M375.3 132.45L376.95 134.1L375.3 135.75L373.65000000000003 134.1Z" fill="#fff" stroke="#000" stroke-width="1.5"/><path d="M380.4 132.95L382.04999999999995 134.6L380.4 136.25L378.75 134.6Z" fill="#fff" stroke="#000" stroke-width="1.5"/><path d="M385.1 132.95L386.75 134.6L385.1 136.25L383.45000000000005 134.6Z" fill="#fff" stroke="#000" stroke-width="1.5"/><path d="M389.8 132.45L391.45 134.1L389.8 135.75L388.15000000000003 134.1Z" fill="#fff" stroke="#000" stroke-width="1.5"/><path d="M377.9 135.54999999999998L379.54999999999995 137.2L377.9 138.85L376.25 137.2Z" fill="#fff" stroke="#000" stroke-width="1.5"/><path d="M382.5 135.04999999999998L384.15 136.7L382.5 138.35L380.85 136.7Z" fill="#fff" stroke="#000" stroke-width="1.5"/><path d="M387.2 136.04999999999998L388.84999999999997 137.7L387.2 139.35L385.55 137.7Z" fill="#fff" stroke="#000" stroke-width="1.5"/><path d="M377.9 138.65L379.54999999999995 140.3L377.9 141.95000000000002L376.25 140.3Z" fill="#fff" stroke="#000" stroke-width="1.5"/><path d="M387.2 138.65L388.84999999999997 140.3L387.2 141.95000000000002L385.55 140.3Z" fill="#fff" stroke="#000" stroke-width="1.5"/><path d="M382.5 141.25L384.15 142.9L382.5 144.55L380.85 142.9Z" fill="#fff" stroke="#000" stroke-width="1.5"/><path d="M379.9 142.85L381.54999999999995 144.5L379.9 146.15L378.25 144.5Z" fill="#fff" stroke="#000" stroke-width="1.5"/><path d="M385.1 142.85L386.75 144.5L385.1 146.15L383.45000000000005 144.5Z" fill="#fff" stroke="#000" stroke-width="1.5"/><path d="M389.3 142.85L390.95 144.5L389.3 146.15L387.65000000000003 144.5Z" fill="#fff" stroke="#000" stroke-width="1.5"/><path d="M377.9 144.85L379.54999999999995 146.5L377.9 148.15L376.25 146.5Z" fill="#fff" stroke="#000" stroke-width="1.5"/><path d="M382.5 144.35L384.15 146L382.5 147.65L380.85 146Z" fill="#fff" stroke="#000" stroke-width="1.5"/><path d="M387.2 145.35L388.84999999999997 147L387.2 148.65L385.55 147Z" fill="#fff" stroke="#000" stroke-width="1.5"/><path d="M377.9 146.45L379.54999999999995 148.1L377.9 149.75L376.25 148.1Z" fill="#fff" stroke="#000" stroke-width="1.5"/><path d="M382.5 147.45L384.15 149.1L382.5 150.75L380.85 149.1Z" fill="#fff" stroke="#000" stroke-width="1.5"/><path d="M387.2 146.95L388.84999999999997 148.6L387.2 150.25L385.55 148.6Z" fill="#fff" stroke="#000" stroke-width="1.5"/>
<line x1="288.2" y1="144.3" x2="307.6" y2="144.3" stroke="#000" stroke-width="1.5"/>
<line x1="315.8" y1="127.5" x2="335.8" y2="127.5" stroke="#000" stroke-width="1.5"/>
<line x1="344.3" y1="144.1" x2="363.8" y2="144.1" stroke="#000" stroke-width="1.5"/>
<line x1="372.7" y1="137.2" x2="392.4" y2="137.2" stroke="#000" stroke-width="1.5"/>
<polyline points="424,94.8 424,168.6 519,168.6" fill="none" stroke="#000" stroke-width="1.7"/>
<line x1="421" y1="95.4" x2="424" y2="95.4" stroke="#000" stroke-width="1.1"/>
<text x="420.8" y="97.128" font-size="4.8" text-anchor="end" font-weight="normal" fill="#1a1a1a">5000</text>
<line x1="421" y1="109.9" x2="424" y2="109.9" stroke="#000" stroke-width="1.1"/>
<text x="420.8" y="111.628" font-size="4.8" text-anchor="end" font-weight="normal" fill="#1a1a1a">4000</text>
<line x1="421" y1="124.6" x2="424" y2="124.6" stroke="#000" stroke-width="1.1"/>
<text x="420.8" y="126.32799999999999" font-size="4.8" text-anchor="end" font-weight="normal" fill="#1a1a1a">3000</text>
<line x1="421" y1="139.3" x2="424" y2="139.3" stroke="#000" stroke-width="1.1"/>
<text x="420.8" y="141.02800000000002" font-size="4.8" text-anchor="end" font-weight="normal" fill="#1a1a1a">2000</text>
<line x1="421" y1="154.1" x2="424" y2="154.1" stroke="#000" stroke-width="1.1"/>
<text x="420.8" y="155.828" font-size="4.8" text-anchor="end" font-weight="normal" fill="#1a1a1a">1000</text>
<line x1="421" y1="168.6" x2="424" y2="168.6" stroke="#000" stroke-width="1.1"/>
<text x="420.8" y="170.328" font-size="4.8" text-anchor="end" font-weight="normal" fill="#1a1a1a">0</text>
<line x1="448.2" y1="168.6" x2="448.2" y2="171.9" stroke="#000" stroke-width="1.4"/>
<line x1="495.4" y1="168.6" x2="495.4" y2="171.9" stroke="#000" stroke-width="1.4"/>
<text x="437.6" y="179.7" font-size="7.4" fill="#1a1a1a">CD57<tspan font-size="4.6" dy="-2.80">+</tspan></text>
<text x="487" y="179.7" font-size="7.4" fill="#1a1a1a">CD57<tspan font-size="4.5" dy="-3.00">neg</tspan></text>
<text x="406.9" y="129.9" font-size="7.6" text-anchor="middle" font-weight="bold" fill="#111" transform="rotate(-90 406.9 129.9)">NKp30 Geom. MFI</text>
<circle cx="465.4" cy="98.2" r="1.1" fill="#111"/><circle cx="467.9" cy="98.2" r="1.1" fill="#111"/><circle cx="470.5" cy="98.2" r="1.1" fill="#111"/>
<circle cx="448.4" cy="112.4" r="1.6" fill="#000"/><circle cx="452.4" cy="111.8" r="1.6" fill="#000"/><circle cx="444.7" cy="127.5" r="1.6" fill="#000"/><circle cx="448.4" cy="131.9" r="1.6" fill="#000"/><circle cx="444.7" cy="135.6" r="1.6" fill="#000"/><circle cx="452.4" cy="136.7" r="1.6" fill="#000"/><circle cx="448.4" cy="139.2" r="1.6" fill="#000"/><circle cx="452.4" cy="140.7" r="1.6" fill="#000"/><circle cx="444.7" cy="142.9" r="1.6" fill="#000"/><circle cx="448.4" cy="144.7" r="1.6" fill="#000"/><circle cx="444.7" cy="150.2" r="1.6" fill="#000"/><circle cx="448.4" cy="151.6" r="1.6" fill="#000"/><circle cx="452.4" cy="151.6" r="1.6" fill="#000"/><circle cx="456.4" cy="149.8" r="1.6" fill="#000"/>
<path d="M495.9 104.35L497.54999999999995 106L495.9 107.65L494.25 106Z" fill="#fff" stroke="#000" stroke-width="1.5"/><path d="M499.9 102.44999999999999L501.54999999999995 104.1L499.9 105.75L498.25 104.1Z" fill="#fff" stroke="#000" stroke-width="1.5"/><path d="M492.2 114.35L493.84999999999997 116L492.2 117.65L490.55 116Z" fill="#fff" stroke="#000" stroke-width="1.5"/><path d="M495.9 118.94999999999999L497.54999999999995 120.6L495.9 122.25L494.25 120.6Z" fill="#fff" stroke="#000" stroke-width="1.5"/><path d="M492.2 124.44999999999999L493.84999999999997 126.1L492.2 127.75L490.55 126.1Z" fill="#fff" stroke="#000" stroke-width="1.5"/><path d="M495.9 124.75L497.54999999999995 126.4L495.9 128.05L494.25 126.4Z" fill="#fff" stroke="#000" stroke-width="1.5"/><path d="M499.5 124.75L501.15 126.4L499.5 128.05L497.85 126.4Z" fill="#fff" stroke="#000" stroke-width="1.5"/><path d="M503.6 135.04999999999998L505.25 136.7L503.6 138.35L501.95000000000005 136.7Z" fill="#fff" stroke="#000" stroke-width="1.5"/><path d="M488 137.54999999999998L489.65 139.2L488 140.85L486.35 139.2Z" fill="#fff" stroke="#000" stroke-width="1.5"/><path d="M492.2 138.15L493.84999999999997 139.8L492.2 141.45000000000002L490.55 139.8Z" fill="#fff" stroke="#000" stroke-width="1.5"/><path d="M495.9 138.15L497.54999999999995 139.8L495.9 141.45000000000002L494.25 139.8Z" fill="#fff" stroke="#000" stroke-width="1.5"/><path d="M499.9 137.54999999999998L501.54999999999995 139.2L499.9 140.85L498.25 139.2Z" fill="#fff" stroke="#000" stroke-width="1.5"/><path d="M495.9 142.65L497.54999999999995 144.3L495.9 145.95000000000002L494.25 144.3Z" fill="#fff" stroke="#000" stroke-width="1.5"/><path d="M499.9 141.75L501.54999999999995 143.4L499.9 145.05L498.25 143.4Z" fill="#fff" stroke="#000" stroke-width="1.5"/>
<line x1="431.9" y1="137" x2="464.8" y2="137" stroke="#000" stroke-width="1.5"/>
<line x1="479.8" y1="129.3" x2="512.7" y2="129.3" stroke="#000" stroke-width="1.5"/>
<polyline points="34.7,276.4 34.7,351.8 143.9,351.8" fill="none" stroke="#000" stroke-width="1.7"/>
<line x1="31.700000000000003" y1="276.8" x2="34.7" y2="276.8" stroke="#000" stroke-width="1.1"/>
<text x="31.500000000000004" y="278.81600000000003" font-size="5.6" text-anchor="end" font-weight="normal" fill="#1a1a1a">30000</text>
<line x1="31.700000000000003" y1="301.8" x2="34.7" y2="301.8" stroke="#000" stroke-width="1.1"/>
<text x="31.500000000000004" y="303.81600000000003" font-size="5.6" text-anchor="end" font-weight="normal" fill="#1a1a1a">20000</text>
<line x1="31.700000000000003" y1="326.6" x2="34.7" y2="326.6" stroke="#000" stroke-width="1.1"/>
<text x="31.500000000000004" y="328.61600000000004" font-size="5.6" text-anchor="end" font-weight="normal" fill="#1a1a1a">10000</text>
<line x1="31.700000000000003" y1="351.6" x2="34.7" y2="351.6" stroke="#000" stroke-width="1.1"/>
<text x="31.500000000000004" y="353.61600000000004" font-size="5.6" text-anchor="end" font-weight="normal" fill="#1a1a1a">0</text>
<line x1="62.1" y1="351.8" x2="62.1" y2="355.1" stroke="#000" stroke-width="1.4"/>
<line x1="116.9" y1="351.8" x2="116.9" y2="355.1" stroke="#000" stroke-width="1.4"/>
<text x="53.2" y="365.2" font-size="7.1" fill="#1a1a1a">CD57<tspan font-size="4.4" dy="-2.70">+</tspan></text>
<text x="107.4" y="365.2" font-size="7.1" fill="#1a1a1a">CD57<tspan font-size="4.3" dy="-2.90">neg</tspan></text>
<text x="15.4" y="310.2" font-size="7.3" text-anchor="middle" font-weight="bold" fill="#111" transform="rotate(-90 15.4 310.2)">CD16 Geom. MFI</text>
<circle cx="85.2" cy="278.8" r="1.1" fill="#111"/><circle cx="87.8" cy="278.8" r="1.1" fill="#111"/><circle cx="90.5" cy="278.8" r="1.1" fill="#111"/>
<circle cx="62.7" cy="286.3" r="1.6" fill="#000"/><circle cx="62.7" cy="304" r="1.6" fill="#000"/><circle cx="62.7" cy="313.1" r="1.6" fill="#000"/><circle cx="66.9" cy="315" r="1.6" fill="#000"/><circle cx="49.6" cy="320" r="1.6" fill="#000"/><circle cx="62.7" cy="319.4" r="1.6" fill="#000"/><circle cx="53.8" cy="323.3" r="1.6" fill="#000"/><circle cx="58.3" cy="323.8" r="1.6" fill="#000"/><circle cx="62.7" cy="323.8" r="1.6" fill="#000"/><circle cx="66.9" cy="323.3" r="1.6" fill="#000"/><circle cx="71.2" cy="322.7" r="1.6" fill="#000"/><circle cx="53.8" cy="327.7" r="1.6" fill="#000"/><circle cx="58.3" cy="328.5" r="1.6" fill="#000"/><circle cx="62.7" cy="329.6" r="1.6" fill="#000"/><circle cx="66.9" cy="329.6" r="1.6" fill="#000"/><circle cx="71.2" cy="328.5" r="1.6" fill="#000"/><circle cx="53.8" cy="332.9" r="1.6" fill="#000"/><circle cx="58.3" cy="337.3" r="1.6" fill="#000"/><circle cx="62.7" cy="337.3" r="1.6" fill="#000"/><circle cx="66.9" cy="334.8" r="1.6" fill="#000"/><circle cx="66.9" cy="339.2" r="1.6" fill="#000"/><circle cx="62.7" cy="342.5" r="1.6" fill="#000"/>
<path d="M116.9 296.05L118.55000000000001 297.7L116.9 299.34999999999997L115.25 297.7Z" fill="#fff" stroke="#000" stroke-width="1.5"/><path d="M116.9 311.45000000000005L118.55000000000001 313.1L116.9 314.75L115.25 313.1Z" fill="#fff" stroke="#000" stroke-width="1.5"/><path d="M116.9 320.25L118.55000000000001 321.9L116.9 323.54999999999995L115.25 321.9Z" fill="#fff" stroke="#000" stroke-width="1.5"/><path d="M121.7 319.65000000000003L123.35000000000001 321.3L121.7 322.95L120.05 321.3Z" fill="#fff" stroke="#000" stroke-width="1.5"/><path d="M108.3 323.55L109.95 325.2L108.3 326.84999999999997L106.64999999999999 325.2Z" fill="#fff" stroke="#000" stroke-width="1.5"/><path d="M112.7 324.55L114.35000000000001 326.2L112.7 327.84999999999997L111.05 326.2Z" fill="#fff" stroke="#000" stroke-width="1.5"/><path d="M116.9 325.45000000000005L118.55000000000001 327.1L116.9 328.75L115.25 327.1Z" fill="#fff" stroke="#000" stroke-width="1.5"/><path d="M121.7 324.55L123.35000000000001 326.2L121.7 327.84999999999997L120.05 326.2Z" fill="#fff" stroke="#000" stroke-width="1.5"/><path d="M108.3 327.35L109.95 329L108.3 330.65L106.64999999999999 329Z" fill="#fff" stroke="#000" stroke-width="1.5"/><path d="M125.6 326.85L127.25 328.5L125.6 330.15L123.94999999999999 328.5Z" fill="#fff" stroke="#000" stroke-width="1.5"/><path d="M130 326.85L131.65 328.5L130 330.15L128.35 328.5Z" fill="#fff" stroke="#000" stroke-width="1.5"/><path d="M108.3 330.85L109.95 332.5L108.3 334.15L106.64999999999999 332.5Z" fill="#fff" stroke="#000" stroke-width="1.5"/><path d="M112.7 329.85L114.35000000000001 331.5L112.7 333.15L111.05 331.5Z" fill="#fff" stroke="#000" stroke-width="1.5"/><path d="M116.9 330.85L118.55000000000001 332.5L116.9 334.15L115.25 332.5Z" fill="#fff" stroke="#000" stroke-width="1.5"/><path d="M121.7 330.85L123.35000000000001 332.5L121.7 334.15L120.05 332.5Z" fill="#fff" stroke="#000" stroke-width="1.5"/><path d="M125.6 329.55L127.25 331.2L125.6 332.84999999999997L123.94999999999999 331.2Z" fill="#fff" stroke="#000" stroke-width="1.5"/><path d="M112.7 334.15000000000003L114.35000000000001 335.8L112.7 337.45L111.05 335.8Z" fill="#fff" stroke="#000" stroke-width="1.5"/><path d="M116.9 335.05L118.55000000000001 336.7L116.9 338.34999999999997L115.25 336.7Z" fill="#fff" stroke="#000" stroke-width="1.5"/><path d="M121.7 334.15000000000003L123.35000000000001 335.8L121.7 337.45L120.05 335.8Z" fill="#fff" stroke="#000" stroke-width="1.5"/><path d="M108.3 337.05L109.95 338.7L108.3 340.34999999999997L106.64999999999999 338.7Z" fill="#fff" stroke="#000" stroke-width="1.5"/><path d="M112.7 337.95000000000005L114.35000000000001 339.6L112.7 341.25L111.05 339.6Z" fill="#fff" stroke="#000" stroke-width="1.5"/><path d="M116.9 336.05L118.55000000000001 337.7L116.9 339.34999999999997L115.25 337.7Z" fill="#fff" stroke="#000" stroke-width="1.5"/><path d="M125.6 337.55L127.25 339.2L125.6 340.84999999999997L123.94999999999999 339.2Z" fill="#fff" stroke="#000" stroke-width="1.5"/><path d="M121.2 339.55L122.85000000000001 341.2L121.2 342.84999999999997L119.55 341.2Z" fill="#fff" stroke="#000" stroke-width="1.5"/><path d="M116.9 341.85L118.55000000000001 343.5L116.9 345.15L115.25 343.5Z" fill="#fff" stroke="#000" stroke-width="1.5"/>
<line x1="44.2" y1="324.8" x2="80.4" y2="324.8" stroke="#000" stroke-width="1.5"/>
<line x1="98.7" y1="330.4" x2="135.2" y2="330.4" stroke="#000" stroke-width="1.5"/>
<polyline points="201.8,277.8 201.8,350.6 310.8,350.6" fill="none" stroke="#000" stroke-width="1.7"/>
<line x1="198.8" y1="278.2" x2="201.8" y2="278.2" stroke="#000" stroke-width="1.1"/>
<text x="198.60000000000002" y="279.928" font-size="4.8" text-anchor="end" font-weight="normal" fill="#1a1a1a">100</text>
<line x1="198.8" y1="292.5" x2="201.8" y2="292.5" stroke="#000" stroke-width="1.1"/>
<text x="198.60000000000002" y="294.228" font-size="4.8" text-anchor="end" font-weight="normal" fill="#1a1a1a">80</text>
<line x1="198.8" y1="306.8" x2="201.8" y2="306.8" stroke="#000" stroke-width="1.1"/>
<text x="198.60000000000002" y="308.528" font-size="4.8" text-anchor="end" font-weight="normal" fill="#1a1a1a">60</text>
<line x1="198.8" y1="321.1" x2="201.8" y2="321.1" stroke="#000" stroke-width="1.1"/>
<text x="198.60000000000002" y="322.82800000000003" font-size="4.8" text-anchor="end" font-weight="normal" fill="#1a1a1a">40</text>
<line x1="198.8" y1="335.4" x2="201.8" y2="335.4" stroke="#000" stroke-width="1.1"/>
<text x="198.60000000000002" y="337.128" font-size="4.8" text-anchor="end" font-weight="normal" fill="#1a1a1a">20</text>
<line x1="198.8" y1="349.8" x2="201.8" y2="349.8" stroke="#000" stroke-width="1.1"/>
<text x="198.60000000000002" y="351.528" font-size="4.8" text-anchor="end" font-weight="normal" fill="#1a1a1a">0</text>
<line x1="230.2" y1="350.6" x2="230.2" y2="353.90000000000003" stroke="#000" stroke-width="1.4"/>
<line x1="282.7" y1="350.6" x2="282.7" y2="353.90000000000003" stroke="#000" stroke-width="1.4"/>
<text x="219.6" y="361.3" font-size="7.2" fill="#1a1a1a">CD57<tspan font-size="4.4" dy="-2.70">+</tspan></text>
<text x="272.2" y="361.3" font-size="7.2" fill="#1a1a1a">CD57<tspan font-size="4.3" dy="-2.90">neg</tspan></text>
<text x="189.1" y="311.1" font-size="5.7" text-anchor="middle" font-weight="bold" fill="#111" transform="rotate(-90 189.1 311.1)">% of KLRG1+ NK cells</text>
<circle cx="250" cy="276.8" r="1.1" fill="#111"/><circle cx="252.7" cy="276.8" r="1.1" fill="#111"/><circle cx="255.5" cy="276.8" r="1.1" fill="#111"/>
<circle cx="228.6" cy="295.5" r="1.6" fill="#000"/><circle cx="224.6" cy="303.2" r="1.6" fill="#000"/><circle cx="232.8" cy="304.2" r="1.6" fill="#000"/><circle cx="228.6" cy="306.8" r="1.6" fill="#000"/><circle cx="220" cy="311.6" r="1.6" fill="#000"/><circle cx="224.6" cy="311.9" r="1.6" fill="#000"/><circle cx="228.6" cy="312.3" r="1.6" fill="#000"/><circle cx="232.8" cy="311.6" r="1.6" fill="#000"/><circle cx="237.4" cy="310.5" r="1.6" fill="#000"/><circle cx="224.6" cy="318.9" r="1.6" fill="#000"/><circle cx="228.6" cy="321.4" r="1.6" fill="#000"/><circle cx="232.8" cy="319.2" r="1.6" fill="#000"/><circle cx="237.4" cy="317.8" r="1.6" fill="#000"/><circle cx="224.6" cy="326.2" r="1.6" fill="#000"/><circle cx="228.6" cy="328.7" r="1.6" fill="#000"/><circle cx="228.6" cy="336.6" r="1.6" fill="#000"/><circle cx="232.8" cy="334.8" r="1.6" fill="#000"/>
<path d="M283.1 291.05L284.75 292.7L283.1 294.34999999999997L281.45000000000005 292.7Z" fill="#fff" stroke="#000" stroke-width="1.5"/><path d="M287.6 290.15000000000003L289.25 291.8L287.6 293.45L285.95000000000005 291.8Z" fill="#fff" stroke="#000" stroke-width="1.5"/><path d="M287.6 292.95000000000005L289.25 294.6L287.6 296.25L285.95000000000005 294.6Z" fill="#fff" stroke="#000" stroke-width="1.5"/><path d="M278.5 295.25L280.15 296.9L278.5 298.54999999999995L276.85 296.9Z" fill="#fff" stroke="#000" stroke-width="1.5"/><path d="M283.1 296.05L284.75 297.7L283.1 299.34999999999997L281.45000000000005 297.7Z" fill="#fff" stroke="#000" stroke-width="1.5"/><path d="M278.5 300.25L280.15 301.9L278.5 303.54999999999995L276.85 301.9Z" fill="#fff" stroke="#000" stroke-width="1.5"/><path d="M287.6 300.75L289.25 302.4L287.6 304.04999999999995L285.95000000000005 302.4Z" fill="#fff" stroke="#000" stroke-width="1.5"/><path d="M283.1 302.95000000000005L284.75 304.6L283.1 306.25L281.45000000000005 304.6Z" fill="#fff" stroke="#000" stroke-width="1.5"/><path d="M274.5 305.45000000000005L276.15 307.1L274.5 308.75L272.85 307.1Z" fill="#fff" stroke="#000" stroke-width="1.5"/><path d="M278.5 306.35L280.15 308L278.5 309.65L276.85 308Z" fill="#fff" stroke="#000" stroke-width="1.5"/><path d="M283.1 305.45000000000005L284.75 307.1L283.1 308.75L281.45000000000005 307.1Z" fill="#fff" stroke="#000" stroke-width="1.5"/><path d="M287.6 305.95000000000005L289.25 307.6L287.6 309.25L285.95000000000005 307.6Z" fill="#fff" stroke="#000" stroke-width="1.5"/><path d="M291.5 305.45000000000005L293.15 307.1L291.5 308.75L289.85 307.1Z" fill="#fff" stroke="#000" stroke-width="1.5"/><path d="M283.1 308.45000000000005L284.75 310.1L283.1 311.75L281.45000000000005 310.1Z" fill="#fff" stroke="#000" stroke-width="1.5"/><path d="M283.1 316.65000000000003L284.75 318.3L283.1 319.95L281.45000000000005 318.3Z" fill="#fff" stroke="#000" stroke-width="1.5"/><path d="M287.6 316.65000000000003L289.25 318.3L287.6 319.95L285.95000000000005 318.3Z" fill="#fff" stroke="#000" stroke-width="1.5"/><path d="M283.1 325.25L284.75 326.9L283.1 328.54999999999995L281.45000000000005 326.9Z" fill="#fff" stroke="#000" stroke-width="1.5"/><path d="M283.1 332.55L284.75 334.2L283.1 335.84999999999997L281.45000000000005 334.2Z" fill="#fff" stroke="#000" stroke-width="1.5"/>
<line x1="210.1" y1="316.1" x2="247.1" y2="316.1" stroke="#000" stroke-width="1.5"/>
<line x1="264.4" y1="306.8" x2="301.3" y2="306.8" stroke="#000" stroke-width="1.5"/>
<rect x="322.8" y="211.8" width="4.8" height="4.2" fill="#eee" stroke="#111" stroke-width="1.4"/>
<text x="332.8" y="215.1" font-size="6.8" fill="#222">Isotype</text>
<line x1="322.5" y1="226.4" x2="328.1" y2="226.4" stroke="#111" stroke-width="1.0"/>
<text x="332.8" y="226.5" font-size="6.5" fill="#222">CD57<tspan font-size="4.2" dy="-2.50">+</tspan></text>
<line x1="322.5" y1="237.1" x2="328.1" y2="237.1" stroke="#111" stroke-width="1.8"/>
<text x="332.8" y="237.1" font-size="6.5" fill="#222">CD57<tspan font-size="4.4" dy="-2.60">neg</tspan></text>
<circle cx="387.7" cy="223.9" r="1.6" fill="#000"/>
<path d="M387.4 231.6L389.4 233.6L387.4 235.6L385.4 233.6Z" fill="#fff" stroke="#000" stroke-width="1.4"/>
<text x="394.3" y="225.5" font-size="7.5" fill="#111">CD57<tspan font-size="4.6" dy="-2.80">+</tspan></text>
<text x="394.3" y="235.8" font-size="7.5" fill="#111">CD57<tspan font-size="5" dy="-2.60">neg</tspan></text>
</svg></body></html>
